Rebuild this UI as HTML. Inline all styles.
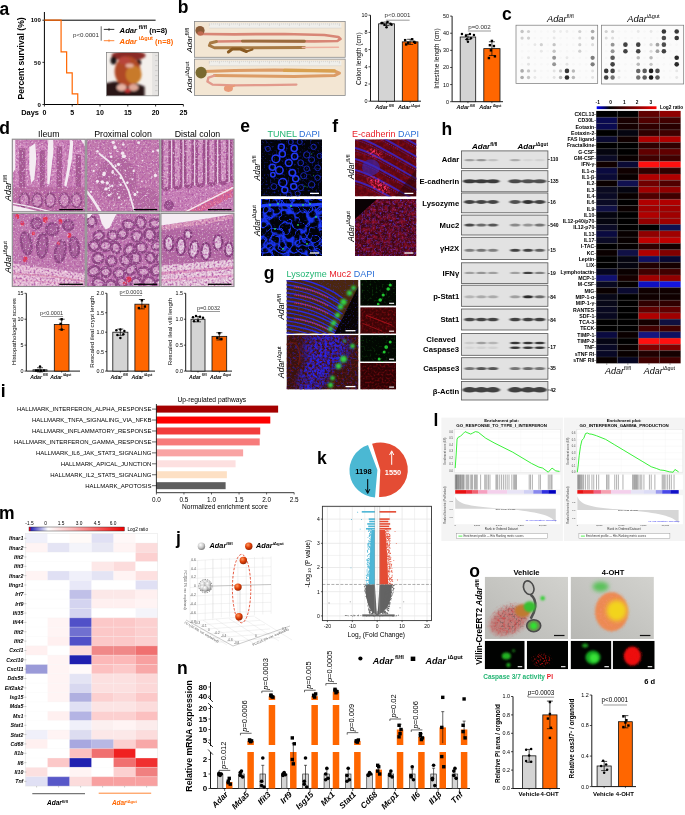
<!DOCTYPE html>
<html><head><meta charset="utf-8"><style>
html,body{margin:0;padding:0;background:#fff;width:685px;height:815px;overflow:hidden}
svg{display:block;will-change:transform}
text{font-family:"Liberation Sans",sans-serif}
</style></head><body>
<svg width="685" height="815" viewBox="0 0 685 815">
<defs><filter id="isoft" x="-50%" y="-50%" width="200%" height="200%"><feGaussianBlur stdDeviation="0.9"/></filter>
<clipPath id="c1"><rect x="106.6" y="52.6" width="52" height="43.2"/></clipPath>
<clipPath id="c2"><rect x="194.4" y="21.5" width="150.8" height="35.8"/></clipPath>
<clipPath id="c3"><rect x="194.4" y="59.1" width="150.8" height="36.3"/></clipPath>
<filter id="blur04" x="-20%" y="-20%" width="140%" height="140%"><feGaussianBlur stdDeviation="0.45"/></filter>
<filter id="blur08" x="-20%" y="-20%" width="140%" height="140%"><feGaussianBlur stdDeviation="0.8"/></filter>
<linearGradient id="gc" x1="0" x2="1" y1="0" y2="0"><stop offset="0" stop-color="#0000ff"/><stop offset="0.22" stop-color="#000000"/><stop offset="0.85" stop-color="#c00000"/><stop offset="1" stop-color="#ff0000"/></linearGradient>
<filter id="nuc" x="0" y="0" width="100%" height="100%"><feTurbulence type="fractalNoise" baseFrequency="0.5" numOctaves="2" seed="4"/><feColorMatrix type="matrix" values="0 0 0 0 0.44  0 0 0 0 0.1  0 0 0 0 0.38  2.8 0 0 0 -1.2"/></filter>
<filter id="nuc2" x="0" y="0" width="100%" height="100%"><feTurbulence type="fractalNoise" baseFrequency="0.9" numOctaves="2" seed="9"/><feColorMatrix type="matrix" values="0 0 0 0 0.3  0 0 0 0 0.08  0 0 0 0 0.32  3.2 0 0 0 -1.45"/></filter>
<filter id="wsp" x="0" y="0" width="100%" height="100%"><feTurbulence type="fractalNoise" baseFrequency="0.55" numOctaves="2" seed="11"/><feColorMatrix type="matrix" values="0 0 0 0 1  0 0 0 0 0.92  0 0 0 0 1  0 2.0 0 0 -1.1"/></filter>
<clipPath id="c4"><rect x="12.3" y="139.2" width="73" height="72.6"/></clipPath>
<clipPath id="c5"><rect x="86.7" y="139.2" width="73" height="72.6"/></clipPath>
<clipPath id="c6"><rect x="160.9" y="139.2" width="73.1" height="72.6"/></clipPath>
<clipPath id="c7"><rect x="12.3" y="213.4" width="73" height="73.1"/></clipPath>
<clipPath id="c8"><rect x="86.7" y="213.4" width="73" height="73.1"/></clipPath>
<clipPath id="c9"><rect x="160.9" y="213.4" width="73.1" height="73.1"/></clipPath>
<clipPath id="c10"><rect x="261" y="139.3" width="61" height="57.1"/></clipPath>
<filter id="nz1" x="0" y="0" width="100%" height="100%" color-interpolation-filters="sRGB"><feTurbulence type="fractalNoise" baseFrequency="0.5" numOctaves="2" seed="3"/><feColorMatrix type="matrix" values="0 0 0 0 0.1  0 0 0 0 0.15  0 0 0 0 0.85  1.8 0 0 0 -0.95"/></filter>
<clipPath id="c11"><rect x="261" y="198.9" width="61" height="57.1"/></clipPath>
<filter id="mesh" x="0" y="0" width="100%" height="100%" color-interpolation-filters="sRGB"><feTurbulence type="fractalNoise" baseFrequency="0.075" numOctaves="2" seed="21"/><feColorMatrix type="matrix" values="0 0 0 0 0.1  0 0 0 0 0.22  0 0 0 0 1  1 0 0 0 0"/><feComponentTransfer><feFuncA type="table" tableValues="0 0 0 0 0 0 0 0 0 0 0 0 0 0 0 0 0 0 0.15 0.6 1 0.6 0.15 0 0 0 0 0 0 0 0 0 0 0 0 0 0 0 0 0 0"/></feComponentTransfer></filter>
<filter id="mesh2" x="0" y="0" width="100%" height="100%" color-interpolation-filters="sRGB"><feTurbulence type="fractalNoise" baseFrequency="0.1" numOctaves="2" seed="37"/><feColorMatrix type="matrix" values="0 0 0 0 0.1  0 0 0 0 0.2  0 0 0 0 0.95  1 0 0 0 0"/><feComponentTransfer><feFuncA type="table" tableValues="0 0 0 0 0 0 0 0 0 0 0 0 0 0 0 0 0 0 0 0.4 1 0.4 0 0 0 0 0 0 0 0 0 0 0 0 0 0 0 0 0 0 0"/></feComponentTransfer></filter>
<filter id="nz2" x="0" y="0" width="100%" height="100%" color-interpolation-filters="sRGB"><feTurbulence type="fractalNoise" baseFrequency="0.5" numOctaves="2" seed="8"/><feColorMatrix type="matrix" values="0 0 0 0 0.12  0 0 0 0 0.22  0 0 0 0 1  1.8 0 0 0 -1.05"/></filter>
<clipPath id="c12"><rect x="355" y="139.3" width="61.4" height="57.1"/></clipPath>
<filter id="nz3" x="0" y="0" width="100%" height="100%" color-interpolation-filters="sRGB"><feTurbulence type="fractalNoise" baseFrequency="0.3" numOctaves="2" seed="5"/><feColorMatrix type="matrix" values="0 0 0 0 0.62  0 0 0 0 0.05  0 0 0 0 0.1  1.5 0 0 0 -0.6"/></filter>
<radialGradient id="rgfade"><stop offset="0" stop-color="#fff"/><stop offset="0.55" stop-color="#fff"/><stop offset="1" stop-color="#fff" stop-opacity="0"/></radialGradient>
<mask id="mk1" maskUnits="userSpaceOnUse" x="0" y="0" width="685" height="815"><ellipse cx="379" cy="185.3" rx="16" ry="7" fill="url(#rgfade)" transform="rotate(35 379 185.3)"/></mask>
<filter id="nz4" x="0" y="0" width="100%" height="100%" color-interpolation-filters="sRGB"><feTurbulence type="fractalNoise" baseFrequency="0.45" numOctaves="2" seed="12"/><feColorMatrix type="matrix" values="0 0 0 0 1  0 0 0 0 0.2  0 0 0 0 0.4  3.2 0 0 0 -1.3"/></filter>
<mask id="mk2" maskUnits="userSpaceOnUse" x="0" y="0" width="685" height="815"><ellipse cx="375" cy="153.3" rx="10" ry="5" fill="url(#rgfade)" transform="rotate(20 375 153.3)"/></mask>
<filter id="nz5" x="0" y="0" width="100%" height="100%" color-interpolation-filters="sRGB"><feTurbulence type="fractalNoise" baseFrequency="0.45" numOctaves="2" seed="13"/><feColorMatrix type="matrix" values="0 0 0 0 1  0 0 0 0 0.2  0 0 0 0 0.4  3.2 0 0 0 -1.3"/></filter>
<clipPath id="c13"><rect x="355" y="198.9" width="61.4" height="57.1"/></clipPath>
<filter id="nz6" x="0" y="0" width="100%" height="100%" color-interpolation-filters="sRGB"><feTurbulence type="fractalNoise" baseFrequency="0.55" numOctaves="2" seed="14"/><feColorMatrix type="matrix" values="0 0 0 0 0.36  0 0 0 0 0.2  0 0 0 0 0.85  2.3 0 0 0 -1.05"/></filter>
<filter id="nz7" x="0" y="0" width="100%" height="100%" color-interpolation-filters="sRGB"><feTurbulence type="fractalNoise" baseFrequency="0.25" numOctaves="2" seed="15"/><feColorMatrix type="matrix" values="0 0 0 0 0.7  0 0 0 0 0.08  0 0 0 0 0.18  1.4 0 0 0 -0.5"/></filter>
<clipPath id="c14"><rect x="286.5" y="280" width="72" height="53.7"/></clipPath>
<filter id="nz8" x="0" y="0" width="100%" height="100%" color-interpolation-filters="sRGB"><feTurbulence type="fractalNoise" baseFrequency="0.6" numOctaves="2" seed="31"/><feColorMatrix type="matrix" values="0 0 0 0 0.2  0 0 0 0 0.2  0 0 0 0 0.95  1.6 0 0 0 -0.9"/></filter>
<clipPath id="c15"><rect x="286.5" y="335.1" width="72" height="54.5"/></clipPath>
<radialGradient id="g2m"><stop offset="0" stop-color="#fff"/><stop offset="0.6" stop-color="#fff" stop-opacity="0.8"/><stop offset="1" stop-color="#fff" stop-opacity="0"/></radialGradient>
<mask id="g2mask"><ellipse cx="326.5" cy="349.1" rx="30" ry="26" fill="url(#g2m)"/><ellipse cx="314.5" cy="375.1" rx="18" ry="30" fill="url(#g2m)" transform="rotate(30 314.5 375.1)"/></mask>
<filter id="nz9" x="0" y="0" width="100%" height="100%" color-interpolation-filters="sRGB"><feTurbulence type="fractalNoise" baseFrequency="0.4" numOctaves="2" seed="33"/><feColorMatrix type="matrix" values="0 0 0 0 0.16  0 0 0 0 0.14  0 0 0 0 0.95  3.4 0 0 0 -1.1"/></filter>
<filter id="nz10" x="0" y="0" width="100%" height="100%" color-interpolation-filters="sRGB"><feTurbulence type="fractalNoise" baseFrequency="0.4" numOctaves="2" seed="35"/><feColorMatrix type="matrix" values="0 0 0 0 0.16  0 0 0 0 0.14  0 0 0 0 0.9  2 0 0 0 -1.05"/></filter>
<filter id="nz11" x="0" y="0" width="100%" height="100%" color-interpolation-filters="sRGB"><feTurbulence type="fractalNoise" baseFrequency="0.5" numOctaves="2" seed="34"/><feColorMatrix type="matrix" values="0 0 0 0 0.55  0 0 0 0 0.08  0 0 0 0 0.1  2 0 0 0 -1"/></filter>
<clipPath id="c16"><rect x="360.2" y="280" width="35.9" height="25.8"/></clipPath>
<filter id="nz12" x="0" y="0" width="100%" height="100%" color-interpolation-filters="sRGB"><feTurbulence type="fractalNoise" baseFrequency="0.5" numOctaves="2" seed="41"/><feColorMatrix type="matrix" values="0 0 0 0 0.1  0 0 0 0 0.5  0 0 0 0 0.1  1.5 0 0 0 -0.85"/></filter>
<clipPath id="c17"><rect x="360.2" y="307.2" width="35.9" height="26.5"/></clipPath>
<filter id="nz13" x="0" y="0" width="100%" height="100%" color-interpolation-filters="sRGB"><feTurbulence type="fractalNoise" baseFrequency="0.5" numOctaves="2" seed="51"/><feColorMatrix type="matrix" values="0 0 0 0 0.6  0 0 0 0 0.05  0 0 0 0 0.08  1.8 0 0 0 -0.8"/></filter>
<clipPath id="c18"><rect x="360.2" y="335.1" width="35.9" height="26.6"/></clipPath>
<filter id="nz14" x="0" y="0" width="100%" height="100%" color-interpolation-filters="sRGB"><feTurbulence type="fractalNoise" baseFrequency="0.5" numOctaves="2" seed="42"/><feColorMatrix type="matrix" values="0 0 0 0 0.1  0 0 0 0 0.5  0 0 0 0 0.1  1.5 0 0 0 -0.85"/></filter>
<clipPath id="c19"><rect x="360.2" y="363" width="35.9" height="26.6"/></clipPath>
<filter id="nz15" x="0" y="0" width="100%" height="100%" color-interpolation-filters="sRGB"><feTurbulence type="fractalNoise" baseFrequency="0.5" numOctaves="2" seed="52"/><feColorMatrix type="matrix" values="0 0 0 0 0.6  0 0 0 0 0.05  0 0 0 0 0.08  1.8 0 0 0 -0.8"/></filter>
<filter id="bandblur" x="-30%" y="-80%" width="160%" height="260%"><feGaussianBlur stdDeviation="0.9 0.6"/></filter>
<linearGradient id="gm" x1="0" x2="1" y1="0" y2="0"><stop offset="0" stop-color="#1010b0"/><stop offset="0.2" stop-color="#ffffff"/><stop offset="0.45" stop-color="#fbbaba"/><stop offset="1" stop-color="#f00000"/></linearGradient>
<radialGradient id="sph_g" cx="0.38" cy="0.32" r="0.75"><stop offset="0" stop-color="#ffffff"/><stop offset="0.55" stop-color="#c8c8c8"/><stop offset="1" stop-color="#6e6e6e"/></radialGradient>
<radialGradient id="sph_o" cx="0.38" cy="0.32" r="0.75"><stop offset="0" stop-color="#ff9a60"/><stop offset="0.5" stop-color="#e04008"/><stop offset="1" stop-color="#8a2000"/></radialGradient>
<linearGradient id="obg" x1="0" y1="1" x2="1" y2="0"><stop offset="0" stop-color="#b8b8b4"/><stop offset="1" stop-color="#d2d2ce"/></linearGradient>
<filter id="soft1" x="-50%" y="-50%" width="200%" height="200%"><feGaussianBlur stdDeviation="1.2"/></filter>
<filter id="soft2" x="-50%" y="-50%" width="200%" height="200%"><feGaussianBlur stdDeviation="2.2"/></filter>
<clipPath id="c20"><rect x="484.7" y="576.7" width="83.3" height="62.3"/></clipPath>
<mask id="mk3" maskUnits="userSpaceOnUse" x="0" y="0" width="685" height="815"><ellipse cx="508.7" cy="619.7" rx="24" ry="18" fill="url(#rgfade)" transform="rotate(-25 508.7 619.7)"/></mask>
<filter id="nz16" x="0" y="0" width="100%" height="100%" color-interpolation-filters="sRGB"><feTurbulence type="fractalNoise" baseFrequency="0.35" numOctaves="2" seed="62"/><feColorMatrix type="matrix" values="0 0 0 0 0.8  0 0 0 0 0.25  0 0 0 0 0.25  2 0 0 0 -0.9"/></filter>
<mask id="mk4" maskUnits="userSpaceOnUse" x="0" y="0" width="685" height="815"><ellipse cx="510.7" cy="618.7" rx="20" ry="16" fill="url(#rgfade)" transform="rotate(-25 510.7 618.7)"/></mask>
<filter id="nz17" x="0" y="0" width="100%" height="100%" color-interpolation-filters="sRGB"><feTurbulence type="fractalNoise" baseFrequency="0.5" numOctaves="2" seed="65"/><feColorMatrix type="matrix" values="0 0 0 0 0.3  0 0 0 0 0.3  0 0 0 0 0.3  1.8 0 0 0 -0.9"/></filter>
<clipPath id="c21"><rect x="570.6" y="576.7" width="83.3" height="62.3"/></clipPath>
<mask id="mk5" maskUnits="userSpaceOnUse" x="0" y="0" width="685" height="815"><ellipse cx="611.6" cy="611.7" rx="20" ry="23" fill="url(#rgfade)" transform="rotate(0 611.6 611.7)"/></mask>
<filter id="nz18" x="0" y="0" width="100%" height="100%" color-interpolation-filters="sRGB"><feTurbulence type="fractalNoise" baseFrequency="0.45" numOctaves="2" seed="63"/><feColorMatrix type="matrix" values="0 0 0 0 0.95  0 0 0 0 0.55  0 0 0 0 0.4  2 0 0 0 -0.9"/></filter>
<clipPath id="c22"><rect x="484.7" y="640.8" width="40" height="28.4"/></clipPath>
<clipPath id="c23"><rect x="526.8" y="640.8" width="41.2" height="28.4"/></clipPath>
<mask id="mk6" maskUnits="userSpaceOnUse" x="0" y="0" width="685" height="815"><ellipse cx="541.7" cy="660" rx="12" ry="8" fill="url(#rgfade)" transform="rotate(0 541.7 660)"/></mask>
<filter id="nz19" x="0" y="0" width="100%" height="100%" color-interpolation-filters="sRGB"><feTurbulence type="fractalNoise" baseFrequency="0.55" numOctaves="2" seed="72"/><feColorMatrix type="matrix" values="0 0 0 0 0.85  0 0 0 0 0.06  0 0 0 0 0.06  2.6 0 0 0 -1.2"/></filter>
<clipPath id="c24"><rect x="570.6" y="640.8" width="40.8" height="28.4"/></clipPath>
<clipPath id="c25"><rect x="612.7" y="640.8" width="42" height="28.4"/></clipPath>
<mask id="mk7" maskUnits="userSpaceOnUse" x="0" y="0" width="685" height="815"><ellipse cx="632.4" cy="656.1" rx="12" ry="12" fill="url(#rgfade)" transform="rotate(0 632.4 656.1)"/></mask>
<filter id="nz20" x="0" y="0" width="100%" height="100%" color-interpolation-filters="sRGB"><feTurbulence type="fractalNoise" baseFrequency="0.5" numOctaves="2" seed="74"/><feColorMatrix type="matrix" values="0 0 0 0 0.9  0 0 0 0 0.05  0 0 0 0 0.05  2 0 0 0 -1"/></filter></defs>
<text x="-0.6" y="14.5" font-size="17.5" font-weight="bold">a</text>
<line x1="44.4" y1="12" x2="44.4" y2="104.5" stroke="#000" stroke-width="1"/>
<line x1="44.4" y1="104.5" x2="183.4" y2="104.5" stroke="#000" stroke-width="1"/>
<line x1="42.4" y1="104.5" x2="44.4" y2="104.5" stroke="#000" stroke-width="0.8"/>
<text x="40.9" y="106.7" font-size="6.1" font-weight="bold" text-anchor="end">0</text>
<line x1="42.4" y1="62.35" x2="44.4" y2="62.35" stroke="#000" stroke-width="0.8"/>
<text x="40.9" y="64.55" font-size="6.1" font-weight="bold" text-anchor="end">50</text>
<line x1="42.4" y1="20.2" x2="44.4" y2="20.2" stroke="#000" stroke-width="0.8"/>
<text x="40.9" y="22.4" font-size="6.1" font-weight="bold" text-anchor="end">100</text>
<line x1="44.4" y1="104.5" x2="44.4" y2="106.5" stroke="#000" stroke-width="0.8"/>
<text x="44.4" y="115.3" font-size="7" font-weight="bold" text-anchor="middle">0</text>
<line x1="72.2" y1="104.5" x2="72.2" y2="106.5" stroke="#000" stroke-width="0.8"/>
<text x="72.2" y="115.3" font-size="7" font-weight="bold" text-anchor="middle">5</text>
<line x1="100" y1="104.5" x2="100" y2="106.5" stroke="#000" stroke-width="0.8"/>
<text x="100" y="115.3" font-size="7" font-weight="bold" text-anchor="middle">10</text>
<line x1="127.8" y1="104.5" x2="127.8" y2="106.5" stroke="#000" stroke-width="0.8"/>
<text x="127.8" y="115.3" font-size="7" font-weight="bold" text-anchor="middle">15</text>
<line x1="155.6" y1="104.5" x2="155.6" y2="106.5" stroke="#000" stroke-width="0.8"/>
<text x="155.6" y="115.3" font-size="7" font-weight="bold" text-anchor="middle">20</text>
<line x1="183.4" y1="104.5" x2="183.4" y2="106.5" stroke="#000" stroke-width="0.8"/>
<text x="183.4" y="115.3" font-size="7" font-weight="bold" text-anchor="middle">25</text>
<text x="21.2" y="115.3" font-size="7.4" font-weight="bold">Days</text>
<text x="24.2" y="58.4" font-size="8.6" font-weight="bold" text-anchor="middle" transform="rotate(-90 24.2 58.4)">Percent survival (%)</text>
<line x1="44.4" y1="20.2" x2="155.6" y2="20.2" stroke="#000" stroke-width="1"/>
<path d="M44.4 20.2 L61.08 20.2 L61.08 51.81 L66.64 51.81 L66.64 72.89 L72.2 72.89 L72.2 93.96 L77.76 93.96 L77.76 104.5" fill="none" stroke="#ff6600" stroke-width="1.2"/>
<text x="73" y="37.1" font-size="6.2" fill="#333">p&lt;0.0001</text>
<line x1="101.2" y1="26.3" x2="101.2" y2="40.7" stroke="#000" stroke-width="0.6"/>
<line x1="103.8" y1="29.4" x2="114.3" y2="29.4" stroke="#000" stroke-width="0.8"/>
<line x1="109" y1="28" x2="109" y2="31" stroke="#000" stroke-width="0.6"/>
<line x1="103.8" y1="40.7" x2="114.3" y2="40.7" stroke="#ff6600" stroke-width="0.8"/>
<line x1="109" y1="39.3" x2="109" y2="42.1" stroke="#ff6600" stroke-width="0.6"/>
<text x="119.6" y="32.6" font-size="7.7" font-weight="bold" fill="#000"><tspan font-style="italic">Adar</tspan><tspan font-size="5.62" dy="-3.85"> fl/fl</tspan><tspan font-size="7.5" dy="3.85"> (n=8)</tspan></text>
<text x="119.6" y="43.6" font-size="7.7" font-weight="bold" fill="#ff6600"><tspan font-style="italic">Adar</tspan><tspan font-size="5.62" dy="-3.85"> iΔgut</tspan><tspan font-size="7.5" dy="3.85"> (n=8)</tspan></text>
<g clip-path="url(#c1)">
<rect x="106.6" y="52.6" width="52" height="43.2" fill="#f4f0ec"/>
<rect x="152.1" y="52.6" width="6.5" height="43.2" fill="#e6e4e2"/>
<line x1="155.1" y1="55.6" x2="157.6" y2="55.6" stroke="#aaa" stroke-width="0.4"/>
<line x1="155.1" y1="60.6" x2="157.6" y2="60.6" stroke="#aaa" stroke-width="0.4"/>
<line x1="155.1" y1="65.6" x2="157.6" y2="65.6" stroke="#aaa" stroke-width="0.4"/>
<line x1="155.1" y1="70.6" x2="157.6" y2="70.6" stroke="#aaa" stroke-width="0.4"/>
<line x1="155.1" y1="75.6" x2="157.6" y2="75.6" stroke="#aaa" stroke-width="0.4"/>
<line x1="155.1" y1="80.6" x2="157.6" y2="80.6" stroke="#aaa" stroke-width="0.4"/>
<line x1="155.1" y1="85.6" x2="157.6" y2="85.6" stroke="#aaa" stroke-width="0.4"/>
<line x1="155.1" y1="90.6" x2="157.6" y2="90.6" stroke="#aaa" stroke-width="0.4"/>
<line x1="155.1" y1="95.6" x2="157.6" y2="95.6" stroke="#aaa" stroke-width="0.4"/>
<g filter="url(#isoft)">
<path d="M104.6 83.6 L114.6 81.6 L136.6 83.6 L144.6 86.6 L144.6 97.8 L104.6 97.8 Z" fill="#2a1418" stroke="none" stroke-width="1"/>
<ellipse cx="128.6" cy="55.6" rx="17" ry="5" fill="#8a2c26"/>
<ellipse cx="113.6" cy="60.6" rx="3" ry="4" fill="#1a1212"/>
<ellipse cx="138.6" cy="62.6" rx="2.5" ry="3" fill="#1a1212"/>
<ellipse cx="127.6" cy="71.6" rx="13" ry="15" fill="#b04a28"/>
<ellipse cx="133.6" cy="74.6" rx="8" ry="9" fill="#c87a2a"/>
<ellipse cx="124.6" cy="60.6" rx="6" ry="4" fill="#b8443a"/>
<ellipse cx="129.6" cy="65.6" rx="4" ry="2" fill="#e8b0a0"/>
<ellipse cx="121.6" cy="87.6" rx="5" ry="3.5" fill="#e8b4a4"/>
<ellipse cx="133.6" cy="87.6" rx="5" ry="3.5" fill="#e0a898"/>
<ellipse cx="127.6" cy="90.6" rx="3" ry="2" fill="#c83030"/>
</g>
</g>
<rect x="106.6" y="52.6" width="52" height="43.2" fill="none" stroke="#777" stroke-width="0.7"/>
<text x="177.8" y="13" font-size="17.5" font-weight="bold">b</text>
<g clip-path="url(#c2)">
<rect x="194.4" y="21.5" width="150.8" height="35.8" fill="#f3e6d3"/>
<rect x="209.4" y="23.1" width="132" height="5" fill="#f0efeb"/>
<line x1="209.4" y1="28.1" x2="341.4" y2="28.1" stroke="#bbb" stroke-width="0.3"/>
<line x1="209.4" y1="23.3" x2="209.4" y2="25.9" stroke="#8a8a8a" stroke-width="0.25"/>
<line x1="211.4" y1="23.3" x2="211.4" y2="24.5" stroke="#8a8a8a" stroke-width="0.25"/>
<line x1="213.4" y1="23.3" x2="213.4" y2="24.5" stroke="#8a8a8a" stroke-width="0.25"/>
<line x1="215.4" y1="23.3" x2="215.4" y2="24.5" stroke="#8a8a8a" stroke-width="0.25"/>
<line x1="217.4" y1="23.3" x2="217.4" y2="24.5" stroke="#8a8a8a" stroke-width="0.25"/>
<line x1="219.4" y1="23.3" x2="219.4" y2="25.9" stroke="#8a8a8a" stroke-width="0.25"/>
<line x1="221.4" y1="23.3" x2="221.4" y2="24.5" stroke="#8a8a8a" stroke-width="0.25"/>
<line x1="223.4" y1="23.3" x2="223.4" y2="24.5" stroke="#8a8a8a" stroke-width="0.25"/>
<line x1="225.4" y1="23.3" x2="225.4" y2="24.5" stroke="#8a8a8a" stroke-width="0.25"/>
<line x1="227.4" y1="23.3" x2="227.4" y2="24.5" stroke="#8a8a8a" stroke-width="0.25"/>
<line x1="229.4" y1="23.3" x2="229.4" y2="25.9" stroke="#8a8a8a" stroke-width="0.25"/>
<line x1="231.4" y1="23.3" x2="231.4" y2="24.5" stroke="#8a8a8a" stroke-width="0.25"/>
<line x1="233.4" y1="23.3" x2="233.4" y2="24.5" stroke="#8a8a8a" stroke-width="0.25"/>
<line x1="235.4" y1="23.3" x2="235.4" y2="24.5" stroke="#8a8a8a" stroke-width="0.25"/>
<line x1="237.4" y1="23.3" x2="237.4" y2="24.5" stroke="#8a8a8a" stroke-width="0.25"/>
<line x1="239.4" y1="23.3" x2="239.4" y2="25.9" stroke="#8a8a8a" stroke-width="0.25"/>
<line x1="241.4" y1="23.3" x2="241.4" y2="24.5" stroke="#8a8a8a" stroke-width="0.25"/>
<line x1="243.4" y1="23.3" x2="243.4" y2="24.5" stroke="#8a8a8a" stroke-width="0.25"/>
<line x1="245.4" y1="23.3" x2="245.4" y2="24.5" stroke="#8a8a8a" stroke-width="0.25"/>
<line x1="247.4" y1="23.3" x2="247.4" y2="24.5" stroke="#8a8a8a" stroke-width="0.25"/>
<line x1="249.4" y1="23.3" x2="249.4" y2="25.9" stroke="#8a8a8a" stroke-width="0.25"/>
<line x1="251.4" y1="23.3" x2="251.4" y2="24.5" stroke="#8a8a8a" stroke-width="0.25"/>
<line x1="253.4" y1="23.3" x2="253.4" y2="24.5" stroke="#8a8a8a" stroke-width="0.25"/>
<line x1="255.4" y1="23.3" x2="255.4" y2="24.5" stroke="#8a8a8a" stroke-width="0.25"/>
<line x1="257.4" y1="23.3" x2="257.4" y2="24.5" stroke="#8a8a8a" stroke-width="0.25"/>
<line x1="259.4" y1="23.3" x2="259.4" y2="25.9" stroke="#8a8a8a" stroke-width="0.25"/>
<line x1="261.4" y1="23.3" x2="261.4" y2="24.5" stroke="#8a8a8a" stroke-width="0.25"/>
<line x1="263.4" y1="23.3" x2="263.4" y2="24.5" stroke="#8a8a8a" stroke-width="0.25"/>
<line x1="265.4" y1="23.3" x2="265.4" y2="24.5" stroke="#8a8a8a" stroke-width="0.25"/>
<line x1="267.4" y1="23.3" x2="267.4" y2="24.5" stroke="#8a8a8a" stroke-width="0.25"/>
<line x1="269.4" y1="23.3" x2="269.4" y2="25.9" stroke="#8a8a8a" stroke-width="0.25"/>
<line x1="271.4" y1="23.3" x2="271.4" y2="24.5" stroke="#8a8a8a" stroke-width="0.25"/>
<line x1="273.4" y1="23.3" x2="273.4" y2="24.5" stroke="#8a8a8a" stroke-width="0.25"/>
<line x1="275.4" y1="23.3" x2="275.4" y2="24.5" stroke="#8a8a8a" stroke-width="0.25"/>
<line x1="277.4" y1="23.3" x2="277.4" y2="24.5" stroke="#8a8a8a" stroke-width="0.25"/>
<line x1="279.4" y1="23.3" x2="279.4" y2="25.9" stroke="#8a8a8a" stroke-width="0.25"/>
<line x1="281.4" y1="23.3" x2="281.4" y2="24.5" stroke="#8a8a8a" stroke-width="0.25"/>
<line x1="283.4" y1="23.3" x2="283.4" y2="24.5" stroke="#8a8a8a" stroke-width="0.25"/>
<line x1="285.4" y1="23.3" x2="285.4" y2="24.5" stroke="#8a8a8a" stroke-width="0.25"/>
<line x1="287.4" y1="23.3" x2="287.4" y2="24.5" stroke="#8a8a8a" stroke-width="0.25"/>
<line x1="289.4" y1="23.3" x2="289.4" y2="25.9" stroke="#8a8a8a" stroke-width="0.25"/>
<line x1="291.4" y1="23.3" x2="291.4" y2="24.5" stroke="#8a8a8a" stroke-width="0.25"/>
<line x1="293.4" y1="23.3" x2="293.4" y2="24.5" stroke="#8a8a8a" stroke-width="0.25"/>
<line x1="295.4" y1="23.3" x2="295.4" y2="24.5" stroke="#8a8a8a" stroke-width="0.25"/>
<line x1="297.4" y1="23.3" x2="297.4" y2="24.5" stroke="#8a8a8a" stroke-width="0.25"/>
<line x1="299.4" y1="23.3" x2="299.4" y2="25.9" stroke="#8a8a8a" stroke-width="0.25"/>
<line x1="301.4" y1="23.3" x2="301.4" y2="24.5" stroke="#8a8a8a" stroke-width="0.25"/>
<line x1="303.4" y1="23.3" x2="303.4" y2="24.5" stroke="#8a8a8a" stroke-width="0.25"/>
<line x1="305.4" y1="23.3" x2="305.4" y2="24.5" stroke="#8a8a8a" stroke-width="0.25"/>
<line x1="307.4" y1="23.3" x2="307.4" y2="24.5" stroke="#8a8a8a" stroke-width="0.25"/>
<line x1="309.4" y1="23.3" x2="309.4" y2="25.9" stroke="#8a8a8a" stroke-width="0.25"/>
<line x1="311.4" y1="23.3" x2="311.4" y2="24.5" stroke="#8a8a8a" stroke-width="0.25"/>
<line x1="313.4" y1="23.3" x2="313.4" y2="24.5" stroke="#8a8a8a" stroke-width="0.25"/>
<line x1="315.4" y1="23.3" x2="315.4" y2="24.5" stroke="#8a8a8a" stroke-width="0.25"/>
<line x1="317.4" y1="23.3" x2="317.4" y2="24.5" stroke="#8a8a8a" stroke-width="0.25"/>
<line x1="319.4" y1="23.3" x2="319.4" y2="25.9" stroke="#8a8a8a" stroke-width="0.25"/>
<line x1="321.4" y1="23.3" x2="321.4" y2="24.5" stroke="#8a8a8a" stroke-width="0.25"/>
<line x1="323.4" y1="23.3" x2="323.4" y2="24.5" stroke="#8a8a8a" stroke-width="0.25"/>
<line x1="325.4" y1="23.3" x2="325.4" y2="24.5" stroke="#8a8a8a" stroke-width="0.25"/>
<line x1="327.4" y1="23.3" x2="327.4" y2="24.5" stroke="#8a8a8a" stroke-width="0.25"/>
<line x1="329.4" y1="23.3" x2="329.4" y2="25.9" stroke="#8a8a8a" stroke-width="0.25"/>
<line x1="331.4" y1="23.3" x2="331.4" y2="24.5" stroke="#8a8a8a" stroke-width="0.25"/>
<line x1="333.4" y1="23.3" x2="333.4" y2="24.5" stroke="#8a8a8a" stroke-width="0.25"/>
<line x1="335.4" y1="23.3" x2="335.4" y2="24.5" stroke="#8a8a8a" stroke-width="0.25"/>
<line x1="337.4" y1="23.3" x2="337.4" y2="24.5" stroke="#8a8a8a" stroke-width="0.25"/>
<line x1="339.4" y1="23.3" x2="339.4" y2="25.9" stroke="#8a8a8a" stroke-width="0.25"/>
<path d="M202.4 34 L234.4 34.3 L284.4 34 L324.4 35 L338.4 37 L340.4 39 L337.4 41 L314.4 41.3 L254.4 41 L216.4 41.5" fill="none" stroke="#d88676" stroke-width="2.7" stroke-linejoin="round" stroke-linecap="round"/>
<path d="M242.4 41.1 L304.4 41.3" fill="none" stroke="#9a6a3c" stroke-width="2.9" stroke-linejoin="round" stroke-linecap="round"/>
<path d="M216.4 41.5 L210.4 43 L209.4 45.5 L214.4 47.8 L254.4 47.7 L304.4 47.5" fill="none" stroke="#a87a44" stroke-width="2.9" stroke-linejoin="round" stroke-linecap="round"/>
<path d="M302.4 47.5 L338.4 47.3" fill="none" stroke="#eeb0a0" stroke-width="1.6" stroke-linejoin="round" stroke-linecap="round"/>
<path d="M228.4 52 L232.4 49 L240.4 49 L246.4 51.5" fill="none" stroke="#8a5a22" stroke-width="3" stroke-linejoin="round" stroke-linecap="round"/>
<path d="M246.4 51.5 L252.4 49.5" fill="none" stroke="#8a5a22" stroke-width="2.2" stroke-linejoin="round" stroke-linecap="round"/>
<ellipse cx="200" cy="30.5" rx="4.6" ry="4.6" fill="#8a5a36"/>
<ellipse cx="200.4" cy="33.5" rx="3" ry="2.2" fill="#c06a50"/>
</g>
<rect x="194.4" y="21.5" width="150.8" height="35.8" fill="none" stroke="#888" stroke-width="0.8"/>
<g clip-path="url(#c3)">
<rect x="194.4" y="59.1" width="150.8" height="36.3" fill="#f3e6d3"/>
<rect x="209.4" y="60.7" width="132" height="5" fill="#f0efeb"/>
<line x1="209.4" y1="65.7" x2="341.4" y2="65.7" stroke="#bbb" stroke-width="0.3"/>
<line x1="209.4" y1="60.9" x2="209.4" y2="63.5" stroke="#8a8a8a" stroke-width="0.25"/>
<line x1="211.4" y1="60.9" x2="211.4" y2="62.1" stroke="#8a8a8a" stroke-width="0.25"/>
<line x1="213.4" y1="60.9" x2="213.4" y2="62.1" stroke="#8a8a8a" stroke-width="0.25"/>
<line x1="215.4" y1="60.9" x2="215.4" y2="62.1" stroke="#8a8a8a" stroke-width="0.25"/>
<line x1="217.4" y1="60.9" x2="217.4" y2="62.1" stroke="#8a8a8a" stroke-width="0.25"/>
<line x1="219.4" y1="60.9" x2="219.4" y2="63.5" stroke="#8a8a8a" stroke-width="0.25"/>
<line x1="221.4" y1="60.9" x2="221.4" y2="62.1" stroke="#8a8a8a" stroke-width="0.25"/>
<line x1="223.4" y1="60.9" x2="223.4" y2="62.1" stroke="#8a8a8a" stroke-width="0.25"/>
<line x1="225.4" y1="60.9" x2="225.4" y2="62.1" stroke="#8a8a8a" stroke-width="0.25"/>
<line x1="227.4" y1="60.9" x2="227.4" y2="62.1" stroke="#8a8a8a" stroke-width="0.25"/>
<line x1="229.4" y1="60.9" x2="229.4" y2="63.5" stroke="#8a8a8a" stroke-width="0.25"/>
<line x1="231.4" y1="60.9" x2="231.4" y2="62.1" stroke="#8a8a8a" stroke-width="0.25"/>
<line x1="233.4" y1="60.9" x2="233.4" y2="62.1" stroke="#8a8a8a" stroke-width="0.25"/>
<line x1="235.4" y1="60.9" x2="235.4" y2="62.1" stroke="#8a8a8a" stroke-width="0.25"/>
<line x1="237.4" y1="60.9" x2="237.4" y2="62.1" stroke="#8a8a8a" stroke-width="0.25"/>
<line x1="239.4" y1="60.9" x2="239.4" y2="63.5" stroke="#8a8a8a" stroke-width="0.25"/>
<line x1="241.4" y1="60.9" x2="241.4" y2="62.1" stroke="#8a8a8a" stroke-width="0.25"/>
<line x1="243.4" y1="60.9" x2="243.4" y2="62.1" stroke="#8a8a8a" stroke-width="0.25"/>
<line x1="245.4" y1="60.9" x2="245.4" y2="62.1" stroke="#8a8a8a" stroke-width="0.25"/>
<line x1="247.4" y1="60.9" x2="247.4" y2="62.1" stroke="#8a8a8a" stroke-width="0.25"/>
<line x1="249.4" y1="60.9" x2="249.4" y2="63.5" stroke="#8a8a8a" stroke-width="0.25"/>
<line x1="251.4" y1="60.9" x2="251.4" y2="62.1" stroke="#8a8a8a" stroke-width="0.25"/>
<line x1="253.4" y1="60.9" x2="253.4" y2="62.1" stroke="#8a8a8a" stroke-width="0.25"/>
<line x1="255.4" y1="60.9" x2="255.4" y2="62.1" stroke="#8a8a8a" stroke-width="0.25"/>
<line x1="257.4" y1="60.9" x2="257.4" y2="62.1" stroke="#8a8a8a" stroke-width="0.25"/>
<line x1="259.4" y1="60.9" x2="259.4" y2="63.5" stroke="#8a8a8a" stroke-width="0.25"/>
<line x1="261.4" y1="60.9" x2="261.4" y2="62.1" stroke="#8a8a8a" stroke-width="0.25"/>
<line x1="263.4" y1="60.9" x2="263.4" y2="62.1" stroke="#8a8a8a" stroke-width="0.25"/>
<line x1="265.4" y1="60.9" x2="265.4" y2="62.1" stroke="#8a8a8a" stroke-width="0.25"/>
<line x1="267.4" y1="60.9" x2="267.4" y2="62.1" stroke="#8a8a8a" stroke-width="0.25"/>
<line x1="269.4" y1="60.9" x2="269.4" y2="63.5" stroke="#8a8a8a" stroke-width="0.25"/>
<line x1="271.4" y1="60.9" x2="271.4" y2="62.1" stroke="#8a8a8a" stroke-width="0.25"/>
<line x1="273.4" y1="60.9" x2="273.4" y2="62.1" stroke="#8a8a8a" stroke-width="0.25"/>
<line x1="275.4" y1="60.9" x2="275.4" y2="62.1" stroke="#8a8a8a" stroke-width="0.25"/>
<line x1="277.4" y1="60.9" x2="277.4" y2="62.1" stroke="#8a8a8a" stroke-width="0.25"/>
<line x1="279.4" y1="60.9" x2="279.4" y2="63.5" stroke="#8a8a8a" stroke-width="0.25"/>
<line x1="281.4" y1="60.9" x2="281.4" y2="62.1" stroke="#8a8a8a" stroke-width="0.25"/>
<line x1="283.4" y1="60.9" x2="283.4" y2="62.1" stroke="#8a8a8a" stroke-width="0.25"/>
<line x1="285.4" y1="60.9" x2="285.4" y2="62.1" stroke="#8a8a8a" stroke-width="0.25"/>
<line x1="287.4" y1="60.9" x2="287.4" y2="62.1" stroke="#8a8a8a" stroke-width="0.25"/>
<line x1="289.4" y1="60.9" x2="289.4" y2="63.5" stroke="#8a8a8a" stroke-width="0.25"/>
<line x1="291.4" y1="60.9" x2="291.4" y2="62.1" stroke="#8a8a8a" stroke-width="0.25"/>
<line x1="293.4" y1="60.9" x2="293.4" y2="62.1" stroke="#8a8a8a" stroke-width="0.25"/>
<line x1="295.4" y1="60.9" x2="295.4" y2="62.1" stroke="#8a8a8a" stroke-width="0.25"/>
<line x1="297.4" y1="60.9" x2="297.4" y2="62.1" stroke="#8a8a8a" stroke-width="0.25"/>
<line x1="299.4" y1="60.9" x2="299.4" y2="63.5" stroke="#8a8a8a" stroke-width="0.25"/>
<line x1="301.4" y1="60.9" x2="301.4" y2="62.1" stroke="#8a8a8a" stroke-width="0.25"/>
<line x1="303.4" y1="60.9" x2="303.4" y2="62.1" stroke="#8a8a8a" stroke-width="0.25"/>
<line x1="305.4" y1="60.9" x2="305.4" y2="62.1" stroke="#8a8a8a" stroke-width="0.25"/>
<line x1="307.4" y1="60.9" x2="307.4" y2="62.1" stroke="#8a8a8a" stroke-width="0.25"/>
<line x1="309.4" y1="60.9" x2="309.4" y2="63.5" stroke="#8a8a8a" stroke-width="0.25"/>
<line x1="311.4" y1="60.9" x2="311.4" y2="62.1" stroke="#8a8a8a" stroke-width="0.25"/>
<line x1="313.4" y1="60.9" x2="313.4" y2="62.1" stroke="#8a8a8a" stroke-width="0.25"/>
<line x1="315.4" y1="60.9" x2="315.4" y2="62.1" stroke="#8a8a8a" stroke-width="0.25"/>
<line x1="317.4" y1="60.9" x2="317.4" y2="62.1" stroke="#8a8a8a" stroke-width="0.25"/>
<line x1="319.4" y1="60.9" x2="319.4" y2="63.5" stroke="#8a8a8a" stroke-width="0.25"/>
<line x1="321.4" y1="60.9" x2="321.4" y2="62.1" stroke="#8a8a8a" stroke-width="0.25"/>
<line x1="323.4" y1="60.9" x2="323.4" y2="62.1" stroke="#8a8a8a" stroke-width="0.25"/>
<line x1="325.4" y1="60.9" x2="325.4" y2="62.1" stroke="#8a8a8a" stroke-width="0.25"/>
<line x1="327.4" y1="60.9" x2="327.4" y2="62.1" stroke="#8a8a8a" stroke-width="0.25"/>
<line x1="329.4" y1="60.9" x2="329.4" y2="63.5" stroke="#8a8a8a" stroke-width="0.25"/>
<line x1="331.4" y1="60.9" x2="331.4" y2="62.1" stroke="#8a8a8a" stroke-width="0.25"/>
<line x1="333.4" y1="60.9" x2="333.4" y2="62.1" stroke="#8a8a8a" stroke-width="0.25"/>
<line x1="335.4" y1="60.9" x2="335.4" y2="62.1" stroke="#8a8a8a" stroke-width="0.25"/>
<line x1="337.4" y1="60.9" x2="337.4" y2="62.1" stroke="#8a8a8a" stroke-width="0.25"/>
<line x1="339.4" y1="60.9" x2="339.4" y2="63.5" stroke="#8a8a8a" stroke-width="0.25"/>
<path d="M203.4 71.6 L234.4 70.6 L274.4 70.1 L314.4 70.6 L334.4 70.9 L339.4 73.1 L334.4 75.6 L294.4 76.4 L254.4 76.1 L214.4 75.6" fill="none" stroke="#dc9c66" stroke-width="3" stroke-linejoin="round" stroke-linecap="round"/>
<path d="M284.4 70.4 L334.4 70.9" fill="none" stroke="#d8a050" stroke-width="3.2" stroke-linejoin="round" stroke-linecap="round"/>
<path d="M214.4 75.6 L208.4 77.6 L207.4 81.6 L212.4 84.6 L234.4 85.3 L264.4 85.1 L296.4 84.6" fill="none" stroke="#e29a8c" stroke-width="2.3" stroke-linejoin="round" stroke-linecap="round"/>
<ellipse cx="201.1" cy="72.6" rx="5.6" ry="5.8" fill="#7a6a30"/>
<ellipse cx="228.4" cy="88.6" rx="4.5" ry="3.3" fill="#e89a78"/>
<path d="M228.4 88.1 L234.4 85.6" fill="none" stroke="#e89a78" stroke-width="2" stroke-linejoin="round" stroke-linecap="round"/>
</g>
<rect x="194.4" y="59.1" width="150.8" height="36.3" fill="none" stroke="#888" stroke-width="0.8"/>
<text x="0" y="0" transform="translate(192.2 52.5) rotate(-90)" font-size="8" fill="#000"><tspan font-style="italic">Adar</tspan><tspan font-size="6.24" dy="-3.6">fl/fl</tspan></text>
<text x="0" y="0" transform="translate(192.2 92.6) rotate(-90)" font-size="8" fill="#000"><tspan font-style="italic">Adar</tspan><tspan font-size="6.24" dy="-3.6">iΔgut</tspan></text>
<line x1="370.5" y1="15.2" x2="370.5" y2="101.2" stroke="#000" stroke-width="0.9"/>
<line x1="370.5" y1="101.2" x2="421" y2="101.2" stroke="#000" stroke-width="0.9"/>
<line x1="368.5" y1="101.2" x2="370.5" y2="101.2" stroke="#000" stroke-width="0.7"/>
<text x="367.5" y="103.14" font-size="5.4" text-anchor="end">0</text>
<line x1="368.5" y1="84" x2="370.5" y2="84" stroke="#000" stroke-width="0.7"/>
<text x="367.5" y="85.94" font-size="5.4" text-anchor="end">2</text>
<line x1="368.5" y1="66.8" x2="370.5" y2="66.8" stroke="#000" stroke-width="0.7"/>
<text x="367.5" y="68.74" font-size="5.4" text-anchor="end">4</text>
<line x1="368.5" y1="49.6" x2="370.5" y2="49.6" stroke="#000" stroke-width="0.7"/>
<text x="367.5" y="51.54" font-size="5.4" text-anchor="end">6</text>
<line x1="368.5" y1="32.4" x2="370.5" y2="32.4" stroke="#000" stroke-width="0.7"/>
<text x="367.5" y="34.34" font-size="5.4" text-anchor="end">8</text>
<line x1="368.5" y1="15.2" x2="370.5" y2="15.2" stroke="#000" stroke-width="0.7"/>
<text x="367.5" y="17.14" font-size="5.4" text-anchor="end">10</text>
<rect x="378.6" y="23.8" width="15.8" height="77.4" fill="#d4d4d4" stroke="#111" stroke-width="0.8"/>
<line x1="386.5" y1="22.08" x2="386.5" y2="25.52" stroke="#000" stroke-width="0.7"/>
<line x1="383.5" y1="22.08" x2="389.5" y2="22.08" stroke="#000" stroke-width="0.7"/>
<line x1="383.5" y1="25.52" x2="389.5" y2="25.52" stroke="#000" stroke-width="0.7"/>
<circle cx="381.5" cy="22.94" r="1.25" fill="#000"/>
<circle cx="384.5" cy="24.66" r="1.25" fill="#000"/>
<circle cx="387.5" cy="22.08" r="1.25" fill="#000"/>
<circle cx="390.5" cy="23.8" r="1.25" fill="#000"/>
<circle cx="386.5" cy="27.24" r="1.25" fill="#000"/>
<circle cx="391.5" cy="24.66" r="1.25" fill="#000"/>
<circle cx="382.5" cy="22.94" r="1.25" fill="#000"/>
<line x1="386.5" y1="101.2" x2="386.5" y2="102.7" stroke="#000" stroke-width="0.6"/>
<rect x="402.3" y="41.86" width="15.7" height="59.34" fill="#ff6600" stroke="#111" stroke-width="0.8"/>
<line x1="410.15" y1="39.28" x2="410.15" y2="44.44" stroke="#000" stroke-width="0.7"/>
<line x1="407.15" y1="39.28" x2="413.15" y2="39.28" stroke="#000" stroke-width="0.7"/>
<line x1="407.15" y1="44.44" x2="413.15" y2="44.44" stroke="#000" stroke-width="0.7"/>
<rect x="403.95" y="38.94" width="2.4" height="2.4" fill="#000"/>
<rect x="406.95" y="41.52" width="2.4" height="2.4" fill="#000"/>
<rect x="410.95" y="38.08" width="2.4" height="2.4" fill="#000"/>
<rect x="413.95" y="41.52" width="2.4" height="2.4" fill="#000"/>
<rect x="404.95" y="43.24" width="2.4" height="2.4" fill="#000"/>
<rect x="412.95" y="40.66" width="2.4" height="2.4" fill="#000"/>
<line x1="410.15" y1="101.2" x2="410.15" y2="102.7" stroke="#000" stroke-width="0.6"/>
<line x1="385.9" y1="20.2" x2="409.6" y2="20.2" stroke="#555" stroke-width="0.6"/>
<text x="397.5" y="16.9" font-size="6.2" text-anchor="middle" fill="#333">p&lt;0.0001</text>
<text x="360.7" y="58.7" font-size="6.7" text-anchor="middle" transform="rotate(-90 360.7 58.7)">Colon length (cm)</text>
<text x="375.3" y="109.3" font-size="5.5" font-weight="bold" fill="#000"><tspan font-style="italic">Adar</tspan><tspan font-size="3.41" dy="-2.31"> fl/fl</tspan></text>
<text x="397.9" y="109.3" font-size="5.5" font-weight="bold" fill="#000"><tspan font-style="italic">Adar</tspan><tspan font-size="3.41" dy="-2.31"> iΔgut</tspan></text>
<line x1="452.1" y1="16.1" x2="452.1" y2="101.7" stroke="#000" stroke-width="0.9"/>
<line x1="452.1" y1="101.7" x2="503" y2="101.7" stroke="#000" stroke-width="0.9"/>
<line x1="450.1" y1="101.7" x2="452.1" y2="101.7" stroke="#000" stroke-width="0.7"/>
<text x="449.1" y="103.64" font-size="5.4" text-anchor="end">0</text>
<line x1="450.1" y1="84.58" x2="452.1" y2="84.58" stroke="#000" stroke-width="0.7"/>
<text x="449.1" y="86.52" font-size="5.4" text-anchor="end">10</text>
<line x1="450.1" y1="67.46" x2="452.1" y2="67.46" stroke="#000" stroke-width="0.7"/>
<text x="449.1" y="69.4" font-size="5.4" text-anchor="end">20</text>
<line x1="450.1" y1="50.34" x2="452.1" y2="50.34" stroke="#000" stroke-width="0.7"/>
<text x="449.1" y="52.28" font-size="5.4" text-anchor="end">30</text>
<line x1="450.1" y1="33.22" x2="452.1" y2="33.22" stroke="#000" stroke-width="0.7"/>
<text x="449.1" y="35.16" font-size="5.4" text-anchor="end">40</text>
<line x1="450.1" y1="16.1" x2="452.1" y2="16.1" stroke="#000" stroke-width="0.7"/>
<text x="449.1" y="18.04" font-size="5.4" text-anchor="end">50</text>
<rect x="460.2" y="36.99" width="15.5" height="64.71" fill="#d4d4d4" stroke="#111" stroke-width="0.8"/>
<line x1="467.95" y1="34.42" x2="467.95" y2="39.55" stroke="#000" stroke-width="0.7"/>
<line x1="464.95" y1="34.42" x2="470.95" y2="34.42" stroke="#000" stroke-width="0.7"/>
<line x1="464.95" y1="39.55" x2="470.95" y2="39.55" stroke="#000" stroke-width="0.7"/>
<circle cx="461.95" cy="34.08" r="1.25" fill="#000"/>
<circle cx="465.95" cy="35.79" r="1.25" fill="#000"/>
<circle cx="469.95" cy="34.08" r="1.25" fill="#000"/>
<circle cx="473.95" cy="34.93" r="1.25" fill="#000"/>
<circle cx="466.95" cy="39.21" r="1.25" fill="#000"/>
<circle cx="467.95" cy="41.78" r="1.25" fill="#000"/>
<circle cx="470.95" cy="38.36" r="1.25" fill="#000"/>
<line x1="467.95" y1="101.7" x2="467.95" y2="103.2" stroke="#000" stroke-width="0.6"/>
<rect x="483.8" y="48.63" width="16.2" height="53.07" fill="#ff6600" stroke="#111" stroke-width="0.8"/>
<line x1="491.9" y1="41.78" x2="491.9" y2="55.48" stroke="#000" stroke-width="0.7"/>
<line x1="488.9" y1="41.78" x2="494.9" y2="41.78" stroke="#000" stroke-width="0.7"/>
<line x1="488.9" y1="55.48" x2="494.9" y2="55.48" stroke="#000" stroke-width="0.7"/>
<rect x="490.7" y="39.72" width="2.4" height="2.4" fill="#000"/>
<rect x="488.7" y="44" width="2.4" height="2.4" fill="#000"/>
<rect x="492.7" y="44.86" width="2.4" height="2.4" fill="#000"/>
<rect x="489.7" y="49.14" width="2.4" height="2.4" fill="#000"/>
<rect x="487.7" y="56.84" width="2.4" height="2.4" fill="#000"/>
<rect x="493.7" y="55.13" width="2.4" height="2.4" fill="#000"/>
<line x1="491.9" y1="101.7" x2="491.9" y2="103.2" stroke="#000" stroke-width="0.6"/>
<line x1="467.8" y1="31" x2="491" y2="31" stroke="#555" stroke-width="0.6"/>
<text x="479.5" y="28.8" font-size="6.2" text-anchor="middle" fill="#333">p=0.002</text>
<text x="438.6" y="58.5" font-size="6.7" text-anchor="middle" transform="rotate(-90 438.6 58.5)">Intestine length (cm)</text>
<text x="456.6" y="109.4" font-size="5.5" font-weight="bold" fill="#000"><tspan font-style="italic">Adar</tspan><tspan font-size="3.41" dy="-2.31"> fl/fl</tspan></text>
<text x="479.2" y="109.4" font-size="5.5" font-weight="bold" fill="#000"><tspan font-style="italic">Adar</tspan><tspan font-size="3.41" dy="-2.31"> iΔgut</tspan></text>
<text x="502" y="19.7" font-size="17.5" font-weight="bold">c</text>
<rect x="516" y="25.2" width="81.7" height="58.4" fill="#fbfbfb" stroke="#777" stroke-width="0.7"/>
<g filter="url(#blur04)">
<circle cx="522.1" cy="31.5" r="1.68" fill="rgb(196,196,196)"/>
<circle cx="528.51" cy="31.5" r="1.6" fill="rgb(208,208,208)"/>
<circle cx="534.92" cy="31.5" r="1.34" fill="rgb(247,247,247)"/>
<circle cx="541.33" cy="31.5" r="1.34" fill="rgb(247,247,247)"/>
<circle cx="547.74" cy="31.5" r="1.34" fill="rgb(247,247,247)"/>
<circle cx="554.15" cy="31.5" r="1.45" fill="rgb(231,231,231)"/>
<circle cx="560.56" cy="31.5" r="1.42" fill="rgb(236,236,236)"/>
<circle cx="566.97" cy="31.5" r="1.42" fill="rgb(236,236,236)"/>
<circle cx="573.38" cy="31.5" r="1.34" fill="rgb(247,247,247)"/>
<circle cx="579.79" cy="31.5" r="1.6" fill="rgb(208,208,208)"/>
<circle cx="586.2" cy="31.5" r="1.34" fill="rgb(247,247,247)"/>
<circle cx="592.61" cy="31.5" r="1.82" fill="rgb(172,172,172)"/>
<circle cx="522.1" cy="38.07" r="1.6" fill="rgb(208,208,208)"/>
<circle cx="528.51" cy="38.07" r="1.6" fill="rgb(208,208,208)"/>
<circle cx="534.92" cy="38.07" r="1.34" fill="rgb(247,247,247)"/>
<circle cx="541.33" cy="38.07" r="1.34" fill="rgb(247,247,247)"/>
<circle cx="547.74" cy="38.07" r="1.34" fill="rgb(247,247,247)"/>
<circle cx="554.15" cy="38.07" r="1.45" fill="rgb(231,231,231)"/>
<circle cx="560.56" cy="38.07" r="1.34" fill="rgb(247,247,247)"/>
<circle cx="566.97" cy="38.07" r="1.34" fill="rgb(247,247,247)"/>
<circle cx="573.38" cy="38.07" r="1.34" fill="rgb(247,247,247)"/>
<circle cx="579.79" cy="38.07" r="1.52" fill="rgb(219,219,219)"/>
<circle cx="586.2" cy="38.07" r="1.34" fill="rgb(247,247,247)"/>
<circle cx="592.61" cy="38.07" r="1.82" fill="rgb(172,172,172)"/>
<circle cx="522.1" cy="44.64" r="1.34" fill="rgb(247,247,247)"/>
<circle cx="528.51" cy="44.64" r="1.34" fill="rgb(247,247,247)"/>
<circle cx="534.92" cy="44.64" r="1.45" fill="rgb(231,231,231)"/>
<circle cx="541.33" cy="44.64" r="1.6" fill="rgb(208,208,208)"/>
<circle cx="547.74" cy="44.64" r="1.34" fill="rgb(247,247,247)"/>
<circle cx="554.15" cy="44.64" r="1.68" fill="rgb(196,196,196)"/>
<circle cx="560.56" cy="44.64" r="1.34" fill="rgb(247,247,247)"/>
<circle cx="566.97" cy="44.64" r="1.34" fill="rgb(247,247,247)"/>
<circle cx="573.38" cy="44.64" r="1.34" fill="rgb(247,247,247)"/>
<circle cx="579.79" cy="44.64" r="1.6" fill="rgb(208,208,208)"/>
<circle cx="586.2" cy="44.64" r="1.34" fill="rgb(247,247,247)"/>
<circle cx="592.61" cy="44.64" r="1.52" fill="rgb(219,219,219)"/>
<circle cx="522.1" cy="51.21" r="1.34" fill="rgb(247,247,247)"/>
<circle cx="528.51" cy="51.21" r="1.34" fill="rgb(247,247,247)"/>
<circle cx="534.92" cy="51.21" r="1.34" fill="rgb(247,247,247)"/>
<circle cx="541.33" cy="51.21" r="1.45" fill="rgb(231,231,231)"/>
<circle cx="547.74" cy="51.21" r="1.34" fill="rgb(247,247,247)"/>
<circle cx="554.15" cy="51.21" r="1.68" fill="rgb(196,196,196)"/>
<circle cx="560.56" cy="51.21" r="1.34" fill="rgb(247,247,247)"/>
<circle cx="566.97" cy="51.21" r="1.34" fill="rgb(247,247,247)"/>
<circle cx="573.38" cy="51.21" r="1.34" fill="rgb(247,247,247)"/>
<circle cx="579.79" cy="51.21" r="1.6" fill="rgb(208,208,208)"/>
<circle cx="586.2" cy="51.21" r="1.34" fill="rgb(247,247,247)"/>
<circle cx="592.61" cy="51.21" r="1.34" fill="rgb(247,247,247)"/>
<circle cx="522.1" cy="57.78" r="1.34" fill="rgb(247,247,247)"/>
<circle cx="528.51" cy="57.78" r="1.48" fill="rgb(226,226,226)"/>
<circle cx="534.92" cy="57.78" r="1.34" fill="rgb(247,247,247)"/>
<circle cx="541.33" cy="57.78" r="1.34" fill="rgb(247,247,247)"/>
<circle cx="547.74" cy="57.78" r="1.34" fill="rgb(247,247,247)"/>
<circle cx="554.15" cy="57.78" r="1.98" fill="rgb(149,149,149)"/>
<circle cx="560.56" cy="57.78" r="1.34" fill="rgb(247,247,247)"/>
<circle cx="566.97" cy="57.78" r="1.45" fill="rgb(231,231,231)"/>
<circle cx="573.38" cy="57.78" r="1.34" fill="rgb(247,247,247)"/>
<circle cx="579.79" cy="57.78" r="1.34" fill="rgb(247,247,247)"/>
<circle cx="586.2" cy="57.78" r="1.34" fill="rgb(247,247,247)"/>
<circle cx="592.61" cy="57.78" r="2.12" fill="rgb(125,125,125)"/>
<circle cx="522.1" cy="64.35" r="1.34" fill="rgb(247,247,247)"/>
<circle cx="528.51" cy="64.35" r="1.48" fill="rgb(226,226,226)"/>
<circle cx="534.92" cy="64.35" r="1.34" fill="rgb(247,247,247)"/>
<circle cx="541.33" cy="64.35" r="1.34" fill="rgb(247,247,247)"/>
<circle cx="547.74" cy="64.35" r="1.34" fill="rgb(247,247,247)"/>
<circle cx="554.15" cy="64.35" r="1.98" fill="rgb(149,149,149)"/>
<circle cx="560.56" cy="64.35" r="1.34" fill="rgb(247,247,247)"/>
<circle cx="566.97" cy="64.35" r="1.48" fill="rgb(226,226,226)"/>
<circle cx="573.38" cy="64.35" r="1.34" fill="rgb(247,247,247)"/>
<circle cx="579.79" cy="64.35" r="1.34" fill="rgb(247,247,247)"/>
<circle cx="586.2" cy="64.35" r="1.34" fill="rgb(247,247,247)"/>
<circle cx="592.61" cy="64.35" r="2.12" fill="rgb(125,125,125)"/>
<circle cx="522.1" cy="70.92" r="1.82" fill="rgb(172,172,172)"/>
<circle cx="528.51" cy="70.92" r="1.68" fill="rgb(196,196,196)"/>
<circle cx="534.92" cy="70.92" r="1.45" fill="rgb(231,231,231)"/>
<circle cx="541.33" cy="70.92" r="1.34" fill="rgb(247,247,247)"/>
<circle cx="547.74" cy="70.92" r="1.34" fill="rgb(247,247,247)"/>
<circle cx="554.15" cy="70.92" r="1.48" fill="rgb(226,226,226)"/>
<circle cx="560.56" cy="70.92" r="1.68" fill="rgb(196,196,196)"/>
<circle cx="566.97" cy="70.92" r="2.3" fill="rgb(55,55,55)"/>
<circle cx="573.38" cy="70.92" r="1.75" fill="rgb(184,184,184)"/>
<circle cx="579.79" cy="70.92" r="1.34" fill="rgb(247,247,247)"/>
<circle cx="586.2" cy="70.92" r="1.34" fill="rgb(247,247,247)"/>
<circle cx="592.61" cy="70.92" r="1.48" fill="rgb(226,226,226)"/>
<circle cx="522.1" cy="77.49" r="1.82" fill="rgb(172,172,172)"/>
<circle cx="528.51" cy="77.49" r="1.68" fill="rgb(196,196,196)"/>
<circle cx="534.92" cy="77.49" r="1.45" fill="rgb(231,231,231)"/>
<circle cx="541.33" cy="77.49" r="1.34" fill="rgb(247,247,247)"/>
<circle cx="547.74" cy="77.49" r="1.34" fill="rgb(247,247,247)"/>
<circle cx="554.15" cy="77.49" r="1.48" fill="rgb(226,226,226)"/>
<circle cx="560.56" cy="77.49" r="1.75" fill="rgb(184,184,184)"/>
<circle cx="566.97" cy="77.49" r="2.3" fill="rgb(43,43,43)"/>
<circle cx="573.38" cy="77.49" r="1.75" fill="rgb(184,184,184)"/>
<circle cx="579.79" cy="77.49" r="1.34" fill="rgb(247,247,247)"/>
<circle cx="586.2" cy="77.49" r="1.34" fill="rgb(247,247,247)"/>
<circle cx="592.61" cy="77.49" r="1.48" fill="rgb(226,226,226)"/>
</g>
<rect x="601.4" y="25.2" width="82.3" height="58.8" fill="#fbfbfb" stroke="#777" stroke-width="0.7"/>
<g filter="url(#blur04)">
<circle cx="606.2" cy="31.5" r="1.6" fill="rgb(208,208,208)"/>
<circle cx="612.61" cy="31.5" r="1.6" fill="rgb(208,208,208)"/>
<circle cx="619.02" cy="31.5" r="1.34" fill="rgb(247,247,247)"/>
<circle cx="625.43" cy="31.5" r="1.34" fill="rgb(247,247,247)"/>
<circle cx="631.84" cy="31.5" r="1.34" fill="rgb(247,247,247)"/>
<circle cx="638.25" cy="31.5" r="1.45" fill="rgb(231,231,231)"/>
<circle cx="644.66" cy="31.5" r="1.34" fill="rgb(247,247,247)"/>
<circle cx="651.07" cy="31.5" r="1.45" fill="rgb(231,231,231)"/>
<circle cx="657.48" cy="31.5" r="1.34" fill="rgb(247,247,247)"/>
<circle cx="663.89" cy="31.5" r="2.3" fill="rgb(55,55,55)"/>
<circle cx="670.3" cy="31.5" r="1.34" fill="rgb(247,247,247)"/>
<circle cx="676.71" cy="31.5" r="2.3" fill="rgb(55,55,55)"/>
<circle cx="606.2" cy="38.07" r="1.52" fill="rgb(219,219,219)"/>
<circle cx="612.61" cy="38.07" r="1.52" fill="rgb(219,219,219)"/>
<circle cx="619.02" cy="38.07" r="1.34" fill="rgb(247,247,247)"/>
<circle cx="625.43" cy="38.07" r="1.34" fill="rgb(247,247,247)"/>
<circle cx="631.84" cy="38.07" r="1.34" fill="rgb(247,247,247)"/>
<circle cx="638.25" cy="38.07" r="1.34" fill="rgb(247,247,247)"/>
<circle cx="644.66" cy="38.07" r="1.34" fill="rgb(247,247,247)"/>
<circle cx="651.07" cy="38.07" r="1.34" fill="rgb(247,247,247)"/>
<circle cx="657.48" cy="38.07" r="1.34" fill="rgb(247,247,247)"/>
<circle cx="663.89" cy="38.07" r="2.3" fill="rgb(78,78,78)"/>
<circle cx="670.3" cy="38.07" r="1.34" fill="rgb(247,247,247)"/>
<circle cx="676.71" cy="38.07" r="2.3" fill="rgb(55,55,55)"/>
<circle cx="606.2" cy="44.64" r="1.34" fill="rgb(247,247,247)"/>
<circle cx="612.61" cy="44.64" r="1.98" fill="rgb(149,149,149)"/>
<circle cx="619.02" cy="44.64" r="1.34" fill="rgb(247,247,247)"/>
<circle cx="625.43" cy="44.64" r="2.3" fill="rgb(67,67,67)"/>
<circle cx="631.84" cy="44.64" r="1.34" fill="rgb(247,247,247)"/>
<circle cx="638.25" cy="44.64" r="2.3" fill="rgb(67,67,67)"/>
<circle cx="644.66" cy="44.64" r="1.34" fill="rgb(247,247,247)"/>
<circle cx="651.07" cy="44.64" r="1.6" fill="rgb(208,208,208)"/>
<circle cx="657.48" cy="44.64" r="1.9" fill="rgb(161,161,161)"/>
<circle cx="663.89" cy="44.64" r="2.3" fill="rgb(78,78,78)"/>
<circle cx="670.3" cy="44.64" r="1.34" fill="rgb(247,247,247)"/>
<circle cx="676.71" cy="44.64" r="1.34" fill="rgb(247,247,247)"/>
<circle cx="606.2" cy="51.21" r="1.34" fill="rgb(247,247,247)"/>
<circle cx="612.61" cy="51.21" r="1.98" fill="rgb(149,149,149)"/>
<circle cx="619.02" cy="51.21" r="1.34" fill="rgb(247,247,247)"/>
<circle cx="625.43" cy="51.21" r="2.3" fill="rgb(67,67,67)"/>
<circle cx="631.84" cy="51.21" r="1.34" fill="rgb(247,247,247)"/>
<circle cx="638.25" cy="51.21" r="2.3" fill="rgb(67,67,67)"/>
<circle cx="644.66" cy="51.21" r="1.34" fill="rgb(247,247,247)"/>
<circle cx="651.07" cy="51.21" r="1.52" fill="rgb(219,219,219)"/>
<circle cx="657.48" cy="51.21" r="1.9" fill="rgb(161,161,161)"/>
<circle cx="663.89" cy="51.21" r="2.3" fill="rgb(67,67,67)"/>
<circle cx="670.3" cy="51.21" r="1.34" fill="rgb(247,247,247)"/>
<circle cx="676.71" cy="51.21" r="1.34" fill="rgb(247,247,247)"/>
<circle cx="606.2" cy="57.78" r="1.34" fill="rgb(247,247,247)"/>
<circle cx="612.61" cy="57.78" r="2.3" fill="rgb(90,90,90)"/>
<circle cx="619.02" cy="57.78" r="1.34" fill="rgb(247,247,247)"/>
<circle cx="625.43" cy="57.78" r="1.34" fill="rgb(247,247,247)"/>
<circle cx="631.84" cy="57.78" r="1.34" fill="rgb(247,247,247)"/>
<circle cx="638.25" cy="57.78" r="1.75" fill="rgb(184,184,184)"/>
<circle cx="644.66" cy="57.78" r="1.34" fill="rgb(247,247,247)"/>
<circle cx="651.07" cy="57.78" r="1.75" fill="rgb(184,184,184)"/>
<circle cx="657.48" cy="57.78" r="1.34" fill="rgb(247,247,247)"/>
<circle cx="663.89" cy="57.78" r="1.34" fill="rgb(247,247,247)"/>
<circle cx="670.3" cy="57.78" r="1.34" fill="rgb(247,247,247)"/>
<circle cx="676.71" cy="57.78" r="2.3" fill="rgb(43,43,43)"/>
<circle cx="606.2" cy="64.35" r="1.34" fill="rgb(247,247,247)"/>
<circle cx="612.61" cy="64.35" r="2.3" fill="rgb(67,67,67)"/>
<circle cx="619.02" cy="64.35" r="1.34" fill="rgb(247,247,247)"/>
<circle cx="625.43" cy="64.35" r="1.34" fill="rgb(247,247,247)"/>
<circle cx="631.84" cy="64.35" r="1.34" fill="rgb(247,247,247)"/>
<circle cx="638.25" cy="64.35" r="1.75" fill="rgb(184,184,184)"/>
<circle cx="644.66" cy="64.35" r="1.34" fill="rgb(247,247,247)"/>
<circle cx="651.07" cy="64.35" r="1.68" fill="rgb(196,196,196)"/>
<circle cx="657.48" cy="64.35" r="1.34" fill="rgb(247,247,247)"/>
<circle cx="663.89" cy="64.35" r="1.34" fill="rgb(247,247,247)"/>
<circle cx="670.3" cy="64.35" r="1.34" fill="rgb(247,247,247)"/>
<circle cx="676.71" cy="64.35" r="2.3" fill="rgb(43,43,43)"/>
<circle cx="606.2" cy="70.92" r="2.3" fill="rgb(55,55,55)"/>
<circle cx="612.61" cy="70.92" r="2.3" fill="rgb(67,67,67)"/>
<circle cx="619.02" cy="70.92" r="1.45" fill="rgb(231,231,231)"/>
<circle cx="625.43" cy="70.92" r="1.34" fill="rgb(247,247,247)"/>
<circle cx="631.84" cy="70.92" r="1.34" fill="rgb(247,247,247)"/>
<circle cx="638.25" cy="70.92" r="2.28" fill="rgb(102,102,102)"/>
<circle cx="644.66" cy="70.92" r="2.3" fill="rgb(90,90,90)"/>
<circle cx="651.07" cy="70.92" r="2.3" fill="rgb(31,31,31)"/>
<circle cx="657.48" cy="70.92" r="2.3" fill="rgb(78,78,78)"/>
<circle cx="663.89" cy="70.92" r="1.34" fill="rgb(247,247,247)"/>
<circle cx="670.3" cy="70.92" r="1.34" fill="rgb(247,247,247)"/>
<circle cx="676.71" cy="70.92" r="1.45" fill="rgb(231,231,231)"/>
<circle cx="606.2" cy="77.49" r="2.3" fill="rgb(67,67,67)"/>
<circle cx="612.61" cy="77.49" r="2.2" fill="rgb(114,114,114)"/>
<circle cx="619.02" cy="77.49" r="1.45" fill="rgb(231,231,231)"/>
<circle cx="625.43" cy="77.49" r="1.34" fill="rgb(247,247,247)"/>
<circle cx="631.84" cy="77.49" r="1.34" fill="rgb(247,247,247)"/>
<circle cx="638.25" cy="77.49" r="2.2" fill="rgb(114,114,114)"/>
<circle cx="644.66" cy="77.49" r="2.3" fill="rgb(90,90,90)"/>
<circle cx="651.07" cy="77.49" r="2.3" fill="rgb(20,20,20)"/>
<circle cx="657.48" cy="77.49" r="2.3" fill="rgb(90,90,90)"/>
<circle cx="663.89" cy="77.49" r="1.34" fill="rgb(247,247,247)"/>
<circle cx="670.3" cy="77.49" r="1.34" fill="rgb(247,247,247)"/>
<circle cx="676.71" cy="77.49" r="1.45" fill="rgb(231,231,231)"/>
</g>
<text x="547" y="22.3" font-size="9.3" fill="#000"><tspan font-style="italic">Adar</tspan><tspan font-size="5.58" dy="-3.91">fl/fl</tspan></text>
<text x="627.2" y="22.3" font-size="9.3" fill="#000"><tspan font-style="italic">Adar</tspan><tspan font-size="5.58" dy="-3.91">iΔgut</tspan></text>
<rect x="596.2" y="110.9" width="21.15" height="6.36" fill="#000000"/>
<rect x="617.3" y="110.9" width="21.15" height="6.36" fill="#000000"/>
<rect x="638.4" y="110.9" width="21.15" height="6.36" fill="#600000"/>
<rect x="659.5" y="110.9" width="21.15" height="6.36" fill="#900000"/>
<text x="596" y="115.91" font-size="5.2" font-weight="bold" text-anchor="end">CXCL13-</text>
<rect x="596.2" y="117.21" width="21.15" height="6.36" fill="#0a0a50"/>
<rect x="617.3" y="117.21" width="21.15" height="6.36" fill="#180000"/>
<rect x="638.4" y="117.21" width="21.15" height="6.36" fill="#500000"/>
<rect x="659.5" y="117.21" width="21.15" height="6.36" fill="#400000"/>
<text x="596" y="122.22" font-size="5.2" font-weight="bold" text-anchor="end">CD30L-</text>
<rect x="596.2" y="123.52" width="21.15" height="6.36" fill="#0a0a50"/>
<rect x="617.3" y="123.52" width="21.15" height="6.36" fill="#150000"/>
<rect x="638.4" y="123.52" width="21.15" height="6.36" fill="#300000"/>
<rect x="659.5" y="123.52" width="21.15" height="6.36" fill="#280000"/>
<text x="596" y="128.53" font-size="5.2" font-weight="bold" text-anchor="end">Eotaxin-</text>
<rect x="596.2" y="129.83" width="21.15" height="6.36" fill="#000000"/>
<rect x="617.3" y="129.83" width="21.15" height="6.36" fill="#050510"/>
<rect x="638.4" y="129.83" width="21.15" height="6.36" fill="#300000"/>
<rect x="659.5" y="129.83" width="21.15" height="6.36" fill="#400000"/>
<text x="596" y="134.84" font-size="5.2" font-weight="bold" text-anchor="end">Eotaxin-2-</text>
<rect x="596.2" y="136.14" width="21.15" height="6.36" fill="#0a0a30"/>
<rect x="617.3" y="136.14" width="21.15" height="6.36" fill="#100000"/>
<rect x="638.4" y="136.14" width="21.15" height="6.36" fill="#b00000"/>
<rect x="659.5" y="136.14" width="21.15" height="6.36" fill="#b00000"/>
<text x="596" y="141.15" font-size="5.2" font-weight="bold" text-anchor="end">FAS ligand-</text>
<rect x="596.2" y="142.45" width="21.15" height="6.36" fill="#000000"/>
<rect x="617.3" y="142.45" width="21.15" height="6.36" fill="#000000"/>
<rect x="638.4" y="142.45" width="21.15" height="6.36" fill="#300000"/>
<rect x="659.5" y="142.45" width="21.15" height="6.36" fill="#300000"/>
<text x="596" y="147.45" font-size="5.2" font-weight="bold" text-anchor="end">Fractalkine-</text>
<rect x="596.2" y="148.76" width="21.15" height="6.36" fill="#050510"/>
<rect x="617.3" y="148.76" width="21.15" height="6.36" fill="#000000"/>
<rect x="638.4" y="148.76" width="21.15" height="6.36" fill="#600000"/>
<rect x="659.5" y="148.76" width="21.15" height="6.36" fill="#600000"/>
<text x="596" y="153.76" font-size="5.2" font-weight="bold" text-anchor="end">G-CSF-</text>
<rect x="596.2" y="155.07" width="21.15" height="6.36" fill="#0a0a25"/>
<rect x="617.3" y="155.07" width="21.15" height="6.36" fill="#080000"/>
<rect x="638.4" y="155.07" width="21.15" height="6.36" fill="#400000"/>
<rect x="659.5" y="155.07" width="21.15" height="6.36" fill="#400000"/>
<text x="596" y="160.07" font-size="5.2" font-weight="bold" text-anchor="end">GM-CSF-</text>
<rect x="596.2" y="161.38" width="21.15" height="6.36" fill="#100000"/>
<rect x="617.3" y="161.38" width="21.15" height="6.36" fill="#0a0a35"/>
<rect x="638.4" y="161.38" width="21.15" height="6.36" fill="#ff1010"/>
<rect x="659.5" y="161.38" width="21.15" height="6.36" fill="#ff1010"/>
<text x="596" y="166.38" font-size="5.2" font-weight="bold" text-anchor="end">IFN-γ-</text>
<rect x="596.2" y="167.69" width="21.15" height="6.36" fill="#0a0a40"/>
<rect x="617.3" y="167.69" width="21.15" height="6.36" fill="#100000"/>
<rect x="638.4" y="167.69" width="21.15" height="6.36" fill="#300000"/>
<rect x="659.5" y="167.69" width="21.15" height="6.36" fill="#300000"/>
<text x="596" y="172.69" font-size="5.2" font-weight="bold" text-anchor="end">IL1-α-</text>
<rect x="596.2" y="174" width="21.15" height="6.36" fill="#0a0a35"/>
<rect x="617.3" y="174" width="21.15" height="6.36" fill="#080000"/>
<rect x="638.4" y="174" width="21.15" height="6.36" fill="#b00000"/>
<rect x="659.5" y="174" width="21.15" height="6.36" fill="#b00000"/>
<text x="596" y="179" font-size="5.2" font-weight="bold" text-anchor="end">IL1-β-</text>
<rect x="596.2" y="180.31" width="21.15" height="6.36" fill="#0a0000"/>
<rect x="617.3" y="180.31" width="21.15" height="6.36" fill="#101050"/>
<rect x="638.4" y="180.31" width="21.15" height="6.36" fill="#700000"/>
<rect x="659.5" y="180.31" width="21.15" height="6.36" fill="#500000"/>
<text x="596" y="185.31" font-size="5.2" font-weight="bold" text-anchor="end">IL2-</text>
<rect x="596.2" y="186.62" width="21.15" height="6.36" fill="#0a0a20"/>
<rect x="617.3" y="186.62" width="21.15" height="6.36" fill="#050510"/>
<rect x="638.4" y="186.62" width="21.15" height="6.36" fill="#a00000"/>
<rect x="659.5" y="186.62" width="21.15" height="6.36" fill="#900000"/>
<text x="596" y="191.62" font-size="5.2" font-weight="bold" text-anchor="end">IL3-</text>
<rect x="596.2" y="192.93" width="21.15" height="6.36" fill="#0a0a25"/>
<rect x="617.3" y="192.93" width="21.15" height="6.36" fill="#080000"/>
<rect x="638.4" y="192.93" width="21.15" height="6.36" fill="#500000"/>
<rect x="659.5" y="192.93" width="21.15" height="6.36" fill="#400000"/>
<text x="596" y="197.94" font-size="5.2" font-weight="bold" text-anchor="end">IL4-</text>
<rect x="596.2" y="199.24" width="21.15" height="6.36" fill="#0a0a25"/>
<rect x="617.3" y="199.24" width="21.15" height="6.36" fill="#000000"/>
<rect x="638.4" y="199.24" width="21.15" height="6.36" fill="#b00000"/>
<rect x="659.5" y="199.24" width="21.15" height="6.36" fill="#b00000"/>
<text x="596" y="204.25" font-size="5.2" font-weight="bold" text-anchor="end">IL6-</text>
<rect x="596.2" y="205.55" width="21.15" height="6.36" fill="#101045"/>
<rect x="617.3" y="205.55" width="21.15" height="6.36" fill="#0a0000"/>
<rect x="638.4" y="205.55" width="21.15" height="6.36" fill="#a00000"/>
<rect x="659.5" y="205.55" width="21.15" height="6.36" fill="#a00000"/>
<text x="596" y="210.56" font-size="5.2" font-weight="bold" text-anchor="end">IL9-</text>
<rect x="596.2" y="211.86" width="21.15" height="6.36" fill="#050510"/>
<rect x="617.3" y="211.86" width="21.15" height="6.36" fill="#000000"/>
<rect x="638.4" y="211.86" width="21.15" height="6.36" fill="#b00000"/>
<rect x="659.5" y="211.86" width="21.15" height="6.36" fill="#a00000"/>
<text x="596" y="216.87" font-size="5.2" font-weight="bold" text-anchor="end">IL10-</text>
<rect x="596.2" y="218.17" width="21.15" height="6.36" fill="#050510"/>
<rect x="617.3" y="218.17" width="21.15" height="6.36" fill="#000000"/>
<rect x="638.4" y="218.17" width="21.15" height="6.36" fill="#900000"/>
<rect x="659.5" y="218.17" width="21.15" height="6.36" fill="#a00000"/>
<text x="596" y="223.18" font-size="5.2" font-weight="bold" text-anchor="end">IL12-p40/p70-</text>
<rect x="596.2" y="224.48" width="21.15" height="6.36" fill="#0a0a25"/>
<rect x="617.3" y="224.48" width="21.15" height="6.36" fill="#000000"/>
<rect x="638.4" y="224.48" width="21.15" height="6.36" fill="#000000"/>
<rect x="659.5" y="224.48" width="21.15" height="6.36" fill="#101050"/>
<text x="596" y="229.49" font-size="5.2" font-weight="bold" text-anchor="end">IL12-p70-</text>
<rect x="596.2" y="230.79" width="21.15" height="6.36" fill="#0a0a40"/>
<rect x="617.3" y="230.79" width="21.15" height="6.36" fill="#080000"/>
<rect x="638.4" y="230.79" width="21.15" height="6.36" fill="#900000"/>
<rect x="659.5" y="230.79" width="21.15" height="6.36" fill="#a00000"/>
<text x="596" y="235.79" font-size="5.2" font-weight="bold" text-anchor="end">IL13-</text>
<rect x="596.2" y="237.1" width="21.15" height="6.36" fill="#0a0a25"/>
<rect x="617.3" y="237.1" width="21.15" height="6.36" fill="#080000"/>
<rect x="638.4" y="237.1" width="21.15" height="6.36" fill="#c00000"/>
<rect x="659.5" y="237.1" width="21.15" height="6.36" fill="#c00000"/>
<text x="596" y="242.1" font-size="5.2" font-weight="bold" text-anchor="end">IL17-</text>
<rect x="596.2" y="243.41" width="21.15" height="6.36" fill="#000000"/>
<rect x="617.3" y="243.41" width="21.15" height="6.36" fill="#050000"/>
<rect x="638.4" y="243.41" width="21.15" height="6.36" fill="#300000"/>
<rect x="659.5" y="243.41" width="21.15" height="6.36" fill="#150000"/>
<text x="596" y="248.41" font-size="5.2" font-weight="bold" text-anchor="end">I-TAC-</text>
<rect x="596.2" y="249.72" width="21.15" height="6.36" fill="#0a0000"/>
<rect x="617.3" y="249.72" width="21.15" height="6.36" fill="#101045"/>
<rect x="638.4" y="249.72" width="21.15" height="6.36" fill="#b00000"/>
<rect x="659.5" y="249.72" width="21.15" height="6.36" fill="#800000"/>
<text x="596" y="254.72" font-size="5.2" font-weight="bold" text-anchor="end">KC-</text>
<rect x="596.2" y="256.03" width="21.15" height="6.36" fill="#000000"/>
<rect x="617.3" y="256.03" width="21.15" height="6.36" fill="#050510"/>
<rect x="638.4" y="256.03" width="21.15" height="6.36" fill="#101060"/>
<rect x="659.5" y="256.03" width="21.15" height="6.36" fill="#080830"/>
<text x="596" y="261.03" font-size="5.2" font-weight="bold" text-anchor="end">Leptin-</text>
<rect x="596.2" y="262.34" width="21.15" height="6.36" fill="#000000"/>
<rect x="617.3" y="262.34" width="21.15" height="6.36" fill="#050510"/>
<rect x="638.4" y="262.34" width="21.15" height="6.36" fill="#200000"/>
<rect x="659.5" y="262.34" width="21.15" height="6.36" fill="#150000"/>
<text x="596" y="267.35" font-size="5.2" font-weight="bold" text-anchor="end">LIX-</text>
<rect x="596.2" y="268.65" width="21.15" height="6.36" fill="#050520"/>
<rect x="617.3" y="268.65" width="21.15" height="6.36" fill="#0a0000"/>
<rect x="638.4" y="268.65" width="21.15" height="6.36" fill="#400000"/>
<rect x="659.5" y="268.65" width="21.15" height="6.36" fill="#400000"/>
<text x="596" y="273.65" font-size="5.2" font-weight="bold" text-anchor="end">Lymphotactin-</text>
<rect x="596.2" y="274.96" width="21.15" height="6.36" fill="#101070"/>
<rect x="617.3" y="274.96" width="21.15" height="6.36" fill="#150000"/>
<rect x="638.4" y="274.96" width="21.15" height="6.36" fill="#a00000"/>
<rect x="659.5" y="274.96" width="21.15" height="6.36" fill="#900000"/>
<text x="596" y="279.97" font-size="5.2" font-weight="bold" text-anchor="end">MCP-1-</text>
<rect x="596.2" y="281.27" width="21.15" height="6.36" fill="#080820"/>
<rect x="617.3" y="281.27" width="21.15" height="6.36" fill="#050000"/>
<rect x="638.4" y="281.27" width="21.15" height="6.36" fill="#1010c0"/>
<rect x="659.5" y="281.27" width="21.15" height="6.36" fill="#1515e0"/>
<text x="596" y="286.27" font-size="5.2" font-weight="bold" text-anchor="end">M-CSF-</text>
<rect x="596.2" y="287.58" width="21.15" height="6.36" fill="#0a0000"/>
<rect x="617.3" y="287.58" width="21.15" height="6.36" fill="#0a0a30"/>
<rect x="638.4" y="287.58" width="21.15" height="6.36" fill="#100000"/>
<rect x="659.5" y="287.58" width="21.15" height="6.36" fill="#100000"/>
<text x="596" y="292.58" font-size="5.2" font-weight="bold" text-anchor="end">MIG-</text>
<rect x="596.2" y="293.89" width="21.15" height="6.36" fill="#080818"/>
<rect x="617.3" y="293.89" width="21.15" height="6.36" fill="#000000"/>
<rect x="638.4" y="293.89" width="21.15" height="6.36" fill="#100000"/>
<rect x="659.5" y="293.89" width="21.15" height="6.36" fill="#100000"/>
<text x="596" y="298.89" font-size="5.2" font-weight="bold" text-anchor="end">MIP-1-α-</text>
<rect x="596.2" y="300.2" width="21.15" height="6.36" fill="#080818"/>
<rect x="617.3" y="300.2" width="21.15" height="6.36" fill="#000000"/>
<rect x="638.4" y="300.2" width="21.15" height="6.36" fill="#300000"/>
<rect x="659.5" y="300.2" width="21.15" height="6.36" fill="#300000"/>
<text x="596" y="305.2" font-size="5.2" font-weight="bold" text-anchor="end">MIP-1-γ-</text>
<rect x="596.2" y="306.51" width="21.15" height="6.36" fill="#080820"/>
<rect x="617.3" y="306.51" width="21.15" height="6.36" fill="#000000"/>
<rect x="638.4" y="306.51" width="21.15" height="6.36" fill="#600000"/>
<rect x="659.5" y="306.51" width="21.15" height="6.36" fill="#600000"/>
<text x="596" y="311.51" font-size="5.2" font-weight="bold" text-anchor="end">RANTES-</text>
<rect x="596.2" y="312.82" width="21.15" height="6.36" fill="#080820"/>
<rect x="617.3" y="312.82" width="21.15" height="6.36" fill="#000000"/>
<rect x="638.4" y="312.82" width="21.15" height="6.36" fill="#b00000"/>
<rect x="659.5" y="312.82" width="21.15" height="6.36" fill="#a00000"/>
<text x="596" y="317.82" font-size="5.2" font-weight="bold" text-anchor="end">SDF-1-</text>
<rect x="596.2" y="319.13" width="21.15" height="6.36" fill="#000000"/>
<rect x="617.3" y="319.13" width="21.15" height="6.36" fill="#000000"/>
<rect x="638.4" y="319.13" width="21.15" height="6.36" fill="#150000"/>
<rect x="659.5" y="319.13" width="21.15" height="6.36" fill="#101040"/>
<text x="596" y="324.13" font-size="5.2" font-weight="bold" text-anchor="end">TCA-3-</text>
<rect x="596.2" y="325.44" width="21.15" height="6.36" fill="#000000"/>
<rect x="617.3" y="325.44" width="21.15" height="6.36" fill="#000000"/>
<rect x="638.4" y="325.44" width="21.15" height="6.36" fill="#400000"/>
<rect x="659.5" y="325.44" width="21.15" height="6.36" fill="#400000"/>
<text x="596" y="330.44" font-size="5.2" font-weight="bold" text-anchor="end">TECK-</text>
<rect x="596.2" y="331.75" width="21.15" height="6.36" fill="#0a0a40"/>
<rect x="617.3" y="331.75" width="21.15" height="6.36" fill="#0a0000"/>
<rect x="638.4" y="331.75" width="21.15" height="6.36" fill="#151580"/>
<rect x="659.5" y="331.75" width="21.15" height="6.36" fill="#101060"/>
<text x="596" y="336.75" font-size="5.2" font-weight="bold" text-anchor="end">TIMP-1-</text>
<rect x="596.2" y="338.06" width="21.15" height="6.36" fill="#050515"/>
<rect x="617.3" y="338.06" width="21.15" height="6.36" fill="#000000"/>
<rect x="638.4" y="338.06" width="21.15" height="6.36" fill="#ff1010"/>
<rect x="659.5" y="338.06" width="21.15" height="6.36" fill="#ff1010"/>
<text x="596" y="343.06" font-size="5.2" font-weight="bold" text-anchor="end">TIMP-2-</text>
<rect x="596.2" y="344.37" width="21.15" height="6.36" fill="#080825"/>
<rect x="617.3" y="344.37" width="21.15" height="6.36" fill="#080000"/>
<rect x="638.4" y="344.37" width="21.15" height="6.36" fill="#800000"/>
<rect x="659.5" y="344.37" width="21.15" height="6.36" fill="#800000"/>
<text x="596" y="349.38" font-size="5.2" font-weight="bold" text-anchor="end">TNF-</text>
<rect x="596.2" y="350.68" width="21.15" height="6.36" fill="#080825"/>
<rect x="617.3" y="350.68" width="21.15" height="6.36" fill="#080000"/>
<rect x="638.4" y="350.68" width="21.15" height="6.36" fill="#200000"/>
<rect x="659.5" y="350.68" width="21.15" height="6.36" fill="#150000"/>
<text x="596" y="355.68" font-size="5.2" font-weight="bold" text-anchor="end">sTNF RI-</text>
<rect x="596.2" y="356.99" width="21.15" height="6.36" fill="#080000"/>
<rect x="617.3" y="356.99" width="21.15" height="6.36" fill="#050520"/>
<rect x="638.4" y="356.99" width="21.15" height="6.36" fill="#400000"/>
<rect x="659.5" y="356.99" width="21.15" height="6.36" fill="#400000"/>
<text x="596" y="362" font-size="5.2" font-weight="bold" text-anchor="end">sTNF RII-</text>
<line x1="596.2" y1="117.21" x2="680.6" y2="117.21" stroke="#5a5a5a" stroke-width="0.35"/>
<line x1="596.2" y1="123.52" x2="680.6" y2="123.52" stroke="#5a5a5a" stroke-width="0.35"/>
<line x1="596.2" y1="129.83" x2="680.6" y2="129.83" stroke="#5a5a5a" stroke-width="0.35"/>
<line x1="596.2" y1="136.14" x2="680.6" y2="136.14" stroke="#5a5a5a" stroke-width="0.35"/>
<line x1="596.2" y1="142.45" x2="680.6" y2="142.45" stroke="#5a5a5a" stroke-width="0.35"/>
<line x1="596.2" y1="148.76" x2="680.6" y2="148.76" stroke="#5a5a5a" stroke-width="0.35"/>
<line x1="596.2" y1="155.07" x2="680.6" y2="155.07" stroke="#5a5a5a" stroke-width="0.35"/>
<line x1="596.2" y1="161.38" x2="680.6" y2="161.38" stroke="#5a5a5a" stroke-width="0.35"/>
<line x1="596.2" y1="167.69" x2="680.6" y2="167.69" stroke="#5a5a5a" stroke-width="0.35"/>
<line x1="596.2" y1="174" x2="680.6" y2="174" stroke="#5a5a5a" stroke-width="0.35"/>
<line x1="596.2" y1="180.31" x2="680.6" y2="180.31" stroke="#5a5a5a" stroke-width="0.35"/>
<line x1="596.2" y1="186.62" x2="680.6" y2="186.62" stroke="#5a5a5a" stroke-width="0.35"/>
<line x1="596.2" y1="192.93" x2="680.6" y2="192.93" stroke="#5a5a5a" stroke-width="0.35"/>
<line x1="596.2" y1="199.24" x2="680.6" y2="199.24" stroke="#5a5a5a" stroke-width="0.35"/>
<line x1="596.2" y1="205.55" x2="680.6" y2="205.55" stroke="#5a5a5a" stroke-width="0.35"/>
<line x1="596.2" y1="211.86" x2="680.6" y2="211.86" stroke="#5a5a5a" stroke-width="0.35"/>
<line x1="596.2" y1="218.17" x2="680.6" y2="218.17" stroke="#5a5a5a" stroke-width="0.35"/>
<line x1="596.2" y1="224.48" x2="680.6" y2="224.48" stroke="#5a5a5a" stroke-width="0.35"/>
<line x1="596.2" y1="230.79" x2="680.6" y2="230.79" stroke="#5a5a5a" stroke-width="0.35"/>
<line x1="596.2" y1="237.1" x2="680.6" y2="237.1" stroke="#5a5a5a" stroke-width="0.35"/>
<line x1="596.2" y1="243.41" x2="680.6" y2="243.41" stroke="#5a5a5a" stroke-width="0.35"/>
<line x1="596.2" y1="249.72" x2="680.6" y2="249.72" stroke="#5a5a5a" stroke-width="0.35"/>
<line x1="596.2" y1="256.03" x2="680.6" y2="256.03" stroke="#5a5a5a" stroke-width="0.35"/>
<line x1="596.2" y1="262.34" x2="680.6" y2="262.34" stroke="#5a5a5a" stroke-width="0.35"/>
<line x1="596.2" y1="268.65" x2="680.6" y2="268.65" stroke="#5a5a5a" stroke-width="0.35"/>
<line x1="596.2" y1="274.96" x2="680.6" y2="274.96" stroke="#5a5a5a" stroke-width="0.35"/>
<line x1="596.2" y1="281.27" x2="680.6" y2="281.27" stroke="#5a5a5a" stroke-width="0.35"/>
<line x1="596.2" y1="287.58" x2="680.6" y2="287.58" stroke="#5a5a5a" stroke-width="0.35"/>
<line x1="596.2" y1="293.89" x2="680.6" y2="293.89" stroke="#5a5a5a" stroke-width="0.35"/>
<line x1="596.2" y1="300.2" x2="680.6" y2="300.2" stroke="#5a5a5a" stroke-width="0.35"/>
<line x1="596.2" y1="306.51" x2="680.6" y2="306.51" stroke="#5a5a5a" stroke-width="0.35"/>
<line x1="596.2" y1="312.82" x2="680.6" y2="312.82" stroke="#5a5a5a" stroke-width="0.35"/>
<line x1="596.2" y1="319.13" x2="680.6" y2="319.13" stroke="#5a5a5a" stroke-width="0.35"/>
<line x1="596.2" y1="325.44" x2="680.6" y2="325.44" stroke="#5a5a5a" stroke-width="0.35"/>
<line x1="596.2" y1="331.75" x2="680.6" y2="331.75" stroke="#5a5a5a" stroke-width="0.35"/>
<line x1="596.2" y1="338.06" x2="680.6" y2="338.06" stroke="#5a5a5a" stroke-width="0.35"/>
<line x1="596.2" y1="344.37" x2="680.6" y2="344.37" stroke="#5a5a5a" stroke-width="0.35"/>
<line x1="596.2" y1="350.68" x2="680.6" y2="350.68" stroke="#5a5a5a" stroke-width="0.35"/>
<line x1="596.2" y1="356.99" x2="680.6" y2="356.99" stroke="#5a5a5a" stroke-width="0.35"/>
<line x1="617.3" y1="110.9" x2="617.3" y2="363.3" stroke="#5a5a5a" stroke-width="0.35"/>
<line x1="638.4" y1="110.9" x2="638.4" y2="363.3" stroke="#5a5a5a" stroke-width="0.35"/>
<line x1="659.5" y1="110.9" x2="659.5" y2="363.3" stroke="#5a5a5a" stroke-width="0.35"/>
<line x1="606.75" y1="363.3" x2="606.75" y2="364.8" stroke="#000" stroke-width="0.4"/>
<line x1="627.85" y1="363.3" x2="627.85" y2="364.8" stroke="#000" stroke-width="0.4"/>
<line x1="648.95" y1="363.3" x2="648.95" y2="364.8" stroke="#000" stroke-width="0.4"/>
<line x1="670.05" y1="363.3" x2="670.05" y2="364.8" stroke="#000" stroke-width="0.4"/>
<rect x="596.7" y="106.3" width="59.8" height="2.8" fill="url(#gc)"/>
<text x="597.7" y="104" font-size="4.8" font-weight="bold" text-anchor="middle">-1</text>
<text x="610.6" y="104" font-size="4.8" font-weight="bold" text-anchor="middle">0</text>
<text x="624.3" y="104" font-size="4.8" font-weight="bold" text-anchor="middle">1</text>
<text x="637.2" y="104" font-size="4.8" font-weight="bold" text-anchor="middle">2</text>
<text x="650.8" y="104" font-size="4.8" font-weight="bold" text-anchor="middle">3</text>
<text x="660" y="108.8" font-size="4.8" font-weight="bold">Log2 ratio</text>
<text x="605.1" y="373.8" font-size="9" fill="#000"><tspan font-style="italic">Adar</tspan><tspan font-size="5.4" dy="-3.78">fl/fl</tspan></text>
<text x="643.8" y="373.8" font-size="9" fill="#000"><tspan font-style="italic">Adar</tspan><tspan font-size="5.4" dy="-3.78">iΔgut</tspan></text>
<text x="-0.7" y="134.2" font-size="17.5" font-weight="bold">d</text>
<text x="48.8" y="136.5" font-size="8.8" text-anchor="middle">Ileum</text>
<text x="123" y="136.5" font-size="8.8" text-anchor="middle">Proximal colon</text>
<text x="197.5" y="136.5" font-size="8.8" text-anchor="middle">Distal colon</text>
<text x="0" y="0" transform="translate(10.8 201) rotate(-90)" font-size="9" fill="#000"><tspan font-style="italic">Adar</tspan><tspan font-size="5.58" dy="-4.05">fl/fl</tspan></text>
<text x="0" y="0" transform="translate(10.8 273) rotate(-90)" font-size="9" fill="#000"><tspan font-style="italic">Adar</tspan><tspan font-size="5.58" dy="-4.05">iΔgut</tspan></text>
<g clip-path="url(#c4)">
<rect x="12.3" y="139.2" width="73" height="72.6" fill="#c880b4"/>
<rect x="15.3" y="143.2" width="14" height="48" rx="7" fill="#d390c0"/>
<path d="M22.3 148.2 L22.3 191.2" fill="none" stroke="#a2598e" stroke-width="6.3"/>
<rect x="36.8" y="145.2" width="11" height="44" rx="5.5" fill="#d390c0"/>
<path d="M42.3 150.2 L42.3 189.2" fill="none" stroke="#a2598e" stroke-width="4.95"/>
<rect x="53.3" y="141.2" width="12" height="50" rx="6" fill="#d390c0"/>
<path d="M59.3 146.2 L59.3 191.2" fill="none" stroke="#a2598e" stroke-width="5.4"/>
<rect x="72.3" y="149.2" width="12" height="45" rx="6" fill="#d390c0"/>
<path d="M78.3 154.2 L78.3 194.2" fill="none" stroke="#a2598e" stroke-width="5.4"/>
<rect x="12.3" y="187.2" width="73" height="24.6" fill="#b76c9f" opacity="0.85"/>
<ellipse cx="24.3" cy="200.2" rx="5" ry="7" fill="#ce92bb" stroke="#8d497f" stroke-width="2" transform="rotate(0 24.3 200.2)"/>
<ellipse cx="37.3" cy="200.2" rx="5" ry="7" fill="#ce92bb" stroke="#8d497f" stroke-width="2" transform="rotate(0 37.3 200.2)"/>
<ellipse cx="50.3" cy="200.2" rx="5" ry="7" fill="#ce92bb" stroke="#8d497f" stroke-width="2" transform="rotate(0 50.3 200.2)"/>
<ellipse cx="64.3" cy="200.2" rx="5" ry="7" fill="#ce92bb" stroke="#8d497f" stroke-width="2" transform="rotate(0 64.3 200.2)"/>
<ellipse cx="76.3" cy="200.2" rx="5" ry="7" fill="#ce92bb" stroke="#8d497f" stroke-width="2" transform="rotate(0 76.3 200.2)"/>
<rect x="12.3" y="139.2" width="73" height="72.6" filter="url(#nuc)"/>
<rect x="12.3" y="139.2" width="73" height="72.6" filter="url(#wsp)"/>
<path d="M12.3 139.2 L15.3 139.2 L15.3 169.2 L12.3 173.2 Z" fill="#f5ecf3" stroke="none" stroke-width="1"/>
<path d="M29.3 147.2 L35.3 143.2 L36.3 159.2 L34.3 179.2 L31.3 183.2 L29.3 169.2 Z" fill="#f5ecf3" stroke="none" stroke-width="1"/>
<path d="M48.3 139.2 L53.3 139.2 L53.3 153.2 L51.3 169.2 L49.3 185.2 L47.3 183.2 L47.3 159.2 Z" fill="#f5ecf3" stroke="none" stroke-width="1"/>
<path d="M70.3 139.2 L73.3 141.2 L72.3 157.2 L69.3 173.2 L66.3 187.2 L64.3 185.2 L67.3 167.2 L69.3 149.2 Z" fill="#f5ecf3" stroke="none" stroke-width="1"/>
<path d="M80.3 139.2 L85.3 139.2 L85.3 147.2 L83.3 143.2 Z" fill="#f5ecf3" stroke="none" stroke-width="1"/>
<path d="M12.3 205.2 L26.3 208.2 L42.3 212.2 L12.3 212.2 Z" fill="#f5ecf3" stroke="none" stroke-width="1"/>
<path d="M12.3 203.2 L32.3 207.2 L52.3 212.2" fill="none" stroke="#f3e8f1" stroke-width="1.2"/>
</g>
<rect x="12.3" y="139.2" width="73" height="72.6" fill="none" stroke="#8c8c8c" stroke-width="1.1"/>
<line x1="59.3" y1="209.6" x2="82.8" y2="209.6" stroke="#000" stroke-width="1.3"/>
<g clip-path="url(#c5)">
<rect x="86.7" y="139.2" width="73" height="72.6" fill="#c37dae"/>
<ellipse cx="116.7" cy="179.2" rx="20" ry="22" fill="#aa6296" transform="rotate(0 116.7 179.2)" opacity="0.7"/>
<ellipse cx="144.7" cy="199.2" rx="14" ry="12" fill="#aa6296" transform="rotate(0 144.7 199.2)" opacity="0.6"/>
<rect x="86.7" y="139.2" width="73" height="72.6" filter="url(#nuc)"/>
<rect x="86.7" y="139.2" width="73" height="72.6" filter="url(#wsp)"/>
<circle cx="93.66" cy="171.02" r="1.16" fill="#f3e8f1"/>
<circle cx="113.33" cy="142.39" r="1.59" fill="#f3e8f1"/>
<circle cx="109.37" cy="190.29" r="0.73" fill="#f3e8f1"/>
<circle cx="141.91" cy="181.27" r="0.86" fill="#f3e8f1"/>
<circle cx="123.46" cy="156.14" r="1.64" fill="#f3e8f1"/>
<circle cx="155.43" cy="175.5" r="1.66" fill="#f3e8f1"/>
<circle cx="142.46" cy="160.56" r="0.86" fill="#f3e8f1"/>
<circle cx="108.87" cy="195.2" r="1.21" fill="#f3e8f1"/>
<circle cx="110.13" cy="153.42" r="0.76" fill="#f3e8f1"/>
<circle cx="108.8" cy="187.92" r="1.01" fill="#f3e8f1"/>
<circle cx="137.37" cy="192.14" r="1.06" fill="#f3e8f1"/>
<circle cx="117.81" cy="151.43" r="0.78" fill="#f3e8f1"/>
<circle cx="96.4" cy="164.92" r="0.85" fill="#f3e8f1"/>
<circle cx="110.12" cy="186.5" r="0.85" fill="#f3e8f1"/>
<circle cx="103.9" cy="174.58" r="1.73" fill="#f3e8f1"/>
<circle cx="115.65" cy="166.08" r="1.1" fill="#f3e8f1"/>
<circle cx="117.49" cy="193.86" r="0.87" fill="#f3e8f1"/>
<circle cx="158.27" cy="150.57" r="1.35" fill="#f3e8f1"/>
<circle cx="138.59" cy="142.65" r="1.47" fill="#f3e8f1"/>
<circle cx="104.56" cy="173.45" r="0.72" fill="#f3e8f1"/>
<circle cx="104.3" cy="173.07" r="1.61" fill="#f3e8f1"/>
<circle cx="97.4" cy="181.32" r="1.56" fill="#f3e8f1"/>
<circle cx="121.23" cy="204.27" r="0.79" fill="#f3e8f1"/>
<circle cx="110.74" cy="194.39" r="0.92" fill="#f3e8f1"/>
<circle cx="114.4" cy="174.1" r="0.67" fill="#f3e8f1"/>
<circle cx="112.66" cy="172.6" r="1.32" fill="#f3e8f1"/>
<circle cx="111.57" cy="163.42" r="0.82" fill="#f3e8f1"/>
<circle cx="123.34" cy="144.55" r="1.32" fill="#f3e8f1"/>
<circle cx="111.16" cy="156.76" r="1.3" fill="#f3e8f1"/>
<circle cx="102.31" cy="181.93" r="1.72" fill="#f3e8f1"/>
<circle cx="112.69" cy="170.94" r="1.06" fill="#f3e8f1"/>
<circle cx="127.29" cy="182.86" r="1.26" fill="#f3e8f1"/>
<circle cx="145.83" cy="195.46" r="0.73" fill="#f3e8f1"/>
<circle cx="115.02" cy="147.57" r="1.74" fill="#f3e8f1"/>
<circle cx="119.04" cy="197.47" r="1.19" fill="#f3e8f1"/>
<circle cx="153.09" cy="151.38" r="1.14" fill="#f3e8f1"/>
<circle cx="107.29" cy="183.04" r="1.68" fill="#f3e8f1"/>
<circle cx="125.37" cy="170.77" r="0.75" fill="#f3e8f1"/>
<circle cx="112.87" cy="166.46" r="1.16" fill="#f3e8f1"/>
<circle cx="132.48" cy="179.46" r="0.87" fill="#f3e8f1"/>
<circle cx="113.71" cy="205.53" r="0.61" fill="#f3e8f1"/>
<circle cx="123.41" cy="156.51" r="1.36" fill="#f3e8f1"/>
<circle cx="106.07" cy="188.9" r="1.72" fill="#f3e8f1"/>
<circle cx="112.27" cy="185.71" r="1.18" fill="#f3e8f1"/>
<circle cx="90.92" cy="191.76" r="1.08" fill="#f3e8f1"/>
<circle cx="151.91" cy="176.95" r="0.76" fill="#f3e8f1"/>
<circle cx="97.44" cy="151.32" r="1.29" fill="#f3e8f1"/>
<circle cx="109.8" cy="184.85" r="0.68" fill="#f3e8f1"/>
<circle cx="134.98" cy="194.4" r="1.56" fill="#f3e8f1"/>
<circle cx="133.71" cy="171.03" r="1.19" fill="#f3e8f1"/>
<circle cx="120.8" cy="177.8" r="1.46" fill="#f3e8f1"/>
<circle cx="124.32" cy="156.22" r="1.74" fill="#f3e8f1"/>
<circle cx="122.59" cy="153.24" r="1.73" fill="#f3e8f1"/>
<circle cx="118.48" cy="164.34" r="1.55" fill="#f3e8f1"/>
<circle cx="120.63" cy="184.75" r="1.26" fill="#f3e8f1"/>
<path d="M98.7 153.2 L108.7 161.2 L120.7 175.2 L128.7 191.2 L134.7 212.2" fill="none" stroke="#f3e8f1" stroke-width="1.8"/>
<path d="M86.7 191.2 L92.7 199.2 L100.7 212.2" fill="none" stroke="#f3e8f1" stroke-width="2.6"/>
</g>
<rect x="86.7" y="139.2" width="73" height="72.6" fill="none" stroke="#8c8c8c" stroke-width="1.1"/>
<line x1="133.7" y1="209.6" x2="157.2" y2="209.6" stroke="#000" stroke-width="1.3"/>
<g clip-path="url(#c6)">
<rect x="160.9" y="139.2" width="73.1" height="72.6" fill="#c882b6"/>
<rect x="160.9" y="133.2" width="10" height="58" rx="5" fill="#984d86"/>
<rect x="163.4" y="133.2" width="5" height="54" rx="2.5" fill="#d49cc4"/>
<rect x="172.4" y="133.2" width="10" height="56.8" rx="5" fill="#984d86"/>
<rect x="174.9" y="133.2" width="5" height="52.8" rx="2.5" fill="#d49cc4"/>
<rect x="183.9" y="133.2" width="10" height="55.6" rx="5" fill="#984d86"/>
<rect x="186.4" y="133.2" width="5" height="51.6" rx="2.5" fill="#d49cc4"/>
<rect x="195.4" y="133.2" width="10" height="54.4" rx="5" fill="#984d86"/>
<rect x="197.9" y="133.2" width="5" height="50.4" rx="2.5" fill="#d49cc4"/>
<rect x="206.9" y="133.2" width="10" height="53.2" rx="5" fill="#984d86"/>
<rect x="209.4" y="133.2" width="5" height="49.2" rx="2.5" fill="#d49cc4"/>
<rect x="218.4" y="133.2" width="10" height="52" rx="5" fill="#984d86"/>
<rect x="220.9" y="133.2" width="5" height="48" rx="2.5" fill="#d49cc4"/>
<rect x="229.9" y="133.2" width="10" height="50.8" rx="5" fill="#984d86"/>
<rect x="232.4" y="133.2" width="5" height="46.8" rx="2.5" fill="#d49cc4"/>
<path d="M182.9 212.2 L233.9 185.2 L233.9 196.2 L200.9 212.2 Z" fill="#da6690" stroke="none" stroke-width="1"/>
<ellipse cx="168.9" cy="205.2" rx="5" ry="5" fill="#904985" transform="rotate(0 168.9 205.2)"/>
<rect x="160.9" y="139.2" width="73.1" height="72.6" filter="url(#nuc)"/>
<rect x="160.9" y="139.2" width="73.1" height="72.6" filter="url(#wsp)"/>
<path d="M184.9 212.2 L233.9 187.2" fill="none" stroke="#f3e8f1" stroke-width="1.4"/>
<path d="M171.65 137.2 L171.65 188.08" fill="none" stroke="#f3e8f1" stroke-width="0.9"/>
<path d="M183.15 137.2 L183.15 186.88" fill="none" stroke="#f3e8f1" stroke-width="0.9"/>
<path d="M194.65 137.2 L194.65 185.68" fill="none" stroke="#f3e8f1" stroke-width="0.9"/>
<path d="M206.15 137.2 L206.15 184.48" fill="none" stroke="#f3e8f1" stroke-width="0.9"/>
<path d="M217.65 137.2 L217.65 183.28" fill="none" stroke="#f3e8f1" stroke-width="0.9"/>
<path d="M229.15 137.2 L229.15 182.08" fill="none" stroke="#f3e8f1" stroke-width="0.9"/>
</g>
<rect x="160.9" y="139.2" width="73.1" height="72.6" fill="none" stroke="#8c8c8c" stroke-width="1.1"/>
<line x1="208" y1="209.6" x2="231.5" y2="209.6" stroke="#000" stroke-width="1.3"/>
<g clip-path="url(#c7)">
<rect x="12.3" y="213.4" width="73" height="73.1" fill="#c17daf"/>
<ellipse cx="26.3" cy="243.4" rx="5" ry="11" fill="#a56297" stroke="#88457e" stroke-width="2.6" transform="rotate(-10 26.3 243.4)"/>
<ellipse cx="42.3" cy="245.4" rx="5" ry="12" fill="#a56297" stroke="#88457e" stroke-width="2.6" transform="rotate(5 42.3 245.4)"/>
<ellipse cx="60.3" cy="251.4" rx="5" ry="11" fill="#a56297" stroke="#88457e" stroke-width="2.6" transform="rotate(10 60.3 251.4)"/>
<ellipse cx="74.3" cy="247.4" rx="4.5" ry="10" fill="#a56297" stroke="#88457e" stroke-width="2.6" transform="rotate(-5 74.3 247.4)"/>
<ellipse cx="52.3" cy="229.4" rx="6" ry="6" fill="#a56297" stroke="#88457e" stroke-width="2.6" transform="rotate(0 52.3 229.4)"/>
<ellipse cx="36.3" cy="223.4" rx="5" ry="5" fill="#a56297" stroke="#88457e" stroke-width="2.6" transform="rotate(0 36.3 223.4)"/>
<ellipse cx="68.3" cy="225.4" rx="5" ry="5" fill="#a56297" stroke="#88457e" stroke-width="2.6" transform="rotate(0 68.3 225.4)"/>
<ellipse cx="45.3" cy="219.4" rx="2.5" ry="3.25" fill="#e8324f" transform="rotate(0 45.3 219.4)"/>
<ellipse cx="60.3" cy="221.4" rx="2" ry="2.6" fill="#e8324f" transform="rotate(0 60.3 221.4)"/>
<ellipse cx="22.3" cy="223.4" rx="2" ry="2.6" fill="#e8324f" transform="rotate(0 22.3 223.4)"/>
<ellipse cx="33.3" cy="233.4" rx="1.5" ry="1.95" fill="#e8324f" transform="rotate(0 33.3 233.4)"/>
<ellipse cx="69.3" cy="235.4" rx="2" ry="2.6" fill="#e8324f" transform="rotate(0 69.3 235.4)"/>
<ellipse cx="25.3" cy="259.4" rx="2.2" ry="2.86" fill="#e8324f" transform="rotate(0 25.3 259.4)"/>
<ellipse cx="58.3" cy="243.4" rx="1.5" ry="1.95" fill="#e8324f" transform="rotate(0 58.3 243.4)"/>
<ellipse cx="17.3" cy="216.4" rx="2" ry="2.6" fill="#e8324f" transform="rotate(0 17.3 216.4)"/>
<path d="M12.3 263.4 L42.3 267.4 L85.3 273.4 L85.3 286.4 L12.3 286.4 Z" fill="#eac5da" stroke="none" stroke-width="1"/>
<path d="M12.3 273.4 L52.3 276.4 L85.3 281.4" fill="none" stroke="#dc95b5" stroke-width="1.8"/>
<path d="M12.3 279.4 L52.3 282.4 L85.3 286.4" fill="none" stroke="#e7a8c7" stroke-width="1.4"/>
<rect x="12.3" y="213.4" width="73" height="73.1" filter="url(#nuc)"/>
<rect x="12.3" y="213.4" width="73" height="73.1" filter="url(#wsp)"/>
</g>
<rect x="12.3" y="213.4" width="73" height="73.1" fill="none" stroke="#8c8c8c" stroke-width="1.1"/>
<line x1="59.3" y1="284.3" x2="82.8" y2="284.3" stroke="#000" stroke-width="1.3"/>
<g clip-path="url(#c8)">
<rect x="86.7" y="213.4" width="73" height="73.1" fill="#c17fb1"/>
<ellipse cx="91.6" cy="221.44" rx="4.58" ry="5.07" fill="#d4a7c8" stroke="#86437d" stroke-width="2.8" transform="rotate(174.01 91.6 221.44)"/>
<ellipse cx="128.49" cy="224.93" rx="4.54" ry="5.68" fill="#d4a7c8" stroke="#86437d" stroke-width="2.8" transform="rotate(102.47 128.49 224.93)"/>
<ellipse cx="140.7" cy="222.59" rx="5.59" ry="4.78" fill="#d4a7c8" stroke="#86437d" stroke-width="2.8" transform="rotate(76.26 140.7 222.59)"/>
<ellipse cx="155.23" cy="223.67" rx="4.45" ry="5.43" fill="#d4a7c8" stroke="#86437d" stroke-width="2.8" transform="rotate(107.19 155.23 223.67)"/>
<ellipse cx="98.84" cy="235.61" rx="4.3" ry="5.14" fill="#d4a7c8" stroke="#86437d" stroke-width="2.8" transform="rotate(63.48 98.84 235.61)"/>
<ellipse cx="112.82" cy="235.98" rx="4.89" ry="4.9" fill="#d4a7c8" stroke="#86437d" stroke-width="2.8" transform="rotate(23.77 112.82 235.98)"/>
<ellipse cx="122.49" cy="233.63" rx="4.66" ry="4.84" fill="#d4a7c8" stroke="#86437d" stroke-width="2.8" transform="rotate(58.92 122.49 233.63)"/>
<ellipse cx="136.7" cy="236.03" rx="5.22" ry="4.95" fill="#d4a7c8" stroke="#86437d" stroke-width="2.8" transform="rotate(118.03 136.7 236.03)"/>
<ellipse cx="149.71" cy="234.55" rx="5.27" ry="5.96" fill="#d4a7c8" stroke="#86437d" stroke-width="2.8" transform="rotate(166.76 149.71 234.55)"/>
<ellipse cx="162.13" cy="235.64" rx="4.31" ry="4.8" fill="#d4a7c8" stroke="#86437d" stroke-width="2.8" transform="rotate(135.8 162.13 235.64)"/>
<ellipse cx="94.14" cy="245.76" rx="5.02" ry="5.07" fill="#d4a7c8" stroke="#86437d" stroke-width="2.8" transform="rotate(55.34 94.14 245.76)"/>
<ellipse cx="105.58" cy="245.8" rx="4.98" ry="5.89" fill="#d4a7c8" stroke="#86437d" stroke-width="2.8" transform="rotate(80.56 105.58 245.8)"/>
<ellipse cx="115.84" cy="247.66" rx="4.4" ry="5.43" fill="#d4a7c8" stroke="#86437d" stroke-width="2.8" transform="rotate(158.66 115.84 247.66)"/>
<ellipse cx="129.18" cy="249.36" rx="4.25" ry="5.49" fill="#d4a7c8" stroke="#86437d" stroke-width="2.8" transform="rotate(36.04 129.18 249.36)"/>
<ellipse cx="141.29" cy="247.59" rx="5.05" ry="5.4" fill="#d4a7c8" stroke="#86437d" stroke-width="2.8" transform="rotate(87.37 141.29 247.59)"/>
<ellipse cx="156.84" cy="245.49" rx="4.29" ry="4.81" fill="#d4a7c8" stroke="#86437d" stroke-width="2.8" transform="rotate(55.34 156.84 245.49)"/>
<ellipse cx="98.02" cy="258.24" rx="5.17" ry="5.19" fill="#d4a7c8" stroke="#86437d" stroke-width="2.8" transform="rotate(137.2 98.02 258.24)"/>
<ellipse cx="111.35" cy="261.06" rx="5" ry="4.68" fill="#d4a7c8" stroke="#86437d" stroke-width="2.8" transform="rotate(142.98 111.35 261.06)"/>
<ellipse cx="125.53" cy="260.61" rx="4.2" ry="5.72" fill="#d4a7c8" stroke="#86437d" stroke-width="2.8" transform="rotate(137.64 125.53 260.61)"/>
<ellipse cx="136.07" cy="258.16" rx="4.44" ry="5.44" fill="#d4a7c8" stroke="#86437d" stroke-width="2.8" transform="rotate(173.99 136.07 258.16)"/>
<ellipse cx="150.43" cy="257.6" rx="4.39" ry="5.17" fill="#d4a7c8" stroke="#86437d" stroke-width="2.8" transform="rotate(161.9 150.43 257.6)"/>
<ellipse cx="161.73" cy="258.76" rx="4.53" ry="5.65" fill="#d4a7c8" stroke="#86437d" stroke-width="2.8" transform="rotate(97.25 161.73 258.76)"/>
<ellipse cx="94.01" cy="271.06" rx="4.66" ry="5.76" fill="#d4a7c8" stroke="#86437d" stroke-width="2.8" transform="rotate(68.02 94.01 271.06)"/>
<ellipse cx="105.65" cy="272.03" rx="4.47" ry="5.03" fill="#d4a7c8" stroke="#86437d" stroke-width="2.8" transform="rotate(68.37 105.65 272.03)"/>
<ellipse cx="119.29" cy="273.19" rx="5.34" ry="5.02" fill="#d4a7c8" stroke="#86437d" stroke-width="2.8" transform="rotate(0.94 119.29 273.19)"/>
<ellipse cx="130.61" cy="269.82" rx="4.44" ry="5.72" fill="#d4a7c8" stroke="#86437d" stroke-width="2.8" transform="rotate(55.16 130.61 269.82)"/>
<ellipse cx="143.84" cy="271.72" rx="4.36" ry="5.66" fill="#d4a7c8" stroke="#86437d" stroke-width="2.8" transform="rotate(79.69 143.84 271.72)"/>
<ellipse cx="156.73" cy="270.36" rx="5.25" ry="5.45" fill="#d4a7c8" stroke="#86437d" stroke-width="2.8" transform="rotate(74.53 156.73 270.36)"/>
<ellipse cx="98.46" cy="283.12" rx="5.23" ry="5.84" fill="#d4a7c8" stroke="#86437d" stroke-width="2.8" transform="rotate(116.46 98.46 283.12)"/>
<ellipse cx="111.17" cy="285.25" rx="4.75" ry="5.06" fill="#d4a7c8" stroke="#86437d" stroke-width="2.8" transform="rotate(123.57 111.17 285.25)"/>
<ellipse cx="121.77" cy="282.3" rx="4.44" ry="4.98" fill="#d4a7c8" stroke="#86437d" stroke-width="2.8" transform="rotate(135.75 121.77 282.3)"/>
<ellipse cx="135.82" cy="282.99" rx="4.87" ry="5.55" fill="#d4a7c8" stroke="#86437d" stroke-width="2.8" transform="rotate(23.13 135.82 282.99)"/>
<ellipse cx="148.72" cy="282.3" rx="5.51" ry="5.42" fill="#d4a7c8" stroke="#86437d" stroke-width="2.8" transform="rotate(85.03 148.72 282.3)"/>
<ellipse cx="160.95" cy="283.85" rx="4.2" ry="5.88" fill="#d4a7c8" stroke="#86437d" stroke-width="2.8" transform="rotate(90.1 160.95 283.85)"/>
<ellipse cx="128.7" cy="279.4" rx="3" ry="3" fill="#dd2d4d" transform="rotate(0 128.7 279.4)"/>
<ellipse cx="124.7" cy="283.4" rx="2" ry="2" fill="#dc3d58" transform="rotate(0 124.7 283.4)"/>
<rect x="86.7" y="213.4" width="73" height="73.1" filter="url(#nuc)"/>
<rect x="86.7" y="213.4" width="73" height="73.1" filter="url(#wsp)"/>
<path d="M98.7 213.4 L116.7 213.4 L113.7 219.4 L109.7 227.4 L105.7 229.4 L101.7 223.4 Z" fill="#f5ecf3" stroke="none" stroke-width="1"/>
<path d="M86.7 213.4 L92.7 213.4 L89.7 217.4 L86.7 218.4 Z" fill="#f5ecf3" stroke="none" stroke-width="1"/>
</g>
<rect x="86.7" y="213.4" width="73" height="73.1" fill="none" stroke="#8c8c8c" stroke-width="1.1"/>
<line x1="133.7" y1="284.3" x2="157.2" y2="284.3" stroke="#000" stroke-width="1.3"/>
<g clip-path="url(#c9)">
<rect x="160.9" y="213.4" width="73.1" height="73.1" fill="#bf7bac"/>
<path d="M160.9 225.4 L180.9 222.4 L200.9 219.4 L233.9 213.4 L233.9 218.4 L200.9 224.4 L160.9 230.4 Z" fill="#db9bbb" stroke="none" stroke-width="1"/>
<rect x="160.9" y="229.4" width="73.1" height="34" fill="#a86297" opacity="0.6"/>
<ellipse cx="168.9" cy="243.4" rx="4.5" ry="7.5" fill="#e0c7db" stroke="#7f3a76" stroke-width="2.2" transform="rotate(0 168.9 243.4)"/>
<ellipse cx="180.9" cy="246.4" rx="4.5" ry="8.5" fill="#e0c7db" stroke="#7f3a76" stroke-width="2.2" transform="rotate(0 180.9 246.4)"/>
<ellipse cx="193.9" cy="249.4" rx="4.5" ry="8.5" fill="#e0c7db" stroke="#7f3a76" stroke-width="2.2" transform="rotate(10 193.9 249.4)"/>
<ellipse cx="205.9" cy="251.4" rx="4.5" ry="8.5" fill="#e0c7db" stroke="#7f3a76" stroke-width="2.2" transform="rotate(0 205.9 251.4)"/>
<ellipse cx="217.9" cy="242.4" rx="4.5" ry="7.5" fill="#e0c7db" stroke="#7f3a76" stroke-width="2.2" transform="rotate(0 217.9 242.4)"/>
<ellipse cx="228.9" cy="249.4" rx="4" ry="7" fill="#e0c7db" stroke="#7f3a76" stroke-width="2.2" transform="rotate(0 228.9 249.4)"/>
<ellipse cx="187.9" cy="234.4" rx="3.5" ry="4.5" fill="#e0c7db" stroke="#7f3a76" stroke-width="2.2" transform="rotate(0 187.9 234.4)"/>
<path d="M160.9 265.4 L233.9 259.4 L233.9 286.4 L160.9 286.4 Z" fill="#ead2e0" stroke="none" stroke-width="1"/>
<path d="M160.9 273.4 L233.9 267.4" fill="none" stroke="#e099be" stroke-width="3"/>
<path d="M160.9 280.4 L233.9 275.4" fill="none" stroke="#e7a8cc" stroke-width="2.5"/>
<rect x="160.9" y="213.4" width="73.1" height="73.1" filter="url(#nuc)"/>
<rect x="160.9" y="213.4" width="73.1" height="73.1" filter="url(#wsp)"/>
<path d="M160.9 213.4 L233.9 213.4 L233.9 213.9 L200.9 219.4 L180.9 222.4 L160.9 225.4 Z" fill="#f5ecf3" stroke="none" stroke-width="1"/>
</g>
<rect x="160.9" y="213.4" width="73.1" height="73.1" fill="none" stroke="#8c8c8c" stroke-width="1.1"/>
<line x1="208" y1="284.3" x2="231.5" y2="284.3" stroke="#000" stroke-width="1.3"/>
<text x="240.3" y="132.2" font-size="17.5" font-weight="bold">e</text>
<text x="267.4" y="137.3" font-size="9"><tspan fill="#22b573">TUNEL</tspan><tspan fill="#2a6fd6"> DAPI</tspan></text>
<text x="0" y="0" transform="translate(259.5 180.4) rotate(-90)" font-size="8.3" fill="#000"><tspan font-style="italic">Adar</tspan><tspan font-size="5.81" dy="-3.74">fl/fl</tspan></text>
<text x="0" y="0" transform="translate(259.5 236) rotate(-90)" font-size="8.3" fill="#000"><tspan font-style="italic">Adar</tspan><tspan font-size="5.81" dy="-3.74">iΔgut</tspan></text>
<g clip-path="url(#c10)">
<rect x="261" y="139.3" width="61" height="57.1" fill="#020308"/>
<rect x="261" y="139.3" width="61" height="57.1" filter="url(#nz1)"/>
<circle cx="281.3" cy="146.9" r="2.98" fill="none" stroke="#2238f4" stroke-width="1.5"/>
<circle cx="294.2" cy="148.4" r="3.06" fill="none" stroke="#2238f4" stroke-width="1.5"/>
<circle cx="282.3" cy="153.9" r="3.06" fill="none" stroke="#2238f4" stroke-width="1.5"/>
<circle cx="275.9" cy="158.8" r="3.91" fill="none" stroke="#2238f4" stroke-width="1.5"/>
<circle cx="294.7" cy="156.4" r="3.06" fill="none" stroke="#2238f4" stroke-width="1.5"/>
<circle cx="288.8" cy="162.8" r="3.4" fill="none" stroke="#2238f4" stroke-width="1.5"/>
<circle cx="272.4" cy="167.3" r="3.06" fill="none" stroke="#2238f4" stroke-width="1.5"/>
<circle cx="279.4" cy="170.3" r="3.74" fill="none" stroke="#2238f4" stroke-width="1.5"/>
<circle cx="292.3" cy="172.7" r="3.23" fill="none" stroke="#2238f4" stroke-width="1.5"/>
<circle cx="272.9" cy="174.7" r="2.21" fill="none" stroke="#2238f4" stroke-width="1.5"/>
<circle cx="282.8" cy="182.7" r="4.08" fill="none" stroke="#2238f4" stroke-width="1.5"/>
<circle cx="295.7" cy="178.7" r="3.06" fill="none" stroke="#2238f4" stroke-width="1.5"/>
<circle cx="284.8" cy="190.1" r="2.98" fill="none" stroke="#2238f4" stroke-width="1.5"/>
<circle cx="293.7" cy="186.6" r="2.98" fill="none" stroke="#2238f4" stroke-width="1.5"/>
<circle cx="273.9" cy="186.6" r="2.98" fill="none" stroke="#1826b4" stroke-width="1.0"/>
<circle cx="306.7" cy="154.9" r="3.23" fill="none" stroke="#1826b4" stroke-width="1.0"/>
<circle cx="311.6" cy="159.8" r="2.98" fill="none" stroke="#1826b4" stroke-width="1.0"/>
<circle cx="300.7" cy="162.8" r="2.98" fill="none" stroke="#1826b4" stroke-width="1.0"/>
<circle cx="306.7" cy="168.8" r="2.89" fill="none" stroke="#1826b4" stroke-width="1.0"/>
<circle cx="317.6" cy="167.8" r="2.89" fill="none" stroke="#1826b4" stroke-width="1.0"/>
<circle cx="303.7" cy="175.7" r="3.06" fill="none" stroke="#1826b4" stroke-width="1.0"/>
<circle cx="311.6" cy="184.7" r="3.23" fill="none" stroke="#1826b4" stroke-width="1.0"/>
<circle cx="300.7" cy="187.6" r="2.98" fill="none" stroke="#1826b4" stroke-width="1.0"/>
<circle cx="317.6" cy="177.7" r="2.72" fill="none" stroke="#1826b4" stroke-width="1.0"/>
<circle cx="290.8" cy="142" r="2.55" fill="none" stroke="#1826b4" stroke-width="1.0"/>
<circle cx="299.7" cy="142" r="2.55" fill="none" stroke="#1826b4" stroke-width="1.0"/>
<circle cx="267.9" cy="148.9" r="2.55" fill="none" stroke="#1826b4" stroke-width="1.0"/>
<circle cx="288.8" cy="194.6" r="2.55" fill="none" stroke="#1826b4" stroke-width="1.0"/>
<circle cx="297.7" cy="193.6" r="2.55" fill="none" stroke="#1826b4" stroke-width="1.0"/>
<circle cx="313.6" cy="146.9" r="2.72" fill="none" stroke="#1826b4" stroke-width="1.0"/>
<circle cx="319.6" cy="155.9" r="2.55" fill="none" stroke="#1826b4" stroke-width="1.0"/>
<circle cx="299.78" cy="178.97" r="0.6" fill="#20a040"/>
<circle cx="307.19" cy="187" r="0.6" fill="#20a040"/>
<circle cx="304.82" cy="186.19" r="0.6" fill="#20a040"/>
<circle cx="274.25" cy="167.92" r="0.6" fill="#20a040"/>
<circle cx="313.56" cy="175.26" r="0.6" fill="#20a040"/>
<circle cx="311.74" cy="153.83" r="0.6" fill="#20a040"/>
</g>
<line x1="310" y1="193.4" x2="319" y2="193.4" stroke="#fff" stroke-width="1.3"/>
<g clip-path="url(#c11)">
<rect x="261" y="198.9" width="61" height="57.1" fill="#010208"/>
<rect x="261" y="198.9" width="61" height="57.1" filter="url(#mesh)"/>
<rect x="261" y="198.9" width="61" height="57.1" filter="url(#mesh2)"/>
<rect x="261" y="198.9" width="61" height="57.1" filter="url(#nz2)"/>
<path d="M261 205.9 C 281 202.9, 301 206.9, 322 203.9" fill="none" stroke="#2040ff" stroke-width="3"/>
<circle cx="270" cy="204.9" r="0.9" fill="#30e060"/>
<circle cx="278" cy="203.9" r="0.9" fill="#30e060"/>
<circle cx="291" cy="205.9" r="0.9" fill="#30e060"/>
<circle cx="303" cy="204.9" r="0.9" fill="#30e060"/>
<circle cx="310" cy="203.9" r="0.9" fill="#30e060"/>
<circle cx="298" cy="224.9" r="0.9" fill="#30e060"/>
<circle cx="275" cy="228.9" r="0.9" fill="#30e060"/>
<circle cx="307" cy="243.9" r="0.9" fill="#30e060"/>
<circle cx="283" cy="248.9" r="0.9" fill="#30e060"/>
<circle cx="316" cy="216.9" r="0.9" fill="#30e060"/>
</g>
<line x1="310" y1="253" x2="319" y2="253" stroke="#fff" stroke-width="1.3"/>
<text x="332.3" y="132" font-size="17.5" font-weight="bold">f</text>
<text x="352" y="137.3" font-size="9"><tspan fill="#e8202a">E-cadherin</tspan><tspan fill="#2a6fd6"> DAPI</tspan></text>
<text x="0" y="0" transform="translate(353.8 179.3) rotate(-90)" font-size="8.3" fill="#000"><tspan font-style="italic">Adar</tspan><tspan font-size="5.81" dy="-3.74">fl/fl</tspan></text>
<text x="0" y="0" transform="translate(353.8 241.8) rotate(-90)" font-size="8.3" fill="#000"><tspan font-style="italic">Adar</tspan><tspan font-size="5.81" dy="-3.74">iΔgut</tspan></text>
<g clip-path="url(#c12)">
<rect x="355" y="139.3" width="61.4" height="57.1" fill="#5a0610"/>
<rect x="355" y="139.3" width="61.4" height="57.1" filter="url(#nz3)"/>
<path d="M351 113.3 C 367 115.3, 385 127.3, 421 147.3" fill="none" stroke="#3a28d8" stroke-width="2" opacity="0.8"/>
<path d="M351 116.3 C 367 118.3, 385 130.3, 421 150.3" fill="none" stroke="#4a30e0" stroke-width="0.9" stroke-dasharray="1 1.2" opacity="0.8"/>
<path d="M351 125.3 C 367 127.3, 385 139.3, 421 159.3" fill="none" stroke="#3a28d8" stroke-width="2" opacity="0.8"/>
<path d="M351 128.3 C 367 130.3, 385 142.3, 421 162.3" fill="none" stroke="#4a30e0" stroke-width="0.9" stroke-dasharray="1 1.2" opacity="0.8"/>
<path d="M351 136.3 C 367 138.3, 385 150.3, 421 170.3" fill="none" stroke="#3a28d8" stroke-width="2" opacity="0.8"/>
<path d="M351 139.3 C 367 141.3, 385 153.3, 421 173.3" fill="none" stroke="#4a30e0" stroke-width="0.9" stroke-dasharray="1 1.2" opacity="0.8"/>
<path d="M351 147.3 C 367 149.3, 385 161.3, 421 181.3" fill="none" stroke="#3a28d8" stroke-width="2" opacity="0.8"/>
<path d="M351 150.3 C 367 152.3, 385 164.3, 421 184.3" fill="none" stroke="#4a30e0" stroke-width="0.9" stroke-dasharray="1 1.2" opacity="0.8"/>
<path d="M351 158.3 C 367 160.3, 385 172.3, 421 192.3" fill="none" stroke="#3a28d8" stroke-width="2" opacity="0.8"/>
<path d="M351 161.3 C 367 163.3, 385 175.3, 421 195.3" fill="none" stroke="#4a30e0" stroke-width="0.9" stroke-dasharray="1 1.2" opacity="0.8"/>
<path d="M351 169.3 C 367 171.3, 385 183.3, 421 203.3" fill="none" stroke="#3a28d8" stroke-width="2" opacity="0.8"/>
<path d="M351 172.3 C 367 174.3, 385 186.3, 421 206.3" fill="none" stroke="#4a30e0" stroke-width="0.9" stroke-dasharray="1 1.2" opacity="0.8"/>
<path d="M351 180.3 C 367 182.3, 385 194.3, 421 214.3" fill="none" stroke="#3a28d8" stroke-width="2" opacity="0.8"/>
<path d="M351 183.3 C 367 185.3, 385 197.3, 421 217.3" fill="none" stroke="#4a30e0" stroke-width="0.9" stroke-dasharray="1 1.2" opacity="0.8"/>
<ellipse cx="371" cy="167.3" rx="9" ry="8" fill="#3a28c0" opacity="0.6"/>
<g mask="url(#mk1)">
<rect x="361" y="176.3" width="36" height="18" filter="url(#nz4)"/>
</g>
<g mask="url(#mk2)">
<rect x="363" y="146.3" width="24" height="14" filter="url(#nz5)"/>
</g>
<path d="M395 196.4 L416.4 169.3 L416.4 196.4 Z" fill="#2a0408" stroke="none" stroke-width="1" opacity="0.55"/>
</g>
<line x1="404.4" y1="193.4" x2="413.4" y2="193.4" stroke="#fff" stroke-width="1.3"/>
<g clip-path="url(#c13)">
<rect x="355" y="198.9" width="61.4" height="57.1" fill="#40050f"/>
<rect x="355" y="198.9" width="61.4" height="57.1" filter="url(#nz6)"/>
<rect x="355" y="198.9" width="61.4" height="57.1" filter="url(#nz7)"/>
<path d="M355 198.9 L377 198.9 L355 218.9 Z" fill="#0a0204" stroke="none" stroke-width="1"/>
</g>
<line x1="404.4" y1="253" x2="413.4" y2="253" stroke="#fff" stroke-width="1.3"/>
<text x="263.7" y="279.4" font-size="17.5" font-weight="bold">g</text>
<text x="286.6" y="277" font-size="9"><tspan fill="#22b573">Lysozyme</tspan><tspan fill="#e8202a"> Muc2</tspan><tspan fill="#2a6fd6"> DAPI</tspan></text>
<text x="0" y="0" transform="translate(284.4 319.6) rotate(-90)" font-size="8.5" fill="#000"><tspan font-style="italic">Adar</tspan><tspan font-size="5.95" dy="-3.83">fl/fl</tspan></text>
<text x="0" y="0" transform="translate(284.4 377.9) rotate(-90)" font-size="8.5" fill="#000"><tspan font-style="italic">Adar</tspan><tspan font-size="5.95" dy="-3.83">iΔgut</tspan></text>
<g clip-path="url(#c14)">
<rect x="286.5" y="280" width="72" height="53.7" fill="#4a2610"/>
<path d="M280.5 276 C 300.5 278, 322.5 283, 342.5 298" fill="none" stroke="#2a2ae0" stroke-width="1.5"/>
<path d="M280.5 280 C 300.5 282, 320.5 287, 338.5 301" fill="none" stroke="#2a2ae0" stroke-width="1.1"/>
<path d="M280.5 284 C 300.5 286, 322.5 291, 342.5 306" fill="none" stroke="#2a2ae0" stroke-width="1.5"/>
<path d="M280.5 288 C 300.5 290, 320.5 295, 338.5 309" fill="none" stroke="#2a2ae0" stroke-width="1.1"/>
<path d="M294.5 287 C 305.5 288, 318.5 292, 328.5 298" fill="none" stroke="#d03a50" stroke-width="1.4" stroke-dasharray="1 0.8"/>
<path d="M280.5 292 C 300.5 294, 322.5 299, 342.5 314" fill="none" stroke="#2a2ae0" stroke-width="1.5"/>
<path d="M280.5 296 C 300.5 298, 320.5 303, 338.5 317" fill="none" stroke="#2a2ae0" stroke-width="1.1"/>
<path d="M294.5 295 C 305.5 296, 318.5 300, 328.5 306" fill="none" stroke="#d03a50" stroke-width="1.4" stroke-dasharray="1 0.8"/>
<path d="M280.5 300 C 300.5 302, 322.5 307, 342.5 322" fill="none" stroke="#2a2ae0" stroke-width="1.5"/>
<path d="M280.5 304 C 300.5 306, 320.5 311, 338.5 325" fill="none" stroke="#2a2ae0" stroke-width="1.1"/>
<path d="M294.5 303 C 305.5 304, 318.5 308, 328.5 314" fill="none" stroke="#d03a50" stroke-width="1.4" stroke-dasharray="1 0.8"/>
<path d="M280.5 308 C 300.5 310, 322.5 315, 342.5 330" fill="none" stroke="#2a2ae0" stroke-width="1.5"/>
<path d="M280.5 312 C 300.5 314, 320.5 319, 338.5 333" fill="none" stroke="#2a2ae0" stroke-width="1.1"/>
<path d="M280.5 316 C 300.5 318, 322.5 323, 342.5 338" fill="none" stroke="#2a2ae0" stroke-width="1.5"/>
<path d="M280.5 320 C 300.5 322, 320.5 327, 338.5 341" fill="none" stroke="#2a2ae0" stroke-width="1.1"/>
<path d="M294.5 319 C 305.5 320, 318.5 324, 328.5 330" fill="none" stroke="#d03a50" stroke-width="1.4" stroke-dasharray="1 0.8"/>
<path d="M280.5 324 C 300.5 326, 322.5 331, 342.5 346" fill="none" stroke="#2a2ae0" stroke-width="1.5"/>
<path d="M280.5 328 C 300.5 330, 320.5 335, 338.5 349" fill="none" stroke="#2a2ae0" stroke-width="1.1"/>
<path d="M280.5 332 C 300.5 334, 322.5 339, 342.5 354" fill="none" stroke="#2a2ae0" stroke-width="1.5"/>
<path d="M280.5 336 C 300.5 338, 320.5 343, 338.5 357" fill="none" stroke="#2a2ae0" stroke-width="1.1"/>
<path d="M334.5 333.7 L358.5 286 L358.5 333.7 L334.5 333.7 Z" fill="#080403" stroke="none" stroke-width="1"/>
<g filter="url(#soft1)"><circle cx="353.5" cy="288" r="2.4" fill="#30d040"/></g>
<g filter="url(#soft1)"><circle cx="349.5" cy="293" r="2.8" fill="#30d040"/></g>
<g filter="url(#soft1)"><circle cx="343.5" cy="302" r="3.2" fill="#30d040"/></g>
<g filter="url(#soft1)"><circle cx="340.5" cy="307" r="2.8" fill="#30d040"/></g>
<g filter="url(#soft1)"><circle cx="337.5" cy="315" r="2.6" fill="#30d040"/></g>
<g filter="url(#soft1)"><circle cx="333.5" cy="323" r="2.8" fill="#30d040"/></g>
<g filter="url(#soft1)"><circle cx="330.5" cy="329" r="2.4" fill="#30d040"/></g>
<rect x="286.5" y="280" width="72" height="53.7" filter="url(#nz8)"/>
</g>
<line x1="345.5" y1="330.7" x2="355.5" y2="330.7" stroke="#fff" stroke-width="1.3"/>
<g clip-path="url(#c15)">
<rect x="286.5" y="335.1" width="72" height="54.5" fill="#3a120c"/>
<g mask="url(#g2mask)">
<rect x="286.5" y="335.1" width="72" height="54.5" filter="url(#nz9)"/>
</g>
<rect x="286.5" y="335.1" width="72" height="54.5" filter="url(#nz10)"/>
<rect x="286.5" y="335.1" width="72" height="54.5" filter="url(#nz11)"/>
<path d="M286.5 345.1 C 294.5 339.1, 302.5 345.1, 298.5 365.1" fill="none" stroke="#6a1a10" stroke-width="1.2"/>
<g filter="url(#soft1)"><circle cx="352.5" cy="346.1" r="2.4" fill="#30d040"/></g>
<g filter="url(#soft1)"><circle cx="343.5" cy="359.1" r="3.4" fill="#30d040"/></g>
<g filter="url(#soft1)"><circle cx="338.5" cy="366.1" r="2.8" fill="#30d040"/></g>
<g filter="url(#soft1)"><circle cx="332.5" cy="378.1" r="2.4" fill="#30d040"/></g>
<g filter="url(#soft1)"><circle cx="330.5" cy="385.1" r="2.6" fill="#30d040"/></g>
<g filter="url(#soft1)"><circle cx="344.5" cy="341.1" r="1.4" fill="#30d040"/></g>
</g>
<line x1="345.5" y1="386.6" x2="355.5" y2="386.6" stroke="#fff" stroke-width="1.3"/>
<g clip-path="url(#c16)">
<rect x="360.2" y="280" width="35.9" height="25.8" fill="#020802"/>
<circle cx="390.2" cy="285" r="1.6" fill="#20c830"/>
<circle cx="388.2" cy="289" r="1.8" fill="#20c830"/>
<circle cx="383.2" cy="295" r="1.6" fill="#20c830"/>
<circle cx="380.2" cy="300" r="1.8" fill="#20c830"/>
<circle cx="378.2" cy="304" r="1.3" fill="#20c830"/>
<rect x="360.2" y="280" width="35.9" height="25.8" filter="url(#nz12)"/>
</g>
<line x1="389.1" y1="303.3" x2="394.1" y2="303.3" stroke="#fff" stroke-width="1.1"/>
<g clip-path="url(#c17)">
<rect x="360.2" y="307.2" width="35.9" height="26.5" fill="#3c0406"/>
<rect x="360.2" y="307.2" width="35.9" height="26.5" filter="url(#nz13)"/>
<path d="M366.2 315.2 L392.2 325.2" fill="none" stroke="#a01018" stroke-width="1.2"/>
<path d="M362.2 323.2 L382.2 331.2" fill="none" stroke="#901016" stroke-width="1"/>
</g>
<line x1="389.1" y1="331.2" x2="394.1" y2="331.2" stroke="#fff" stroke-width="1.1"/>
<g clip-path="url(#c18)">
<rect x="360.2" y="335.1" width="35.9" height="26.6" fill="#020802"/>
<circle cx="390.2" cy="342.1" r="1.5" fill="#20c830"/>
<circle cx="386.2" cy="347.1" r="1.9" fill="#20c830"/>
<circle cx="384.2" cy="352.1" r="1.5" fill="#20c830"/>
<circle cx="379.2" cy="359.1" r="1.5" fill="#20c830"/>
<circle cx="382.2" cy="362.1" r="1" fill="#20c830"/>
<rect x="360.2" y="335.1" width="35.9" height="26.6" filter="url(#nz14)"/>
</g>
<line x1="389.1" y1="359.2" x2="394.1" y2="359.2" stroke="#fff" stroke-width="1.1"/>
<g clip-path="url(#c19)">
<rect x="360.2" y="363" width="35.9" height="26.6" fill="#2c0204"/>
<rect x="360.2" y="363" width="35.9" height="26.6" filter="url(#nz15)"/>
</g>
<line x1="389.1" y1="387.1" x2="394.1" y2="387.1" stroke="#fff" stroke-width="1.1"/>
<text x="441.6" y="135.2" font-size="17.5" font-weight="bold">h</text>
<text x="472" y="149" font-size="8" font-weight="bold" fill="#000"><tspan font-style="italic">Adar</tspan><tspan font-size="4.8" dy="-3.36">fl/fl</tspan></text>
<text x="517.5" y="149" font-size="8" font-weight="bold" fill="#000"><tspan font-style="italic">Adar</tspan><tspan font-size="4.8" dy="-3.36">iΔgut</tspan></text>
<rect x="461.4" y="150.9" width="86.5" height="17.5" fill="#e2e2e2"/>
<g filter="url(#bandblur)">
<ellipse cx="469.6" cy="160.18" rx="5" ry="1.1" fill="rgb(159,159,159)"/>
<ellipse cx="481.3" cy="160.18" rx="5" ry="1.1" fill="rgb(149,149,149)"/>
<ellipse cx="492.9" cy="160.18" rx="5" ry="1.1" fill="rgb(192,192,192)"/>
<ellipse cx="515.1" cy="160.18" rx="5" ry="1.1" fill="rgb(170,170,170)"/>
<ellipse cx="528" cy="160.18" rx="5" ry="1.1" fill="rgb(213,213,213)"/>
<ellipse cx="539.7" cy="160.18" rx="5" ry="1.1" fill="rgb(209,209,209)"/>
</g>
<rect x="461.4" y="150.9" width="86.5" height="17.5" fill="none" stroke="#555" stroke-width="0.8"/>
<line x1="547.9" y1="159.5" x2="549.9" y2="159.5" stroke="#000" stroke-width="0.5"/>
<text x="550.3" y="161.3" font-size="5" font-weight="bold">110</text>
<text x="459.2" y="162.45" font-size="7.7" font-weight="bold" text-anchor="end">Adar</text>
<rect x="461.4" y="170.7" width="86.5" height="21.1" fill="#e2e2e2"/>
<g filter="url(#bandblur)">
<ellipse cx="469.6" cy="181.25" rx="6.75" ry="2.1" fill="rgb(58,58,58)"/>
<ellipse cx="481.3" cy="181.25" rx="6.75" ry="2.1" fill="rgb(58,58,58)"/>
<ellipse cx="492.9" cy="181.25" rx="6.75" ry="2.1" fill="rgb(58,58,58)"/>
<ellipse cx="515.1" cy="181.25" rx="6.75" ry="2.1" fill="rgb(73,73,73)"/>
<ellipse cx="528" cy="181.25" rx="6.75" ry="2.1" fill="rgb(80,80,80)"/>
<ellipse cx="539.7" cy="181.25" rx="6.75" ry="2.1" fill="rgb(80,80,80)"/>
</g>
<rect x="461.4" y="170.7" width="86.5" height="21.1" fill="none" stroke="#555" stroke-width="0.8"/>
<line x1="547.9" y1="181.5" x2="549.9" y2="181.5" stroke="#000" stroke-width="0.5"/>
<text x="550.3" y="183.3" font-size="5" font-weight="bold">135</text>
<text x="459.2" y="184.05" font-size="7.7" font-weight="bold" text-anchor="end">E-cadherin</text>
<rect x="461.4" y="193" width="86.5" height="19.8" fill="#e2e2e2"/>
<g filter="url(#bandblur)">
<ellipse cx="469.6" cy="201.91" rx="5.75" ry="2" fill="rgb(67,67,67)"/>
<ellipse cx="481.3" cy="201.91" rx="5.75" ry="2" fill="rgb(67,67,67)"/>
<ellipse cx="492.9" cy="201.91" rx="5.75" ry="2" fill="rgb(67,67,67)"/>
<ellipse cx="515.1" cy="201.91" rx="5.75" ry="2" fill="rgb(80,80,80)"/>
<ellipse cx="528" cy="201.91" rx="5.75" ry="2" fill="rgb(50,50,50)"/>
<ellipse cx="539.7" cy="201.91" rx="5.75" ry="2" fill="rgb(67,67,67)"/>
</g>
<rect x="461.4" y="193" width="86.5" height="19.8" fill="none" stroke="#555" stroke-width="0.8"/>
<line x1="547.9" y1="202.5" x2="549.9" y2="202.5" stroke="#000" stroke-width="0.5"/>
<text x="550.3" y="204.3" font-size="5" font-weight="bold">16</text>
<text x="459.2" y="205.7" font-size="7.7" font-weight="bold" text-anchor="end">Lysozyme</text>
<rect x="461.4" y="215.1" width="86.5" height="19.9" fill="#e2e2e2"/>
<g filter="url(#bandblur)">
<ellipse cx="469.6" cy="225.05" rx="5" ry="1.5" fill="rgb(73,73,73)"/>
<ellipse cx="481.3" cy="225.05" rx="5" ry="1.5" fill="rgb(106,106,106)"/>
<ellipse cx="492.9" cy="225.05" rx="5" ry="1.5" fill="rgb(84,84,84)"/>
<ellipse cx="515.1" cy="225.05" rx="5" ry="1.5" fill="rgb(138,138,138)"/>
<ellipse cx="528" cy="225.05" rx="5" ry="1.5" fill="rgb(149,149,149)"/>
<ellipse cx="539.7" cy="225.05" rx="5" ry="1.5" fill="rgb(116,116,116)"/>
</g>
<rect x="461.4" y="215.1" width="86.5" height="19.9" fill="none" stroke="#555" stroke-width="0.8"/>
<line x1="547.9" y1="225.5" x2="549.9" y2="225.5" stroke="#000" stroke-width="0.5"/>
<text x="550.3" y="227.3" font-size="5" font-weight="bold">540</text>
<text x="459.2" y="227.85" font-size="7.7" font-weight="bold" text-anchor="end">Muc2</text>
<rect x="461.4" y="237.3" width="86.5" height="22.2" fill="#e2e2e2"/>
<g filter="url(#bandblur)">
<ellipse cx="469.6" cy="250.18" rx="5" ry="1.5" fill="rgb(127,127,127)"/>
<ellipse cx="481.3" cy="250.18" rx="5" ry="1.5" fill="rgb(116,116,116)"/>
<ellipse cx="492.9" cy="250.18" rx="5" ry="1.5" fill="rgb(127,127,127)"/>
<ellipse cx="515.1" cy="250.18" rx="5" ry="1.5" fill="rgb(63,63,63)"/>
<ellipse cx="528" cy="250.18" rx="5" ry="1.5" fill="rgb(63,63,63)"/>
<ellipse cx="539.7" cy="250.18" rx="5" ry="1.5" fill="rgb(95,95,95)"/>
</g>
<rect x="461.4" y="237.3" width="86.5" height="22.2" fill="none" stroke="#555" stroke-width="0.8"/>
<line x1="547.9" y1="250" x2="549.9" y2="250" stroke="#000" stroke-width="0.5"/>
<text x="550.3" y="251.8" font-size="5" font-weight="bold">15</text>
<text x="459.2" y="251.2" font-size="7.7" font-weight="bold" text-anchor="end">γH2X</text>
<rect x="461.4" y="262.8" width="86.5" height="20.6" fill="#e2e2e2"/>
<g filter="url(#bandblur)">
<ellipse cx="469.6" cy="272.89" rx="5" ry="1.2" fill="rgb(159,159,159)"/>
<ellipse cx="481.3" cy="272.89" rx="5" ry="1.2" fill="rgb(149,149,149)"/>
<ellipse cx="492.9" cy="272.89" rx="5" ry="1.2" fill="rgb(159,159,159)"/>
<ellipse cx="515.1" cy="272.89" rx="5" ry="1.2" fill="rgb(159,159,159)"/>
<ellipse cx="528" cy="272.89" rx="5" ry="1.2" fill="rgb(63,63,63)"/>
<ellipse cx="539.7" cy="272.89" rx="5" ry="1.2" fill="rgb(127,127,127)"/>
</g>
<rect x="461.4" y="262.8" width="86.5" height="20.6" fill="none" stroke="#555" stroke-width="0.8"/>
<line x1="547.9" y1="273.5" x2="549.9" y2="273.5" stroke="#000" stroke-width="0.5"/>
<text x="550.3" y="275.3" font-size="5" font-weight="bold">19</text>
<text x="459.2" y="275.9" font-size="7.7" font-weight="bold" text-anchor="end">IFNγ</text>
<rect x="461.4" y="285.2" width="86.5" height="21.1" fill="#e2e2e2"/>
<g filter="url(#bandblur)">
<ellipse cx="469.6" cy="296.81" rx="5" ry="1.5" fill="rgb(181,181,181)"/>
<ellipse cx="481.3" cy="296.81" rx="5" ry="1.5" fill="rgb(170,170,170)"/>
<ellipse cx="492.9" cy="296.81" rx="5" ry="1.5" fill="rgb(170,170,170)"/>
<ellipse cx="515.1" cy="296.81" rx="5" ry="1.5" fill="rgb(159,159,159)"/>
<ellipse cx="528" cy="296.81" rx="5" ry="1.5" fill="rgb(41,41,41)"/>
<ellipse cx="539.7" cy="296.81" rx="5" ry="1.5" fill="rgb(106,106,106)"/>
</g>
<rect x="461.4" y="285.2" width="86.5" height="21.1" fill="none" stroke="#555" stroke-width="0.8"/>
<line x1="547.9" y1="297" x2="549.9" y2="297" stroke="#000" stroke-width="0.5"/>
<text x="550.3" y="298.8" font-size="5" font-weight="bold">84</text>
<text x="459.2" y="298.55" font-size="7.7" font-weight="bold" text-anchor="end">p-Stat1</text>
<rect x="461.4" y="309" width="86.5" height="21" fill="#e2e2e2"/>
<g filter="url(#bandblur)">
<ellipse cx="469.6" cy="319.5" rx="5.5" ry="1.75" fill="rgb(73,73,73)"/>
<ellipse cx="481.3" cy="319.5" rx="5.5" ry="1.75" fill="rgb(67,67,67)"/>
<ellipse cx="492.9" cy="319.5" rx="5.5" ry="1.75" fill="rgb(67,67,67)"/>
<ellipse cx="515.1" cy="319.5" rx="5.5" ry="1.75" fill="rgb(63,63,63)"/>
<ellipse cx="528" cy="319.5" rx="5.5" ry="1.75" fill="rgb(63,63,63)"/>
<ellipse cx="539.7" cy="319.5" rx="5.5" ry="1.75" fill="rgb(63,63,63)"/>
</g>
<rect x="461.4" y="309" width="86.5" height="21" fill="none" stroke="#555" stroke-width="0.8"/>
<line x1="547.9" y1="320" x2="549.9" y2="320" stroke="#000" stroke-width="0.5"/>
<text x="550.3" y="321.8" font-size="5" font-weight="bold">84</text>
<text x="459.2" y="322.3" font-size="7.7" font-weight="bold" text-anchor="end">Stat1</text>
<rect x="461.4" y="333.6" width="86.5" height="21.7" fill="#e2e2e2"/>
<g filter="url(#bandblur)">
<ellipse cx="469.6" cy="342.93" rx="5" ry="1.2" fill="rgb(202,202,202)"/>
<ellipse cx="481.3" cy="342.93" rx="5" ry="1.2" fill="rgb(159,159,159)"/>
<ellipse cx="492.9" cy="342.93" rx="5" ry="1.2" fill="rgb(181,181,181)"/>
<ellipse cx="515.1" cy="342.93" rx="5" ry="1.2" fill="rgb(52,52,52)"/>
<ellipse cx="528" cy="342.93" rx="5" ry="1.2" fill="rgb(52,52,52)"/>
<ellipse cx="539.7" cy="342.93" rx="5" ry="1.2" fill="rgb(52,52,52)"/>
<ellipse cx="469.6" cy="347.71" rx="5" ry="1.2" fill="rgb(213,213,213)"/>
<ellipse cx="481.3" cy="347.71" rx="5" ry="1.2" fill="rgb(209,209,209)"/>
<ellipse cx="492.9" cy="347.71" rx="5" ry="1.2" fill="rgb(209,209,209)"/>
<ellipse cx="515.1" cy="347.71" rx="5" ry="1.2" fill="rgb(52,52,52)"/>
<ellipse cx="528" cy="347.71" rx="5" ry="1.2" fill="rgb(52,52,52)"/>
<ellipse cx="539.7" cy="347.71" rx="5" ry="1.2" fill="rgb(52,52,52)"/>
</g>
<rect x="461.4" y="333.6" width="86.5" height="21.7" fill="none" stroke="#555" stroke-width="0.8"/>
<line x1="547.9" y1="347.5" x2="549.9" y2="347.5" stroke="#000" stroke-width="0.5"/>
<text x="550.3" y="349.3" font-size="5" font-weight="bold">17</text>
<text x="441" y="341.8" font-size="7.7" font-weight="bold" text-anchor="middle">Cleaved</text>
<text x="459" y="351.6" font-size="7.7" font-weight="bold" text-anchor="end">Caspase3</text>
<rect x="461.4" y="357.7" width="86.5" height="21.5" fill="#e2e2e2"/>
<g filter="url(#bandblur)">
<ellipse cx="469.6" cy="368.45" rx="5.25" ry="1.5" fill="rgb(116,116,116)"/>
<ellipse cx="481.3" cy="368.45" rx="5.25" ry="1.5" fill="rgb(84,84,84)"/>
<ellipse cx="492.9" cy="368.45" rx="5.25" ry="1.5" fill="rgb(84,84,84)"/>
<ellipse cx="515.1" cy="368.45" rx="5.25" ry="1.5" fill="rgb(116,116,116)"/>
<ellipse cx="528" cy="368.45" rx="5.25" ry="1.5" fill="rgb(106,106,106)"/>
<ellipse cx="539.7" cy="368.45" rx="5.25" ry="1.5" fill="rgb(116,116,116)"/>
</g>
<rect x="461.4" y="357.7" width="86.5" height="21.5" fill="none" stroke="#555" stroke-width="0.8"/>
<line x1="547.9" y1="368.3" x2="549.9" y2="368.3" stroke="#000" stroke-width="0.5"/>
<text x="550.3" y="370.1" font-size="5" font-weight="bold">35</text>
<text x="459.2" y="371.25" font-size="7.7" font-weight="bold" text-anchor="end">Caspase3</text>
<rect x="461.4" y="381.5" width="86.5" height="18.5" fill="#e2e2e2"/>
<g filter="url(#bandblur)">
<ellipse cx="469.6" cy="389.82" rx="7.25" ry="2.75" fill="rgb(63,63,63)"/>
<ellipse cx="481.3" cy="389.82" rx="7.25" ry="2.75" fill="rgb(63,63,63)"/>
<ellipse cx="492.9" cy="389.82" rx="7.25" ry="2.75" fill="rgb(63,63,63)"/>
<ellipse cx="515.1" cy="389.82" rx="7.25" ry="2.75" fill="rgb(63,63,63)"/>
<ellipse cx="528" cy="389.82" rx="7.25" ry="2.75" fill="rgb(63,63,63)"/>
<ellipse cx="539.7" cy="389.82" rx="7.25" ry="2.75" fill="rgb(63,63,63)"/>
</g>
<rect x="461.4" y="381.5" width="86.5" height="18.5" fill="none" stroke="#555" stroke-width="0.8"/>
<line x1="547.9" y1="390" x2="549.9" y2="390" stroke="#000" stroke-width="0.5"/>
<text x="550.3" y="391.8" font-size="5" font-weight="bold">42</text>
<text x="459.2" y="393.55" font-size="7.7" font-weight="bold" text-anchor="end">β-Actin</text>
<text x="0.8" y="397" font-size="17.5" font-weight="bold">i</text>
<text x="211.8" y="401.5" font-size="6.7" text-anchor="middle">Up-regulated pathways</text>
<rect x="156.4" y="405.6" width="121.72" height="7" fill="#a50000"/>
<text x="151.4" y="411.2" font-size="6" text-anchor="end">HALLMARK_INTERFERON_ALPHA_RESPONSE</text>
<line x1="152" y1="409.1" x2="156.4" y2="409.1" stroke="#000" stroke-width="0.6"/>
<rect x="156.4" y="416.54" width="113.89" height="7" fill="#ff0000"/>
<text x="151.4" y="422.14" font-size="6" text-anchor="end">HALLMARK_TNFA_SIGNALING_VIA_NFKB</text>
<line x1="152" y1="420.04" x2="156.4" y2="420.04" stroke="#000" stroke-width="0.6"/>
<rect x="156.4" y="427.48" width="103.81" height="7" fill="#f23c3c"/>
<text x="151.4" y="433.08" font-size="6" text-anchor="end">HALLMARK_INFLAMMATORY_RESPONSE</text>
<line x1="152" y1="430.98" x2="156.4" y2="430.98" stroke="#000" stroke-width="0.6"/>
<rect x="156.4" y="438.42" width="103.31" height="7" fill="#f77b7b"/>
<text x="151.4" y="444.02" font-size="6" text-anchor="end">HALLMARK_INTERFERON_GAMMA_RESPONSE</text>
<line x1="152" y1="441.92" x2="156.4" y2="441.92" stroke="#000" stroke-width="0.6"/>
<rect x="156.4" y="449.36" width="86.73" height="7" fill="#f9a3a3"/>
<text x="151.4" y="454.96" font-size="6" text-anchor="end">HALLMARK_IL6_JAK_STAT3_SIGNALING</text>
<line x1="152" y1="452.86" x2="156.4" y2="452.86" stroke="#000" stroke-width="0.6"/>
<rect x="156.4" y="460.3" width="79.18" height="7" fill="#fde0e0"/>
<text x="151.4" y="465.9" font-size="6" text-anchor="end">HALLMARK_APICAL_JUNCTION</text>
<line x1="152" y1="463.8" x2="156.4" y2="463.8" stroke="#000" stroke-width="0.6"/>
<rect x="156.4" y="471.24" width="70.47" height="7" fill="#fde0c4"/>
<text x="151.4" y="476.84" font-size="6" text-anchor="end">HALLMARK_IL2_STAT5_SIGNALING</text>
<line x1="152" y1="474.74" x2="156.4" y2="474.74" stroke="#000" stroke-width="0.6"/>
<rect x="156.4" y="482.18" width="69.21" height="7" fill="#5e5e5e"/>
<text x="151.4" y="487.78" font-size="6" text-anchor="end">HALLMARK_APOTOSIS</text>
<line x1="152" y1="485.68" x2="156.4" y2="485.68" stroke="#000" stroke-width="0.6"/>
<line x1="156.4" y1="404" x2="156.4" y2="492.7" stroke="#000" stroke-width="0.8"/>
<line x1="156.4" y1="492.7" x2="294.2" y2="492.7" stroke="#000" stroke-width="0.8"/>
<line x1="156.4" y1="492.7" x2="156.4" y2="494.5" stroke="#000" stroke-width="0.6"/>
<text x="156.4" y="501.5" font-size="6.4" text-anchor="middle">0.0</text>
<line x1="183.95" y1="492.7" x2="183.95" y2="494.5" stroke="#000" stroke-width="0.6"/>
<text x="183.95" y="501.5" font-size="6.4" text-anchor="middle">0.5</text>
<line x1="211.5" y1="492.7" x2="211.5" y2="494.5" stroke="#000" stroke-width="0.6"/>
<text x="211.5" y="501.5" font-size="6.4" text-anchor="middle">1.0</text>
<line x1="239.05" y1="492.7" x2="239.05" y2="494.5" stroke="#000" stroke-width="0.6"/>
<text x="239.05" y="501.5" font-size="6.4" text-anchor="middle">1.5</text>
<line x1="266.6" y1="492.7" x2="266.6" y2="494.5" stroke="#000" stroke-width="0.6"/>
<text x="266.6" y="501.5" font-size="6.4" text-anchor="middle">2.0</text>
<line x1="294.15" y1="492.7" x2="294.15" y2="494.5" stroke="#000" stroke-width="0.6"/>
<text x="294.15" y="501.5" font-size="6.4" text-anchor="middle">2.5</text>
<text x="225" y="509" font-size="6.6" text-anchor="middle">Normalized enrichment score</text>
<text x="317" y="464.3" font-size="17.5" font-weight="bold">k</text>
<path d="M377.4 470 L368 444.9 A27 27 0 0 0 375 497.5 Z" fill="#4bb8d3" stroke="none" stroke-width="1"/>
<path d="M380.3 470 L372.1 443.8 A27.25 27.25 0 1 1 379.1 496.9 Z" fill="#e44c34" stroke="none" stroke-width="1"/>
<text x="363.5" y="474.1" font-size="7.6" font-weight="bold" text-anchor="middle">1198</text>
<text x="393" y="474.7" font-size="7.4" font-weight="bold" text-anchor="middle" fill="#fff">1550</text>
<line x1="367.7" y1="479.1" x2="367.7" y2="492" stroke="#000" stroke-width="1"/>
<path d="M365.6 489.2 L367.7 493.4 L369.8 489.2" fill="none" stroke="#000" stroke-width="1"/>
<line x1="391.7" y1="464.8" x2="391.7" y2="452" stroke="#fff" stroke-width="1"/>
<path d="M389.6 455 L391.7 450.8 L393.8 455" fill="none" stroke="#fff" stroke-width="1"/>
<rect x="322.4" y="506.3" width="109.1" height="114.3" fill="#fff"/>
<line x1="327.4" y1="506.3" x2="327.4" y2="620.6" stroke="#e6e6e6" stroke-width="0.8"/>
<line x1="339.85" y1="506.3" x2="339.85" y2="620.6" stroke="#e6e6e6" stroke-width="0.5"/>
<line x1="352.3" y1="506.3" x2="352.3" y2="620.6" stroke="#e6e6e6" stroke-width="0.8"/>
<line x1="364.75" y1="506.3" x2="364.75" y2="620.6" stroke="#e6e6e6" stroke-width="0.5"/>
<line x1="377.2" y1="506.3" x2="377.2" y2="620.6" stroke="#e6e6e6" stroke-width="0.8"/>
<line x1="389.65" y1="506.3" x2="389.65" y2="620.6" stroke="#e6e6e6" stroke-width="0.5"/>
<line x1="402.1" y1="506.3" x2="402.1" y2="620.6" stroke="#e6e6e6" stroke-width="0.8"/>
<line x1="414.55" y1="506.3" x2="414.55" y2="620.6" stroke="#e6e6e6" stroke-width="0.5"/>
<line x1="427" y1="506.3" x2="427" y2="620.6" stroke="#e6e6e6" stroke-width="0.8"/>
<line x1="322.4" y1="615.9" x2="431.5" y2="615.9" stroke="#e6e6e6" stroke-width="0.8"/>
<line x1="322.4" y1="603.8" x2="431.5" y2="603.8" stroke="#e6e6e6" stroke-width="0.5"/>
<line x1="322.4" y1="591.7" x2="431.5" y2="591.7" stroke="#e6e6e6" stroke-width="0.8"/>
<line x1="322.4" y1="579.6" x2="431.5" y2="579.6" stroke="#e6e6e6" stroke-width="0.5"/>
<line x1="322.4" y1="567.5" x2="431.5" y2="567.5" stroke="#e6e6e6" stroke-width="0.8"/>
<line x1="322.4" y1="555.4" x2="431.5" y2="555.4" stroke="#e6e6e6" stroke-width="0.5"/>
<line x1="322.4" y1="543.3" x2="431.5" y2="543.3" stroke="#e6e6e6" stroke-width="0.8"/>
<line x1="322.4" y1="531.2" x2="431.5" y2="531.2" stroke="#e6e6e6" stroke-width="0.5"/>
<line x1="322.4" y1="519.1" x2="431.5" y2="519.1" stroke="#e6e6e6" stroke-width="0.8"/>
<line x1="322.4" y1="507" x2="431.5" y2="507" stroke="#e6e6e6" stroke-width="0.5"/>
<path d="M376.9 615.17 L374.83 584.44 L365.75 584.44 L366 596.54 L368.24 605.01 L372.47 612.27 Z" fill="#636363"/>
<path d="M377.5 615.17 L379.57 584.44 L391.64 584.44 L391.39 596.54 L388.65 605.01 L382.93 612.27 Z" fill="#636363"/>
<path d="M376.58 615.9 L377.82 615.9 L377.45 611.06 L376.95 611.06 Z" fill="#636363"/>
<path d="M374.96 584.44 L368.73 584.44 L369.48 567.5 L370.48 543.3 L371.47 529.99 L374.96 529.99 Z" fill="#4db6d6"/>
<path d="M379.44 584.44 L388.16 584.44 L387.66 567.5 L386.41 543.3 L385.17 529.99 L379.44 529.99 Z" fill="#e44c34"/>
<rect x="366" y="527.98" width="8.96" height="1.6" fill="#4db6d6"/>
<rect x="368.24" y="525.56" width="6.72" height="1.6" fill="#4db6d6"/>
<rect x="367.24" y="523.14" width="7.72" height="1.6" fill="#4db6d6"/>
<rect x="369.23" y="520.72" width="5.73" height="1.6" fill="#4db6d6"/>
<rect x="368.73" y="518.3" width="6.23" height="1.6" fill="#4db6d6"/>
<rect x="361.76" y="511.04" width="13.2" height="1.6" fill="#4db6d6"/>
<rect x="379.44" y="527.98" width="11.7" height="1.6" fill="#e44c34"/>
<rect x="379.44" y="525.56" width="9.71" height="1.6" fill="#e44c34"/>
<rect x="379.44" y="523.14" width="10.71" height="1.6" fill="#e44c34"/>
<rect x="379.44" y="520.72" width="8.96" height="1.6" fill="#e44c34"/>
<rect x="379.44" y="518.3" width="10.21" height="1.6" fill="#e44c34"/>
<rect x="379.44" y="511.04" width="16.68" height="1.6" fill="#e44c34"/>
<rect x="362.26" y="614.42" width="32.37" height="2" fill="#636363"/>
<path d="M370.93 606.57h0.8v0.8h-0.8zM367.99 595.94h0.8v0.8h-0.8zM387.1 587.09h0.8v0.8h-0.8zM386.08 606.68h0.8v0.8h-0.8zM388.56 597.52h0.8v0.8h-0.8zM368.73 609.11h0.8v0.8h-0.8zM367.94 598.29h0.8v0.8h-0.8zM371.92 611.62h0.8v0.8h-0.8zM384.58 612.58h0.8v0.8h-0.8zM390.19 592.61h0.8v0.8h-0.8zM391.55 586.73h0.8v0.8h-0.8zM366.35 596.73h0.8v0.8h-0.8zM370.85 610.65h0.8v0.8h-0.8zM387.81 605.99h0.8v0.8h-0.8zM389.13 588.64h0.8v0.8h-0.8zM386.85 602.27h0.8v0.8h-0.8zM367.12 601.64h0.8v0.8h-0.8zM365.92 593.68h0.8v0.8h-0.8zM365.49 584.7h0.8v0.8h-0.8zM368.65 604h0.8v0.8h-0.8zM384.28 607.35h0.8v0.8h-0.8zM382.47 611.64h0.8v0.8h-0.8zM392.32 590.23h0.8v0.8h-0.8zM386.23 612.9h0.8v0.8h-0.8zM366.76 588.13h0.8v0.8h-0.8zM390.49 591.36h0.8v0.8h-0.8zM386.35 603.87h0.8v0.8h-0.8zM385.03 584.48h0.8v0.8h-0.8zM368.56 610.34h0.8v0.8h-0.8zM390.73 585.27h0.8v0.8h-0.8zM368.13 608.94h0.8v0.8h-0.8zM389.59 603.61h0.8v0.8h-0.8zM388.14 587.44h0.8v0.8h-0.8zM390.46 588.22h0.8v0.8h-0.8zM367.93 596.18h0.8v0.8h-0.8zM388.86 586.16h0.8v0.8h-0.8zM365.16 592.56h0.8v0.8h-0.8zM387.03 600.78h0.8v0.8h-0.8zM367.08 597.55h0.8v0.8h-0.8zM385.12 584.8h0.8v0.8h-0.8zM371.53 595.6h0.8v0.8h-0.8zM386.66 595.26h0.8v0.8h-0.8zM391.62 586.84h0.8v0.8h-0.8zM369.03 612.84h0.8v0.8h-0.8zM383.26 612.86h0.8v0.8h-0.8zM384.55 600.23h0.8v0.8h-0.8zM387.76 608.1h0.8v0.8h-0.8zM383.3 605.81h0.8v0.8h-0.8zM369.17 589.87h0.8v0.8h-0.8zM384.03 607.02h0.8v0.8h-0.8zM386.53 608.04h0.8v0.8h-0.8zM387.81 610.66h0.8v0.8h-0.8zM368.8 593.88h0.8v0.8h-0.8zM370.71 588.64h0.8v0.8h-0.8zM365.4 591.93h0.8v0.8h-0.8zM367.59 600.38h0.8v0.8h-0.8zM371.96 612.5h0.8v0.8h-0.8zM365.04 589.2h0.8v0.8h-0.8zM368.05 603.6h0.8v0.8h-0.8zM370.23 603.45h0.8v0.8h-0.8zM387.02 598.43h0.8v0.8h-0.8zM387.25 595.06h0.8v0.8h-0.8zM384.21 601.59h0.8v0.8h-0.8zM384.94 613.34h0.8v0.8h-0.8zM370.71 584.85h0.8v0.8h-0.8zM387.3 600.22h0.8v0.8h-0.8zM364.79 587.64h0.8v0.8h-0.8zM364.72 585.28h0.8v0.8h-0.8zM369.17 612.17h0.8v0.8h-0.8zM371.09 587.35h0.8v0.8h-0.8zM368.06 591.84h0.8v0.8h-0.8zM370.09 606.54h0.8v0.8h-0.8zM370.43 601.46h0.8v0.8h-0.8zM387.99 606.15h0.8v0.8h-0.8zM372.43 611.7h0.8v0.8h-0.8zM371.05 597.95h0.8v0.8h-0.8zM365.57 590.49h0.8v0.8h-0.8zM382.05 613.26h0.8v0.8h-0.8zM386.8 605.6h0.8v0.8h-0.8zM369.21 598.39h0.8v0.8h-0.8zM365.41 590.93h0.8v0.8h-0.8zM370.62 590.97h0.8v0.8h-0.8zM369.24 611.49h0.8v0.8h-0.8zM383.92 610.98h0.8v0.8h-0.8zM385.44 604.34h0.8v0.8h-0.8zM385.61 602.16h0.8v0.8h-0.8zM385.12 607.93h0.8v0.8h-0.8zM369.62 609.77h0.8v0.8h-0.8zM369.24 602.44h0.8v0.8h-0.8zM385.42 612.23h0.8v0.8h-0.8zM389.89 590.75h0.8v0.8h-0.8zM382.19 612.22h0.8v0.8h-0.8zM387.22 595.26h0.8v0.8h-0.8zM384.13 593.32h0.8v0.8h-0.8zM387.01 607.13h0.8v0.8h-0.8zM383.31 611.4h0.8v0.8h-0.8zM368.5 609.69h0.8v0.8h-0.8zM383.82 602.61h0.8v0.8h-0.8zM389.62 593.43h0.8v0.8h-0.8zM365.96 592.17h0.8v0.8h-0.8zM385.28 592.67h0.8v0.8h-0.8zM367.77 590.99h0.8v0.8h-0.8zM384.99 597.09h0.8v0.8h-0.8zM373.35 612.8h0.8v0.8h-0.8zM387.25 610.14h0.8v0.8h-0.8zM392.42 585.82h0.8v0.8h-0.8zM372.94 612.43h0.8v0.8h-0.8zM367.71 591.73h0.8v0.8h-0.8zM365.12 588.23h0.8v0.8h-0.8zM369.43 606.45h0.8v0.8h-0.8zM385.11 600.29h0.8v0.8h-0.8zM388.18 596.07h0.8v0.8h-0.8zM389.65 585.42h0.8v0.8h-0.8zM392.98 585.22h0.8v0.8h-0.8zM391.48 585.4h0.8v0.8h-0.8zM385.54 591.52h0.8v0.8h-0.8zM371.53 601.83h0.8v0.8h-0.8zM390.39 599.02h0.8v0.8h-0.8zM387.96 598.46h0.8v0.8h-0.8zM369.32 588.56h0.8v0.8h-0.8zM388.44 607.7h0.8v0.8h-0.8zM390.61 588.75h0.8v0.8h-0.8zM392.62 588.64h0.8v0.8h-0.8zM386.05 604.56h0.8v0.8h-0.8zM369.21 602.36h0.8v0.8h-0.8zM387.65 606.54h0.8v0.8h-0.8zM386.59 609.31h0.8v0.8h-0.8zM370.47 607.5h0.8v0.8h-0.8zM390.79 592.55h0.8v0.8h-0.8zM367.75 587.87h0.8v0.8h-0.8zM369.48 606.81h0.8v0.8h-0.8zM364.68 590.91h0.8v0.8h-0.8zM364.75 588.68h0.8v0.8h-0.8zM370.18 590.95h0.8v0.8h-0.8zM365.5 593.01h0.8v0.8h-0.8zM371.17 606.07h0.8v0.8h-0.8zM371.72 601.19h0.8v0.8h-0.8zM382.84 605.81h0.8v0.8h-0.8zM383.25 600.34h0.8v0.8h-0.8zM385.49 603.76h0.8v0.8h-0.8zM384.34 611.22h0.8v0.8h-0.8zM366.5 597.67h0.8v0.8h-0.8zM382.66 611.27h0.8v0.8h-0.8zM385.5 587.72h0.8v0.8h-0.8zM391.21 586.15h0.8v0.8h-0.8zM385.05 602.78h0.8v0.8h-0.8zM384.82 593.85h0.8v0.8h-0.8zM391.17 586.05h0.8v0.8h-0.8zM367.91 597.91h0.8v0.8h-0.8zM367.72 598.71h0.8v0.8h-0.8zM367.37 593.78h0.8v0.8h-0.8zM370.38 592.28h0.8v0.8h-0.8zM385.75 587.64h0.8v0.8h-0.8zM364.08 586.42h0.8v0.8h-0.8zM388.42 594.75h0.8v0.8h-0.8zM387.83 594.68h0.8v0.8h-0.8zM370.73 590.76h0.8v0.8h-0.8zM384.63 608.22h0.8v0.8h-0.8zM382.96 605.76h0.8v0.8h-0.8zM385.33 609.52h0.8v0.8h-0.8zM388.38 606.3h0.8v0.8h-0.8zM389.93 586.04h0.8v0.8h-0.8zM388.61 591.07h0.8v0.8h-0.8zM368.82 584.57h0.8v0.8h-0.8zM370.5 610.59h0.8v0.8h-0.8zM369.76 587.06h0.8v0.8h-0.8zM386.67 607.99h0.8v0.8h-0.8zM369.04 602.12h0.8v0.8h-0.8zM387.22 609.23h0.8v0.8h-0.8zM368.5 597.66h0.8v0.8h-0.8zM384.79 607.61h0.8v0.8h-0.8zM388.8 604.97h0.8v0.8h-0.8zM387.81 585.91h0.8v0.8h-0.8zM390.58 587.17h0.8v0.8h-0.8zM393.51 585.11h0.8v0.8h-0.8zM367.73 594.09h0.8v0.8h-0.8zM370.89 592.37h0.8v0.8h-0.8zM368.09 591.53h0.8v0.8h-0.8zM384.98 598.27h0.8v0.8h-0.8zM371.23 590.77h0.8v0.8h-0.8zM384.22 598.95h0.8v0.8h-0.8zM372.05 605.25h0.8v0.8h-0.8zM371.28 590.47h0.8v0.8h-0.8zM368.63 595.52h0.8v0.8h-0.8zM383.66 612.93h0.8v0.8h-0.8zM370.67 588.2h0.8v0.8h-0.8zM366.1 589.11h0.8v0.8h-0.8zM392.77 592h0.8v0.8h-0.8zM368.47 607.52h0.8v0.8h-0.8zM369.48 600.79h0.8v0.8h-0.8zM371.23 610.31h0.8v0.8h-0.8zM368.46 588.93h0.8v0.8h-0.8zM369 599.74h0.8v0.8h-0.8zM385.35 601.22h0.8v0.8h-0.8zM386.55 599.99h0.8v0.8h-0.8zM367.98 600.26h0.8v0.8h-0.8zM386.13 602.82h0.8v0.8h-0.8zM384.51 602.98h0.8v0.8h-0.8zM372.34 613.4h0.8v0.8h-0.8zM386.76 602.75h0.8v0.8h-0.8zM372.25 608.86h0.8v0.8h-0.8zM368.72 601.76h0.8v0.8h-0.8zM370.94 609.44h0.8v0.8h-0.8zM370.96 608.11h0.8v0.8h-0.8zM368.75 604.25h0.8v0.8h-0.8zM382.14 612h0.8v0.8h-0.8zM370.75 599.16h0.8v0.8h-0.8zM371.55 602.18h0.8v0.8h-0.8zM391.22 595.4h0.8v0.8h-0.8zM385.88 596.22h0.8v0.8h-0.8zM391.27 590.6h0.8v0.8h-0.8zM387.23 585.55h0.8v0.8h-0.8zM386.85 605.76h0.8v0.8h-0.8zM372.31 603.47h0.8v0.8h-0.8zM368.84 600.84h0.8v0.8h-0.8zM370.39 613.37h0.8v0.8h-0.8zM371.24 612.93h0.8v0.8h-0.8zM383.64 607.99h0.8v0.8h-0.8zM388.15 585.2h0.8v0.8h-0.8zM390.44 599.58h0.8v0.8h-0.8zM386.22 612.49h0.8v0.8h-0.8zM384.5 595.14h0.8v0.8h-0.8zM383.48 604.96h0.8v0.8h-0.8zM386.89 602.16h0.8v0.8h-0.8zM385.79 590.88h0.8v0.8h-0.8zM391.37 592h0.8v0.8h-0.8zM369.77 597.41h0.8v0.8h-0.8zM369.81 601.44h0.8v0.8h-0.8zM386.3 593.07h0.8v0.8h-0.8zM388.33 608.55h0.8v0.8h-0.8zM370.06 612.24h0.8v0.8h-0.8zM382.35 612.81h0.8v0.8h-0.8zM369.54 593.39h0.8v0.8h-0.8zM366.22 596.04h0.8v0.8h-0.8zM388.85 588.15h0.8v0.8h-0.8zM393.7 588.25h0.8v0.8h-0.8zM371.69 613.43h0.8v0.8h-0.8zM368.43 585.73h0.8v0.8h-0.8zM383.31 604.44h0.8v0.8h-0.8zM367.23 594.63h0.8v0.8h-0.8zM366.43 585.09h0.8v0.8h-0.8zM372.17 613.14h0.8v0.8h-0.8zM385.71 607.42h0.8v0.8h-0.8zM392.03 587.13h0.8v0.8h-0.8zM369.18 597.94h0.8v0.8h-0.8zM366.45 595.41h0.8v0.8h-0.8zM368.99 610.21h0.8v0.8h-0.8zM382.59 610.54h0.8v0.8h-0.8zM367.28 599.97h0.8v0.8h-0.8zM367.39 593.71h0.8v0.8h-0.8zM387.72 591.37h0.8v0.8h-0.8zM369.84 594.28h0.8v0.8h-0.8zM392.52 586.04h0.8v0.8h-0.8zM370.55 607.5h0.8v0.8h-0.8zM369.26 592.34h0.8v0.8h-0.8zM368.22 607.91h0.8v0.8h-0.8zM387.53 593.55h0.8v0.8h-0.8zM370.17 594.65h0.8v0.8h-0.8zM368.9 589.15h0.8v0.8h-0.8zM370.91 600.97h0.8v0.8h-0.8zM368.59 604.09h0.8v0.8h-0.8zM393.14 588.08h0.8v0.8h-0.8zM386.35 597.92h0.8v0.8h-0.8zM385.48 607.93h0.8v0.8h-0.8zM388.37 591.02h0.8v0.8h-0.8zM370.1 596.42h0.8v0.8h-0.8zM364.29 586.35h0.8v0.8h-0.8zM372.08 612.66h0.8v0.8h-0.8zM383.73 598.39h0.8v0.8h-0.8zM388.42 591.84h0.8v0.8h-0.8zM386.19 612.39h0.8v0.8h-0.8zM385.39 591.79h0.8v0.8h-0.8zM386.49 600.58h0.8v0.8h-0.8zM387.37 607.51h0.8v0.8h-0.8zM392.33 593.14h0.8v0.8h-0.8zM393.25 588.04h0.8v0.8h-0.8zM386.65 600.96h0.8v0.8h-0.8zM368.11 584.48h0.8v0.8h-0.8zM384.76 588.72h0.8v0.8h-0.8zM388.75 602.63h0.8v0.8h-0.8zM367.59 604.84h0.8v0.8h-0.8zM371.35 598.39h0.8v0.8h-0.8zM371.1 598.06h0.8v0.8h-0.8zM368.73 612.02h0.8v0.8h-0.8zM392.99 590.45h0.8v0.8h-0.8zM367.98 590.67h0.8v0.8h-0.8zM385.38 606.55h0.8v0.8h-0.8zM369.22 603.66h0.8v0.8h-0.8zM387.15 589.92h0.8v0.8h-0.8zM385.33 606.3h0.8v0.8h-0.8zM372.69 605.92h0.8v0.8h-0.8zM369.14 612.4h0.8v0.8h-0.8zM364.54 590h0.8v0.8h-0.8zM388.56 591.88h0.8v0.8h-0.8zM369.33 589.35h0.8v0.8h-0.8zM370.6 608.58h0.8v0.8h-0.8zM384.7 611.73h0.8v0.8h-0.8zM386.99 594.15h0.8v0.8h-0.8zM385.29 595.12h0.8v0.8h-0.8zM368.97 593.62h0.8v0.8h-0.8zM384.85 603.26h0.8v0.8h-0.8zM389 606.06h0.8v0.8h-0.8zM383.12 608.97h0.8v0.8h-0.8zM386.82 612.38h0.8v0.8h-0.8zM384.69 589.45h0.8v0.8h-0.8zM368.89 596.8h0.8v0.8h-0.8zM383.34 605.35h0.8v0.8h-0.8zM384.18 594.06h0.8v0.8h-0.8zM384.8 599.34h0.8v0.8h-0.8zM366.17 586.74h0.8v0.8h-0.8zM387.78 586.14h0.8v0.8h-0.8zM367.66 605.61h0.8v0.8h-0.8zM386.63 604.26h0.8v0.8h-0.8zM383.31 612.45h0.8v0.8h-0.8zM367.12 585.02h0.8v0.8h-0.8zM365.66 585.69h0.8v0.8h-0.8zM370.1 610.14h0.8v0.8h-0.8zM364.57 589.73h0.8v0.8h-0.8zM367.65 585.18h0.8v0.8h-0.8zM387.5 584.91h0.8v0.8h-0.8zM371 597.62h0.8v0.8h-0.8zM371.37 599.35h0.8v0.8h-0.8zM365.97 587.18h0.8v0.8h-0.8zM388.14 599.91h0.8v0.8h-0.8zM372.25 609.35h0.8v0.8h-0.8zM385.32 595.28h0.8v0.8h-0.8zM371.03 589.59h0.8v0.8h-0.8zM368.08 585.58h0.8v0.8h-0.8zM383.2 610.37h0.8v0.8h-0.8zM372.85 612.72h0.8v0.8h-0.8zM371.21 609.26h0.8v0.8h-0.8zM363.95 586.24h0.8v0.8h-0.8zM387.46 613.26h0.8v0.8h-0.8zM370.48 585.02h0.8v0.8h-0.8zM384.32 597.62h0.8v0.8h-0.8zM384.67 588.89h0.8v0.8h-0.8zM386.88 603.45h0.8v0.8h-0.8zM386.58 600h0.8v0.8h-0.8zM385.04 597.96h0.8v0.8h-0.8zM370.02 596.22h0.8v0.8h-0.8zM368.95 588.54h0.8v0.8h-0.8zM370.95 589.09h0.8v0.8h-0.8zM390.81 585.07h0.8v0.8h-0.8zM372.25 608.31h0.8v0.8h-0.8zM388.26 609.92h0.8v0.8h-0.8zM384.73 593.57h0.8v0.8h-0.8zM386.05 597.79h0.8v0.8h-0.8zM369.89 596.33h0.8v0.8h-0.8zM388.29 598.77h0.8v0.8h-0.8zM390.6 596.32h0.8v0.8h-0.8zM393.27 589.23h0.8v0.8h-0.8zM372.07 604.84h0.8v0.8h-0.8zM388.97 598.94h0.8v0.8h-0.8zM389 606.26h0.8v0.8h-0.8zM385.71 600.33h0.8v0.8h-0.8zM364.42 590.58h0.8v0.8h-0.8zM391.21 598.13h0.8v0.8h-0.8zM384.41 611.98h0.8v0.8h-0.8zM385.02 588.87h0.8v0.8h-0.8zM386.43 588.67h0.8v0.8h-0.8zM373.07 611.31h0.8v0.8h-0.8zM369.57 599.13h0.8v0.8h-0.8zM384.65 588.29h0.8v0.8h-0.8zM385.81 602.68h0.8v0.8h-0.8zM369.17 602.66h0.8v0.8h-0.8zM373.15 609.23h0.8v0.8h-0.8zM372.7 611.61h0.8v0.8h-0.8zM384.62 611.11h0.8v0.8h-0.8zM370.2 607.76h0.8v0.8h-0.8zM391.64 586.72h0.8v0.8h-0.8zM368.16 589.42h0.8v0.8h-0.8zM368.28 593.66h0.8v0.8h-0.8zM367.5 586.54h0.8v0.8h-0.8zM389.74 587.63h0.8v0.8h-0.8zM370.25 610.07h0.8v0.8h-0.8zM369.44 611.02h0.8v0.8h-0.8zM388.99 602.36h0.8v0.8h-0.8zM383.23 608.15h0.8v0.8h-0.8zM386.21 607.57h0.8v0.8h-0.8zM388.95 585.9h0.8v0.8h-0.8zM372.96 610.66h0.8v0.8h-0.8zM385.18 588.01h0.8v0.8h-0.8zM386.99 613.2h0.8v0.8h-0.8zM366.4 595.15h0.8v0.8h-0.8zM389 603.85h0.8v0.8h-0.8zM383.8 606.92h0.8v0.8h-0.8zM372.21 602.1h0.8v0.8h-0.8zM368.58 598.44h0.8v0.8h-0.8zM369.32 611h0.8v0.8h-0.8zM386.96 589.54h0.8v0.8h-0.8zM369.4 584.96h0.8v0.8h-0.8zM369.52 604.81h0.8v0.8h-0.8zM385.17 602.9h0.8v0.8h-0.8zM367.99 588.5h0.8v0.8h-0.8zM389.48 592.53h0.8v0.8h-0.8zM371.11 599.15h0.8v0.8h-0.8zM382.81 610.47h0.8v0.8h-0.8zM392.58 586.95h0.8v0.8h-0.8zM370.87 604.32h0.8v0.8h-0.8zM371.61 606.31h0.8v0.8h-0.8zM371.55 602.82h0.8v0.8h-0.8zM382.9 606.2h0.8v0.8h-0.8zM369.41 585.44h0.8v0.8h-0.8zM369.59 604.66h0.8v0.8h-0.8zM371.73 606.35h0.8v0.8h-0.8zM370.59 594h0.8v0.8h-0.8zM389.38 591.67h0.8v0.8h-0.8zM368.68 601.15h0.8v0.8h-0.8zM371.9 600.63h0.8v0.8h-0.8zM387.32 597.91h0.8v0.8h-0.8zM387.77 596.67h0.8v0.8h-0.8zM384.73 601.29h0.8v0.8h-0.8zM387.48 589.74h0.8v0.8h-0.8zM392.3 584.57h0.8v0.8h-0.8zM384.19 610.15h0.8v0.8h-0.8zM385.03 592.21h0.8v0.8h-0.8zM387.18 598.14h0.8v0.8h-0.8zM386.43 597.82h0.8v0.8h-0.8zM386.69 612.26h0.8v0.8h-0.8zM369.32 607.58h0.8v0.8h-0.8zM390.5 585.15h0.8v0.8h-0.8zM388.48 593.79h0.8v0.8h-0.8zM393.86 584.78h0.8v0.8h-0.8zM386.23 601.2h0.8v0.8h-0.8zM371.12 602.73h0.8v0.8h-0.8zM390.05 593.22h0.8v0.8h-0.8zM370.88 604.07h0.8v0.8h-0.8zM367.88 592.43h0.8v0.8h-0.8zM387.42 599.97h0.8v0.8h-0.8zM369.07 602.86h0.8v0.8h-0.8zM368.23 593.1h0.8v0.8h-0.8zM370.26 608.63h0.8v0.8h-0.8zM387.46 610.07h0.8v0.8h-0.8zM385.53 598.51h0.8v0.8h-0.8zM385.04 599.56h0.8v0.8h-0.8zM367.7 605.9h0.8v0.8h-0.8zM384.4 599.64h0.8v0.8h-0.8zM371.04 602.75h0.8v0.8h-0.8zM366.74 590.82h0.8v0.8h-0.8zM387.82 606.31h0.8v0.8h-0.8zM370.93 592.18h0.8v0.8h-0.8zM370.15 593.05h0.8v0.8h-0.8zM370.36 600.21h0.8v0.8h-0.8zM371.24 591.34h0.8v0.8h-0.8zM369.95 599.22h0.8v0.8h-0.8zM389.18 588.21h0.8v0.8h-0.8zM392.22 593.52h0.8v0.8h-0.8zM387.16 600.99h0.8v0.8h-0.8zM384.87 596.47h0.8v0.8h-0.8zM385.56 612.57h0.8v0.8h-0.8zM370.32 607.34h0.8v0.8h-0.8zM387.27 585.8h0.8v0.8h-0.8zM385.43 595.24h0.8v0.8h-0.8zM370.65 608.88h0.8v0.8h-0.8zM370.79 592.03h0.8v0.8h-0.8zM371.18 603.7h0.8v0.8h-0.8zM369 610.96h0.8v0.8h-0.8zM369.66 609.47h0.8v0.8h-0.8zM389.59 595.21h0.8v0.8h-0.8zM385.61 597.42h0.8v0.8h-0.8zM371.22 593.12h0.8v0.8h-0.8zM385.38 593.66h0.8v0.8h-0.8zM386.69 612.53h0.8v0.8h-0.8zM367.96 602.97h0.8v0.8h-0.8zM389.77 602.2h0.8v0.8h-0.8zM368.59 592.53h0.8v0.8h-0.8zM371.07 606.61h0.8v0.8h-0.8zM385.07 606.8h0.8v0.8h-0.8zM369.3 602h0.8v0.8h-0.8zM384.45 596.13h0.8v0.8h-0.8zM384.69 601.69h0.8v0.8h-0.8zM388.01 600.29h0.8v0.8h-0.8zM391.32 584.85h0.8v0.8h-0.8zM389.62 592.12h0.8v0.8h-0.8zM365.73 590.25h0.8v0.8h-0.8zM370.46 598.96h0.8v0.8h-0.8zM367.73 586.21h0.8v0.8h-0.8zM372.07 609.82h0.8v0.8h-0.8zM384.39 598.2h0.8v0.8h-0.8zM389.53 598.97h0.8v0.8h-0.8zM384.31 591.98h0.8v0.8h-0.8zM373.2 612.81h0.8v0.8h-0.8zM390.38 598.72h0.8v0.8h-0.8zM383.69 612.09h0.8v0.8h-0.8zM389.17 599.75h0.8v0.8h-0.8zM389.91 590.2h0.8v0.8h-0.8zM372.75 610.91h0.8v0.8h-0.8zM371.19 593.71h0.8v0.8h-0.8zM367.17 591.85h0.8v0.8h-0.8zM385.09 611.08h0.8v0.8h-0.8zM367.2 585.54h0.8v0.8h-0.8zM389.52 602.96h0.8v0.8h-0.8zM387.24 601.23h0.8v0.8h-0.8zM385.49 602.13h0.8v0.8h-0.8zM387.66 586.24h0.8v0.8h-0.8zM390.93 592.05h0.8v0.8h-0.8zM369.07 591.76h0.8v0.8h-0.8zM391.78 594.59h0.8v0.8h-0.8zM367.87 599.63h0.8v0.8h-0.8zM365.44 596.06h0.8v0.8h-0.8zM347.85 615.41h0.8v0.8h-0.8zM368.82 615.51h0.8v0.8h-0.8zM385.55 614.79h0.8v0.8h-0.8zM372.98 615.38h0.8v0.8h-0.8zM371.06 615.2h0.8v0.8h-0.8zM368.31 614.91h0.8v0.8h-0.8zM367.52 614.91h0.8v0.8h-0.8zM369.38 614.81h0.8v0.8h-0.8zM369.2 615.26h0.8v0.8h-0.8zM353.42 614.84h0.8v0.8h-0.8zM392.49 615.86h0.8v0.8h-0.8zM370.56 614.88h0.8v0.8h-0.8zM382.46 615.41h0.8v0.8h-0.8zM374.59 615.29h0.8v0.8h-0.8zM379.6 615.16h0.8v0.8h-0.8zM374.36 615.83h0.8v0.8h-0.8zM379.68 615.7h0.8v0.8h-0.8zM346.2 615.21h0.8v0.8h-0.8zM387.39 614.74h0.8v0.8h-0.8zM350.89 614.91h0.8v0.8h-0.8zM369.49 615.28h0.8v0.8h-0.8zM352.04 615.77h0.8v0.8h-0.8zM358.18 614.79h0.8v0.8h-0.8zM379.02 615.74h0.8v0.8h-0.8zM371.11 614.7h0.8v0.8h-0.8zM354.64 615.06h0.8v0.8h-0.8zM383.84 615.3h0.8v0.8h-0.8zM383.81 615.28h0.8v0.8h-0.8zM346.64 615.23h0.8v0.8h-0.8zM381.6 615.48h0.8v0.8h-0.8zM379.22 615.64h0.8v0.8h-0.8zM352.38 615.66h0.8v0.8h-0.8zM357.7 615.43h0.8v0.8h-0.8zM398.03 614.84h0.8v0.8h-0.8zM365.62 615.01h0.8v0.8h-0.8zM350.55 615.22h0.8v0.8h-0.8zM393 614.89h0.8v0.8h-0.8zM357.74 615.02h0.8v0.8h-0.8zM344.93 615.12h0.8v0.8h-0.8zM395.63 615.61h0.8v0.8h-0.8zM353.88 615.56h0.8v0.8h-0.8zM381.28 614.94h0.8v0.8h-0.8zM366.24 615.55h0.8v0.8h-0.8zM366.28 615.64h0.8v0.8h-0.8zM357.28 615.14h0.8v0.8h-0.8zM393.46 615.35h0.8v0.8h-0.8zM360.46 615.25h0.8v0.8h-0.8zM369.43 615.2h0.8v0.8h-0.8zM396.38 615.26h0.8v0.8h-0.8zM372.91 615.65h0.8v0.8h-0.8zM328.64 602.59h0.8v0.8h-0.8zM349.81 601.38h0.8v0.8h-0.8zM403.34 601.38h0.8v0.8h-0.8zM399.61 607.43h0.8v0.8h-0.8z" fill="#636363"/>
<path d="M370.13 564.99h0.8v0.8h-0.8zM367.33 560.96h0.8v0.8h-0.8zM367.88 544.62h0.8v0.8h-0.8zM370.21 541.1h0.8v0.8h-0.8zM368.69 542.85h0.8v0.8h-0.8zM369.4 577.64h0.8v0.8h-0.8zM367.86 566.62h0.8v0.8h-0.8zM370.12 572h0.8v0.8h-0.8zM368.76 541.07h0.8v0.8h-0.8zM366.01 580.65h0.8v0.8h-0.8zM370.73 553.49h0.8v0.8h-0.8zM367.65 559.82h0.8v0.8h-0.8zM370.84 528.88h0.8v0.8h-0.8zM366.36 584.39h0.8v0.8h-0.8zM366.86 563.88h0.8v0.8h-0.8zM366.69 568.96h0.8v0.8h-0.8zM368.23 573.43h0.8v0.8h-0.8zM367.76 558.1h0.8v0.8h-0.8zM367.37 543.71h0.8v0.8h-0.8zM368.03 566.08h0.8v0.8h-0.8zM370.74 554.64h0.8v0.8h-0.8zM368.71 580.31h0.8v0.8h-0.8zM367.99 571.43h0.8v0.8h-0.8zM370.27 547.73h0.8v0.8h-0.8zM367.27 543.42h0.8v0.8h-0.8zM368.88 566.97h0.8v0.8h-0.8zM368.98 584.19h0.8v0.8h-0.8zM370.43 565.89h0.8v0.8h-0.8zM366.88 550.44h0.8v0.8h-0.8zM367.36 575.25h0.8v0.8h-0.8zM369.28 556.5h0.8v0.8h-0.8zM370.68 557.46h0.8v0.8h-0.8zM368.84 558.83h0.8v0.8h-0.8zM367.96 548.15h0.8v0.8h-0.8zM366.69 578.37h0.8v0.8h-0.8zM370.16 547.38h0.8v0.8h-0.8zM369.78 578.63h0.8v0.8h-0.8zM367.02 565.92h0.8v0.8h-0.8zM368.05 581.69h0.8v0.8h-0.8zM366.15 577.58h0.8v0.8h-0.8zM369.76 544.17h0.8v0.8h-0.8zM366.51 559.67h0.8v0.8h-0.8zM369.04 567.53h0.8v0.8h-0.8zM368.17 531.3h0.8v0.8h-0.8zM368.45 545.36h0.8v0.8h-0.8zM366.52 583.59h0.8v0.8h-0.8zM367.66 560.23h0.8v0.8h-0.8zM368.27 565.03h0.8v0.8h-0.8zM368.59 561.61h0.8v0.8h-0.8zM367.19 549.94h0.8v0.8h-0.8zM367.7 567.58h0.8v0.8h-0.8zM366.64 580.1h0.8v0.8h-0.8zM369.42 554.12h0.8v0.8h-0.8zM370.24 539.55h0.8v0.8h-0.8zM369.29 533.93h0.8v0.8h-0.8zM368.92 568.2h0.8v0.8h-0.8zM370.42 542.64h0.8v0.8h-0.8zM369.76 563.69h0.8v0.8h-0.8zM369.27 562.92h0.8v0.8h-0.8zM366.59 559.08h0.8v0.8h-0.8zM367.32 556.04h0.8v0.8h-0.8zM368.98 533.15h0.8v0.8h-0.8zM366.6 584.02h0.8v0.8h-0.8zM370.42 559.91h0.8v0.8h-0.8zM368.79 548.78h0.8v0.8h-0.8zM370.23 538.51h0.8v0.8h-0.8zM369.26 534.94h0.8v0.8h-0.8zM368.02 543.01h0.8v0.8h-0.8zM367.74 543.13h0.8v0.8h-0.8zM371.14 528.86h0.8v0.8h-0.8zM367.76 545.98h0.8v0.8h-0.8zM369.6 540.87h0.8v0.8h-0.8zM366.4 575.29h0.8v0.8h-0.8zM367.23 544.67h0.8v0.8h-0.8zM370.33 533.95h0.8v0.8h-0.8zM367.97 529.26h0.8v0.8h-0.8zM369.95 549.65h0.8v0.8h-0.8zM370.51 546.87h0.8v0.8h-0.8zM369.71 563.97h0.8v0.8h-0.8zM370.34 555.67h0.8v0.8h-0.8zM369.17 566.34h0.8v0.8h-0.8zM367.15 551.1h0.8v0.8h-0.8zM367.76 549.01h0.8v0.8h-0.8zM368.2 574.5h0.8v0.8h-0.8zM369.55 553.01h0.8v0.8h-0.8zM369.67 529.69h0.8v0.8h-0.8zM369.46 571.05h0.8v0.8h-0.8zM365.99 582.48h0.8v0.8h-0.8zM366.34 580.31h0.8v0.8h-0.8zM368.14 574.47h0.8v0.8h-0.8zM369.74 566.26h0.8v0.8h-0.8zM366.98 564.15h0.8v0.8h-0.8zM368.56 557.92h0.8v0.8h-0.8zM370.74 554.5h0.8v0.8h-0.8zM367.99 554.09h0.8v0.8h-0.8zM367.98 566.69h0.8v0.8h-0.8zM369.38 553.29h0.8v0.8h-0.8zM369.78 540.77h0.8v0.8h-0.8zM368.6 563.48h0.8v0.8h-0.8zM369.35 547.15h0.8v0.8h-0.8zM368.98 558.64h0.8v0.8h-0.8zM367.04 583.2h0.8v0.8h-0.8zM370.82 541.4h0.8v0.8h-0.8zM369.76 533.32h0.8v0.8h-0.8zM370.5 564.12h0.8v0.8h-0.8zM368.42 530.83h0.8v0.8h-0.8zM370.41 561.77h0.8v0.8h-0.8zM369.32 546.07h0.8v0.8h-0.8zM370.03 570.53h0.8v0.8h-0.8zM366.61 560.27h0.8v0.8h-0.8zM370.69 532.02h0.8v0.8h-0.8zM370.01 533.92h0.8v0.8h-0.8zM370.52 561.44h0.8v0.8h-0.8zM367.69 571.41h0.8v0.8h-0.8zM370.55 530.52h0.8v0.8h-0.8zM369.95 531.52h0.8v0.8h-0.8zM369.87 545.81h0.8v0.8h-0.8zM368.6 575.59h0.8v0.8h-0.8zM370.11 543.45h0.8v0.8h-0.8zM369.05 575.69h0.8v0.8h-0.8zM366.25 576.79h0.8v0.8h-0.8zM368.6 529.9h0.8v0.8h-0.8zM367.36 554.99h0.8v0.8h-0.8zM366.89 559.81h0.8v0.8h-0.8zM369.5 542.63h0.8v0.8h-0.8zM368.69 570.2h0.8v0.8h-0.8zM370.46 552.55h0.8v0.8h-0.8zM370.1 563.42h0.8v0.8h-0.8zM368.74 535.87h0.8v0.8h-0.8zM367.11 564.29h0.8v0.8h-0.8zM366.67 570.01h0.8v0.8h-0.8zM368.44 545.53h0.8v0.8h-0.8zM367.82 548.52h0.8v0.8h-0.8zM368.68 575.88h0.8v0.8h-0.8zM365.59 580.24h0.8v0.8h-0.8zM367.86 566.51h0.8v0.8h-0.8zM368.33 540.04h0.8v0.8h-0.8zM367.18 573.69h0.8v0.8h-0.8zM367.08 562.27h0.8v0.8h-0.8zM370.08 548.17h0.8v0.8h-0.8zM366.48 571.45h0.8v0.8h-0.8zM369.3 569.77h0.8v0.8h-0.8zM370.87 534.23h0.8v0.8h-0.8zM369.06 542.95h0.8v0.8h-0.8zM371.33 531.18h0.8v0.8h-0.8zM369.7 535.61h0.8v0.8h-0.8zM367.56 537.23h0.8v0.8h-0.8zM369.09 538.36h0.8v0.8h-0.8zM370.2 532.22h0.8v0.8h-0.8zM367.31 564.58h0.8v0.8h-0.8zM366.06 577.09h0.8v0.8h-0.8zM365.8 574.82h0.8v0.8h-0.8zM368.48 541.63h0.8v0.8h-0.8zM369.33 569.91h0.8v0.8h-0.8zM368.63 546.8h0.8v0.8h-0.8zM369.27 540.84h0.8v0.8h-0.8zM368.7 573.65h0.8v0.8h-0.8zM368.94 529.44h0.8v0.8h-0.8zM369.14 535.95h0.8v0.8h-0.8zM370.14 560.35h0.8v0.8h-0.8zM368.81 562.65h0.8v0.8h-0.8zM367.66 567.67h0.8v0.8h-0.8zM367.35 551.84h0.8v0.8h-0.8zM369.86 558.6h0.8v0.8h-0.8zM369.24 546.5h0.8v0.8h-0.8zM370.02 543.75h0.8v0.8h-0.8zM369.03 580.64h0.8v0.8h-0.8zM369.64 554.38h0.8v0.8h-0.8zM369.93 548.86h0.8v0.8h-0.8zM367.33 546.63h0.8v0.8h-0.8zM371.08 536.31h0.8v0.8h-0.8zM367.48 580.25h0.8v0.8h-0.8zM367.4 576.23h0.8v0.8h-0.8zM370.53 548.03h0.8v0.8h-0.8zM368.22 564.69h0.8v0.8h-0.8zM368.32 579.65h0.8v0.8h-0.8zM370.64 556.43h0.8v0.8h-0.8zM368.68 578.64h0.8v0.8h-0.8zM366.69 563.18h0.8v0.8h-0.8zM370.72 541h0.8v0.8h-0.8zM369.82 579.53h0.8v0.8h-0.8zM368.38 544.29h0.8v0.8h-0.8zM370.54 537.25h0.8v0.8h-0.8zM367.18 574.2h0.8v0.8h-0.8zM367.88 580.41h0.8v0.8h-0.8zM370.39 547.74h0.8v0.8h-0.8zM368.18 571.89h0.8v0.8h-0.8zM367.72 561.93h0.8v0.8h-0.8zM370.41 535.23h0.8v0.8h-0.8zM367.5 567.71h0.8v0.8h-0.8zM368.84 535.47h0.8v0.8h-0.8zM367.44 575.56h0.8v0.8h-0.8zM367.4 559.46h0.8v0.8h-0.8zM369.87 571.28h0.8v0.8h-0.8zM369.66 574.79h0.8v0.8h-0.8zM370.21 531.23h0.8v0.8h-0.8zM366.86 572.67h0.8v0.8h-0.8zM370.26 532.3h0.8v0.8h-0.8zM368.51 560.07h0.8v0.8h-0.8zM368.55 571.28h0.8v0.8h-0.8zM351.06 519.1h0.8v0.8h-0.8zM350.56 567.5h0.8v0.8h-0.8zM359.77 528.78h0.8v0.8h-0.8zM357.28 511.84h0.8v0.8h-0.8zM361.01 519.1h0.8v0.8h-0.8z" fill="#4db6d6"/>
<path d="M387.95 536.94h0.8v0.8h-0.8zM386.18 550.74h0.8v0.8h-0.8zM389.8 547.63h0.8v0.8h-0.8zM386.01 555.08h0.8v0.8h-0.8zM390.3 558.36h0.8v0.8h-0.8zM389.59 534.74h0.8v0.8h-0.8zM388.77 582.95h0.8v0.8h-0.8zM387.6 538.12h0.8v0.8h-0.8zM385.64 536.2h0.8v0.8h-0.8zM389.17 580.18h0.8v0.8h-0.8zM385.81 539.3h0.8v0.8h-0.8zM389.29 566.43h0.8v0.8h-0.8zM386.37 533.91h0.8v0.8h-0.8zM386.97 533.53h0.8v0.8h-0.8zM391.74 580.18h0.8v0.8h-0.8zM386.76 539.88h0.8v0.8h-0.8zM385.51 552.57h0.8v0.8h-0.8zM386.01 564.47h0.8v0.8h-0.8zM386.86 574.45h0.8v0.8h-0.8zM388.23 536.47h0.8v0.8h-0.8zM387.77 549.88h0.8v0.8h-0.8zM392.11 584.06h0.8v0.8h-0.8zM390.62 560.99h0.8v0.8h-0.8zM388.46 581.65h0.8v0.8h-0.8zM386.62 537.46h0.8v0.8h-0.8zM385.6 548.28h0.8v0.8h-0.8zM386.5 540.9h0.8v0.8h-0.8zM386.99 542.86h0.8v0.8h-0.8zM386.21 562.76h0.8v0.8h-0.8zM387.96 551.89h0.8v0.8h-0.8zM386.01 556.11h0.8v0.8h-0.8zM386.32 567.39h0.8v0.8h-0.8zM388.4 535.81h0.8v0.8h-0.8zM387.13 553.99h0.8v0.8h-0.8zM387.3 570.7h0.8v0.8h-0.8zM387.12 544.18h0.8v0.8h-0.8zM387.71 531.34h0.8v0.8h-0.8zM389.88 568.27h0.8v0.8h-0.8zM385.41 531.64h0.8v0.8h-0.8zM388.6 546.33h0.8v0.8h-0.8zM386.7 553.05h0.8v0.8h-0.8zM387.97 556.27h0.8v0.8h-0.8zM387.19 543.37h0.8v0.8h-0.8zM388.66 539.53h0.8v0.8h-0.8zM387.14 555.87h0.8v0.8h-0.8zM387.82 561.88h0.8v0.8h-0.8zM385.02 531.04h0.8v0.8h-0.8zM387.99 538.62h0.8v0.8h-0.8zM386.49 566.87h0.8v0.8h-0.8zM386.6 533.43h0.8v0.8h-0.8zM389.57 560.91h0.8v0.8h-0.8zM391.58 567.91h0.8v0.8h-0.8zM388.74 559.17h0.8v0.8h-0.8zM387.87 550.47h0.8v0.8h-0.8zM387.7 536.16h0.8v0.8h-0.8zM386.2 544.61h0.8v0.8h-0.8zM385.77 560.09h0.8v0.8h-0.8zM389.65 535.65h0.8v0.8h-0.8zM386.7 546.67h0.8v0.8h-0.8zM391.45 576.8h0.8v0.8h-0.8zM385.32 544.2h0.8v0.8h-0.8zM387.85 561.55h0.8v0.8h-0.8zM389.27 539.7h0.8v0.8h-0.8zM385.75 560.48h0.8v0.8h-0.8zM386.95 542.42h0.8v0.8h-0.8zM387.04 536.1h0.8v0.8h-0.8zM390.81 570.84h0.8v0.8h-0.8zM388.51 546.42h0.8v0.8h-0.8zM389.65 578.16h0.8v0.8h-0.8zM389.19 533.88h0.8v0.8h-0.8zM388.31 533.32h0.8v0.8h-0.8zM385.98 565.11h0.8v0.8h-0.8zM386.08 564.23h0.8v0.8h-0.8zM386.26 537.49h0.8v0.8h-0.8zM385.89 566.11h0.8v0.8h-0.8zM389.74 563.36h0.8v0.8h-0.8zM389.07 534.41h0.8v0.8h-0.8zM384.72 532.01h0.8v0.8h-0.8zM387.87 570.58h0.8v0.8h-0.8zM388.18 557.98h0.8v0.8h-0.8zM387.82 562.28h0.8v0.8h-0.8zM389.19 583.38h0.8v0.8h-0.8zM387.3 530.55h0.8v0.8h-0.8zM386.5 547.35h0.8v0.8h-0.8zM388.4 560.23h0.8v0.8h-0.8zM391.53 580.65h0.8v0.8h-0.8zM386.14 570.68h0.8v0.8h-0.8zM386.78 545.97h0.8v0.8h-0.8zM385.21 540.51h0.8v0.8h-0.8zM386.5 571.83h0.8v0.8h-0.8zM390.15 578.24h0.8v0.8h-0.8zM387.11 545.32h0.8v0.8h-0.8zM389 537.85h0.8v0.8h-0.8zM391.69 574.9h0.8v0.8h-0.8zM388.92 564.47h0.8v0.8h-0.8zM389.2 534.41h0.8v0.8h-0.8zM386.66 574.49h0.8v0.8h-0.8zM386.63 537.83h0.8v0.8h-0.8zM391.99 579.23h0.8v0.8h-0.8zM387.25 558.3h0.8v0.8h-0.8zM387.19 558.62h0.8v0.8h-0.8zM386.71 578.92h0.8v0.8h-0.8zM386.74 578.66h0.8v0.8h-0.8zM386 535.87h0.8v0.8h-0.8zM389.51 566.83h0.8v0.8h-0.8zM391.84 574.8h0.8v0.8h-0.8zM389.1 543.63h0.8v0.8h-0.8zM389.26 555.2h0.8v0.8h-0.8zM385.8 536.4h0.8v0.8h-0.8zM386.96 549.1h0.8v0.8h-0.8zM385.85 532.76h0.8v0.8h-0.8zM386.11 547.3h0.8v0.8h-0.8zM386.37 544.45h0.8v0.8h-0.8zM387.72 568.79h0.8v0.8h-0.8zM391.32 563.71h0.8v0.8h-0.8zM388.78 563.82h0.8v0.8h-0.8zM389.08 565.71h0.8v0.8h-0.8zM390.19 552.85h0.8v0.8h-0.8zM388.31 578.93h0.8v0.8h-0.8zM388.69 544.52h0.8v0.8h-0.8zM391.33 569.95h0.8v0.8h-0.8zM388.64 571.86h0.8v0.8h-0.8zM388.68 544.86h0.8v0.8h-0.8zM388.52 530.53h0.8v0.8h-0.8zM386.22 557.93h0.8v0.8h-0.8zM386.53 556.74h0.8v0.8h-0.8zM385.48 547.51h0.8v0.8h-0.8zM390.03 581.03h0.8v0.8h-0.8zM387.92 584.28h0.8v0.8h-0.8zM387.24 563.86h0.8v0.8h-0.8zM388.91 550.92h0.8v0.8h-0.8zM386.09 529.24h0.8v0.8h-0.8zM387.44 529.55h0.8v0.8h-0.8zM389.27 555.73h0.8v0.8h-0.8zM386.9 535.67h0.8v0.8h-0.8zM389.19 544.92h0.8v0.8h-0.8zM391.67 571.47h0.8v0.8h-0.8zM389.61 577.53h0.8v0.8h-0.8zM389.25 540.97h0.8v0.8h-0.8zM388.13 555.76h0.8v0.8h-0.8zM387.84 570.03h0.8v0.8h-0.8zM388.41 572.81h0.8v0.8h-0.8zM389.66 543.24h0.8v0.8h-0.8zM388.79 577.84h0.8v0.8h-0.8zM389.75 540.55h0.8v0.8h-0.8zM385.93 544.25h0.8v0.8h-0.8zM386.82 556.28h0.8v0.8h-0.8zM388.28 566.13h0.8v0.8h-0.8zM386.53 530.67h0.8v0.8h-0.8zM391.49 583.85h0.8v0.8h-0.8zM386.94 553.55h0.8v0.8h-0.8zM385.42 531.47h0.8v0.8h-0.8zM384.97 537.87h0.8v0.8h-0.8zM385.95 543.29h0.8v0.8h-0.8zM388.04 540.56h0.8v0.8h-0.8zM386.42 580.27h0.8v0.8h-0.8zM389.51 561.66h0.8v0.8h-0.8zM388.04 555.42h0.8v0.8h-0.8zM390.87 579.31h0.8v0.8h-0.8zM387.96 548.92h0.8v0.8h-0.8zM389.97 583h0.8v0.8h-0.8zM389.75 553.25h0.8v0.8h-0.8zM388.53 551.41h0.8v0.8h-0.8zM388.58 548.45h0.8v0.8h-0.8zM388.81 542.18h0.8v0.8h-0.8zM389.24 556.72h0.8v0.8h-0.8zM388.15 575.13h0.8v0.8h-0.8zM391.22 579.59h0.8v0.8h-0.8zM389.06 570.46h0.8v0.8h-0.8zM389.25 567.02h0.8v0.8h-0.8zM389.75 582.81h0.8v0.8h-0.8zM391.76 576.47h0.8v0.8h-0.8zM388.95 579.15h0.8v0.8h-0.8zM388.7 568.08h0.8v0.8h-0.8zM387.11 555.84h0.8v0.8h-0.8zM387.36 564.53h0.8v0.8h-0.8zM391.76 571.95h0.8v0.8h-0.8zM390.75 565.36h0.8v0.8h-0.8zM388.61 557.93h0.8v0.8h-0.8zM386.48 580.94h0.8v0.8h-0.8zM388.62 553.55h0.8v0.8h-0.8zM389.26 568.75h0.8v0.8h-0.8zM388.69 544.39h0.8v0.8h-0.8zM387.82 563.47h0.8v0.8h-0.8zM388.15 544.87h0.8v0.8h-0.8zM386.99 537.88h0.8v0.8h-0.8zM389.77 578.91h0.8v0.8h-0.8zM388.05 575.98h0.8v0.8h-0.8zM392.32 580.9h0.8v0.8h-0.8zM389.66 556.48h0.8v0.8h-0.8zM391.43 570.04h0.8v0.8h-0.8zM385.18 545.25h0.8v0.8h-0.8zM389.18 583.42h0.8v0.8h-0.8zM389.55 566.83h0.8v0.8h-0.8zM387.05 538.24h0.8v0.8h-0.8zM389.71 578.35h0.8v0.8h-0.8zM391.11 577.56h0.8v0.8h-0.8zM386.92 574.67h0.8v0.8h-0.8zM389.13 550.24h0.8v0.8h-0.8zM386.39 551.95h0.8v0.8h-0.8zM388.81 573.94h0.8v0.8h-0.8zM389.65 537.74h0.8v0.8h-0.8zM390.46 557.3h0.8v0.8h-0.8zM386.86 547.22h0.8v0.8h-0.8zM389.51 567.4h0.8v0.8h-0.8zM386.77 540.8h0.8v0.8h-0.8zM388.79 552.4h0.8v0.8h-0.8zM386.95 542.7h0.8v0.8h-0.8zM387.4 564.27h0.8v0.8h-0.8zM389.21 533.91h0.8v0.8h-0.8zM387.22 543.64h0.8v0.8h-0.8zM390.72 564.37h0.8v0.8h-0.8zM386.06 558.9h0.8v0.8h-0.8zM390.52 583.63h0.8v0.8h-0.8zM390.27 559.27h0.8v0.8h-0.8zM387.4 555.21h0.8v0.8h-0.8zM386.46 532.97h0.8v0.8h-0.8zM385.87 542.84h0.8v0.8h-0.8zM384.99 533.82h0.8v0.8h-0.8zM388.12 581.79h0.8v0.8h-0.8zM388.16 559.34h0.8v0.8h-0.8zM388.29 533.35h0.8v0.8h-0.8zM391.54 584.2h0.8v0.8h-0.8zM385.85 536.59h0.8v0.8h-0.8zM387.79 552.15h0.8v0.8h-0.8zM387.47 533.39h0.8v0.8h-0.8zM390.66 571.52h0.8v0.8h-0.8zM387.72 562.26h0.8v0.8h-0.8zM388.14 539.45h0.8v0.8h-0.8zM389.22 556.86h0.8v0.8h-0.8zM387.34 536.99h0.8v0.8h-0.8zM386.04 540.52h0.8v0.8h-0.8zM384.89 528.86h0.8v0.8h-0.8zM388.87 544.55h0.8v0.8h-0.8zM389.21 559.02h0.8v0.8h-0.8zM391.08 577.04h0.8v0.8h-0.8zM386.83 534.58h0.8v0.8h-0.8zM388.37 563.39h0.8v0.8h-0.8zM388.84 571.27h0.8v0.8h-0.8zM385.14 534.85h0.8v0.8h-0.8zM388.19 571.12h0.8v0.8h-0.8zM389.13 583.16h0.8v0.8h-0.8zM389.61 538.28h0.8v0.8h-0.8zM388.87 547.09h0.8v0.8h-0.8zM387.08 581.61h0.8v0.8h-0.8zM388.09 556.72h0.8v0.8h-0.8zM387.02 549.38h0.8v0.8h-0.8zM385.99 551.16h0.8v0.8h-0.8zM388.64 550.67h0.8v0.8h-0.8zM391.02 564.52h0.8v0.8h-0.8zM388.08 546.56h0.8v0.8h-0.8zM388.33 536.28h0.8v0.8h-0.8zM389.15 536.09h0.8v0.8h-0.8zM388.59 557.98h0.8v0.8h-0.8zM388.76 563.5h0.8v0.8h-0.8zM386.14 559.77h0.8v0.8h-0.8zM386.12 530.59h0.8v0.8h-0.8zM390.76 566.52h0.8v0.8h-0.8zM389.27 566.94h0.8v0.8h-0.8zM388.39 576.76h0.8v0.8h-0.8zM395.88 543.3h0.8v0.8h-0.8zM393.38 560.24h0.8v0.8h-0.8zM397.12 579.6h0.8v0.8h-0.8zM394.63 531.2h0.8v0.8h-0.8z" fill="#e44c34"/>
<line x1="374.71" y1="506.3" x2="374.71" y2="620.6" stroke="#999" stroke-width="0.4"/>
<line x1="379.69" y1="506.3" x2="379.69" y2="620.6" stroke="#999" stroke-width="0.4"/>
<line x1="322.4" y1="584.44" x2="431.5" y2="584.44" stroke="#777" stroke-width="0.6" stroke-dasharray="3 1.5"/>
<rect x="322.4" y="506.3" width="109.1" height="114.3" fill="none" stroke="#333" stroke-width="0.9"/>
<line x1="320.9" y1="615.9" x2="322.4" y2="615.9" stroke="#000" stroke-width="0.6"/>
<text x="319.9" y="617.7" font-size="5" text-anchor="end">0</text>
<line x1="320.9" y1="591.7" x2="322.4" y2="591.7" stroke="#000" stroke-width="0.6"/>
<text x="319.9" y="593.5" font-size="5" text-anchor="end">1</text>
<line x1="320.9" y1="567.5" x2="322.4" y2="567.5" stroke="#000" stroke-width="0.6"/>
<text x="319.9" y="569.3" font-size="5" text-anchor="end">2</text>
<line x1="320.9" y1="543.3" x2="322.4" y2="543.3" stroke="#000" stroke-width="0.6"/>
<text x="319.9" y="545.1" font-size="5" text-anchor="end">3</text>
<line x1="320.9" y1="519.1" x2="322.4" y2="519.1" stroke="#000" stroke-width="0.6"/>
<text x="319.9" y="520.9" font-size="5" text-anchor="end">4</text>
<line x1="327.4" y1="620.6" x2="327.4" y2="622.1" stroke="#000" stroke-width="0.6"/>
<text x="327.4" y="627.6" font-size="5" text-anchor="middle">-20</text>
<line x1="352.3" y1="620.6" x2="352.3" y2="622.1" stroke="#000" stroke-width="0.6"/>
<text x="352.3" y="627.6" font-size="5" text-anchor="middle">-10</text>
<line x1="377.2" y1="620.6" x2="377.2" y2="622.1" stroke="#000" stroke-width="0.6"/>
<text x="377.2" y="627.6" font-size="5" text-anchor="middle">0</text>
<line x1="402.1" y1="620.6" x2="402.1" y2="622.1" stroke="#000" stroke-width="0.6"/>
<text x="402.1" y="627.6" font-size="5" text-anchor="middle">10</text>
<line x1="427" y1="620.6" x2="427" y2="622.1" stroke="#000" stroke-width="0.6"/>
<text x="427" y="627.6" font-size="5" text-anchor="middle">20</text>
<text x="376.3" y="637.3" font-size="6.6" text-anchor="middle">Log<tspan font-size="4.4" dy="1.6">2</tspan><tspan dy="-1.6"> (Fold Change)</tspan></text>
<text x="0" y="0" font-size="6.6" text-anchor="middle" transform="translate(309.6 563.7) rotate(-90)">-Log<tspan font-size="4.4" dy="1.6"> 10</tspan><tspan dy="-1.6"> (P value)</tspan></text>
<text x="433.6" y="425.6" font-size="17.5" font-weight="bold">l</text>
<rect x="441.4" y="417.6" width="121.5" height="123.4" fill="#f4f4f4"/>
<text x="501.6" y="421.7" font-size="4.4" font-weight="bold" text-anchor="middle">Enrichment plot:</text>
<text x="501.6" y="427" font-size="4.4" font-weight="bold" text-anchor="middle">GO_RESPONSE_TO_TYPE_I_INTERFERON</text>
<rect x="454.4" y="429.2" width="106" height="43.5" fill="#fff" stroke="#ccc" stroke-width="0.3"/>
<line x1="454.4" y1="470.88" x2="560.4" y2="470.88" stroke="#eee" stroke-width="0.3"/>
<text x="452.9" y="471.88" font-size="2.6" text-anchor="end" fill="#444">0.0</text>
<line x1="454.4" y1="464.38" x2="560.4" y2="464.38" stroke="#eee" stroke-width="0.3"/>
<text x="452.9" y="465.38" font-size="2.6" text-anchor="end" fill="#444">0.1</text>
<line x1="454.4" y1="457.88" x2="560.4" y2="457.88" stroke="#eee" stroke-width="0.3"/>
<text x="452.9" y="458.88" font-size="2.6" text-anchor="end" fill="#444">0.2</text>
<line x1="454.4" y1="451.38" x2="560.4" y2="451.38" stroke="#eee" stroke-width="0.3"/>
<text x="452.9" y="452.38" font-size="2.6" text-anchor="end" fill="#444">0.3</text>
<line x1="454.4" y1="444.88" x2="560.4" y2="444.88" stroke="#eee" stroke-width="0.3"/>
<text x="452.9" y="445.88" font-size="2.6" text-anchor="end" fill="#444">0.4</text>
<line x1="454.4" y1="438.38" x2="560.4" y2="438.38" stroke="#eee" stroke-width="0.3"/>
<text x="452.9" y="439.38" font-size="2.6" text-anchor="end" fill="#444">0.5</text>
<line x1="454.4" y1="431.88" x2="560.4" y2="431.88" stroke="#eee" stroke-width="0.3"/>
<text x="452.9" y="432.88" font-size="2.6" text-anchor="end" fill="#444">0.6</text>
<line x1="477.06" y1="429.2" x2="477.06" y2="472.7" stroke="#f0f0f0" stroke-width="0.3"/>
<line x1="498.92" y1="429.2" x2="498.92" y2="472.7" stroke="#f0f0f0" stroke-width="0.3"/>
<line x1="520.78" y1="429.2" x2="520.78" y2="472.7" stroke="#f0f0f0" stroke-width="0.3"/>
<line x1="542.64" y1="429.2" x2="542.64" y2="472.7" stroke="#f0f0f0" stroke-width="0.3"/>
<polyline points="455.2,468.07 456.13,454.99 457.07,439.1 458.19,437.23 460.43,436.3 463.23,433.5 465.1,431.63 467.91,432.93 470.71,434.06 472.58,433.12 475.38,431.63 478.19,432.19 485.66,438.17 494.07,442.84 512.77,452.19 531.46,463.4 538.93,467.14 542.67,468.07 548.28,472.19 552.02,468.07 555.76,470.88 559.5,471.44" fill="none" stroke="#22ee22" stroke-width="0.9"/>
<rect x="454.4" y="474.6" width="106" height="15" fill="#fff"/>
<line x1="455.2" y1="474.6" x2="455.2" y2="489.6" stroke="#222" stroke-width="0.35"/>
<line x1="455.76" y1="474.6" x2="455.76" y2="489.6" stroke="#222" stroke-width="0.35"/>
<line x1="456.32" y1="474.6" x2="456.32" y2="489.6" stroke="#222" stroke-width="0.35"/>
<line x1="456.69" y1="474.6" x2="456.69" y2="489.6" stroke="#222" stroke-width="0.35"/>
<line x1="457.25" y1="474.6" x2="457.25" y2="489.6" stroke="#222" stroke-width="0.35"/>
<line x1="457.81" y1="474.6" x2="457.81" y2="489.6" stroke="#222" stroke-width="0.35"/>
<line x1="458.56" y1="474.6" x2="458.56" y2="489.6" stroke="#222" stroke-width="0.35"/>
<line x1="459.12" y1="474.6" x2="459.12" y2="489.6" stroke="#222" stroke-width="0.35"/>
<line x1="459.87" y1="474.6" x2="459.87" y2="489.6" stroke="#222" stroke-width="0.35"/>
<line x1="460.43" y1="474.6" x2="460.43" y2="489.6" stroke="#222" stroke-width="0.35"/>
<line x1="461.18" y1="474.6" x2="461.18" y2="489.6" stroke="#222" stroke-width="0.35"/>
<line x1="461.93" y1="474.6" x2="461.93" y2="489.6" stroke="#222" stroke-width="0.35"/>
<line x1="462.67" y1="474.6" x2="462.67" y2="489.6" stroke="#222" stroke-width="0.35"/>
<line x1="463.42" y1="474.6" x2="463.42" y2="489.6" stroke="#222" stroke-width="0.35"/>
<line x1="464.17" y1="474.6" x2="464.17" y2="489.6" stroke="#222" stroke-width="0.35"/>
<line x1="466.04" y1="474.6" x2="466.04" y2="489.6" stroke="#222" stroke-width="0.35"/>
<line x1="466.97" y1="474.6" x2="466.97" y2="489.6" stroke="#222" stroke-width="0.35"/>
<line x1="467.91" y1="474.6" x2="467.91" y2="489.6" stroke="#222" stroke-width="0.35"/>
<line x1="468.84" y1="474.6" x2="468.84" y2="489.6" stroke="#222" stroke-width="0.35"/>
<line x1="470.71" y1="474.6" x2="470.71" y2="489.6" stroke="#222" stroke-width="0.35"/>
<line x1="471.64" y1="474.6" x2="471.64" y2="489.6" stroke="#222" stroke-width="0.35"/>
<line x1="472.58" y1="474.6" x2="472.58" y2="489.6" stroke="#222" stroke-width="0.35"/>
<line x1="474.45" y1="474.6" x2="474.45" y2="489.6" stroke="#222" stroke-width="0.35"/>
<line x1="475.38" y1="474.6" x2="475.38" y2="489.6" stroke="#222" stroke-width="0.35"/>
<line x1="476.32" y1="474.6" x2="476.32" y2="489.6" stroke="#222" stroke-width="0.35"/>
<line x1="477.25" y1="474.6" x2="477.25" y2="489.6" stroke="#222" stroke-width="0.35"/>
<line x1="480.62" y1="474.6" x2="480.62" y2="489.6" stroke="#222" stroke-width="0.35"/>
<line x1="484.73" y1="474.6" x2="484.73" y2="489.6" stroke="#222" stroke-width="0.35"/>
<line x1="485.85" y1="474.6" x2="485.85" y2="489.6" stroke="#222" stroke-width="0.35"/>
<line x1="486.97" y1="474.6" x2="486.97" y2="489.6" stroke="#222" stroke-width="0.35"/>
<line x1="488.47" y1="474.6" x2="488.47" y2="489.6" stroke="#222" stroke-width="0.35"/>
<line x1="489.96" y1="474.6" x2="489.96" y2="489.6" stroke="#222" stroke-width="0.35"/>
<line x1="495.94" y1="474.6" x2="495.94" y2="489.6" stroke="#222" stroke-width="0.35"/>
<line x1="496.88" y1="474.6" x2="496.88" y2="489.6" stroke="#222" stroke-width="0.35"/>
<line x1="497.81" y1="474.6" x2="497.81" y2="489.6" stroke="#222" stroke-width="0.35"/>
<line x1="499.68" y1="474.6" x2="499.68" y2="489.6" stroke="#222" stroke-width="0.35"/>
<line x1="501.55" y1="474.6" x2="501.55" y2="489.6" stroke="#222" stroke-width="0.35"/>
<line x1="503.42" y1="474.6" x2="503.42" y2="489.6" stroke="#222" stroke-width="0.35"/>
<line x1="505.29" y1="474.6" x2="505.29" y2="489.6" stroke="#222" stroke-width="0.35"/>
<line x1="507.16" y1="474.6" x2="507.16" y2="489.6" stroke="#222" stroke-width="0.35"/>
<line x1="509.03" y1="474.6" x2="509.03" y2="489.6" stroke="#222" stroke-width="0.35"/>
<line x1="511.83" y1="474.6" x2="511.83" y2="489.6" stroke="#222" stroke-width="0.35"/>
<line x1="513.7" y1="474.6" x2="513.7" y2="489.6" stroke="#222" stroke-width="0.35"/>
<line x1="514.64" y1="474.6" x2="514.64" y2="489.6" stroke="#222" stroke-width="0.35"/>
<line x1="515.57" y1="474.6" x2="515.57" y2="489.6" stroke="#222" stroke-width="0.35"/>
<line x1="516.5" y1="474.6" x2="516.5" y2="489.6" stroke="#222" stroke-width="0.35"/>
<line x1="529.21" y1="474.6" x2="529.21" y2="489.6" stroke="#222" stroke-width="0.35"/>
<line x1="530.52" y1="474.6" x2="530.52" y2="489.6" stroke="#222" stroke-width="0.35"/>
<line x1="532.39" y1="474.6" x2="532.39" y2="489.6" stroke="#222" stroke-width="0.35"/>
<line x1="538.93" y1="474.6" x2="538.93" y2="489.6" stroke="#222" stroke-width="0.35"/>
<line x1="540.43" y1="474.6" x2="540.43" y2="489.6" stroke="#222" stroke-width="0.35"/>
<line x1="548.28" y1="474.6" x2="548.28" y2="489.6" stroke="#222" stroke-width="0.35"/>
<line x1="549.78" y1="474.6" x2="549.78" y2="489.6" stroke="#222" stroke-width="0.35"/>
<line x1="551.08" y1="474.6" x2="551.08" y2="489.6" stroke="#222" stroke-width="0.35"/>
<line x1="552.02" y1="474.6" x2="552.02" y2="489.6" stroke="#222" stroke-width="0.35"/>
<rect x="455.2" y="490.1" width="10.94" height="3.6" fill="#e81010"/>
<rect x="466.04" y="490.1" width="6.64" height="3.6" fill="#ee3040"/>
<rect x="472.58" y="490.1" width="5.71" height="3.6" fill="#f06070"/>
<rect x="478.19" y="490.1" width="9.45" height="3.6" fill="#f6a0c0"/>
<rect x="487.53" y="490.1" width="19.73" height="3.6" fill="#f4d0ec"/>
<rect x="507.16" y="490.1" width="16.92" height="3.6" fill="#e8e4f6"/>
<rect x="523.98" y="490.1" width="9.45" height="3.6" fill="#d0d0f4"/>
<rect x="533.33" y="490.1" width="8.51" height="3.6" fill="#8888ee"/>
<rect x="541.74" y="490.1" width="6.64" height="3.6" fill="#3030e0"/>
<rect x="548.28" y="490.1" width="7.58" height="3.6" fill="#0000c0"/>
<text x="456.2" y="496.5" font-size="2.3" fill="#e00">na_pos (positively correlated)</text>
<rect x="454.4" y="495.2" width="106" height="29" fill="#fff"/>
<path d="M455.2 508.82 L455.2 496.49 C 458.2 504.82, 470.2 506.32, 505.48 508.82 L505.48 508.82 C 535.48 511.82, 550.76 514.82, 555.76 522.28 L555.76 508.82 Z" fill="#d6d6d6" stroke="none" stroke-width="1"/>
<text x="505.48" y="509.62" font-size="2.4" text-anchor="middle" fill="#222">Zero cross at 8766</text>
<text x="525.76" y="521.32" font-size="2.3" fill="#22e">na_neg (negatively correlated)</text>
<text x="455.2" y="526.4" font-size="2.5" text-anchor="middle" fill="#333">0</text>
<text x="477.06" y="526.4" font-size="2.5" text-anchor="middle" fill="#333">2,500</text>
<text x="498.92" y="526.4" font-size="2.5" text-anchor="middle" fill="#333">5,000</text>
<text x="520.78" y="526.4" font-size="2.5" text-anchor="middle" fill="#333">7,500</text>
<text x="542.64" y="526.4" font-size="2.5" text-anchor="middle" fill="#333">10,000</text>
<text x="501.4" y="530.3" font-size="3" text-anchor="middle" fill="#333">Rank in Ordered Dataset</text>
<text x="0" y="0" font-size="2.7" text-anchor="middle" fill="#444" transform="translate(446.4 451) rotate(-90)">Enrichment score (ES)</text>
<text x="0" y="0" font-size="2.7" text-anchor="middle" fill="#444" transform="translate(446.4 505) rotate(-90)">Ranked list metric (PreRanked)</text>
<text x="452.9" y="501.82" font-size="2.4" text-anchor="end" fill="#444">0.5</text>
<text x="452.9" y="509.82" font-size="2.4" text-anchor="end" fill="#444">0.0</text>
<text x="452.9" y="517.82" font-size="2.4" text-anchor="end" fill="#444">-0.5</text>
<rect x="456.4" y="533.5" width="91" height="5.2" fill="#fff" stroke="#888" stroke-width="0.4"/>
<line x1="458.4" y1="536.1" x2="462.4" y2="536.1" stroke="#2e2" stroke-width="0.8"/>
<text x="463.4" y="537.2" font-size="2.8" fill="#333">Enrichment profile — Hits     Ranking metric scores</text>
<rect x="563.9" y="417.6" width="121.5" height="123.4" fill="#f4f4f4"/>
<text x="624.1" y="421.7" font-size="4.4" font-weight="bold" text-anchor="middle">Enrichment plot:</text>
<text x="624.1" y="427" font-size="4.4" font-weight="bold" text-anchor="middle">GO_INTERFERON_GAMMA_PRODUCTION</text>
<rect x="576.9" y="429.2" width="106" height="43.5" fill="#fff" stroke="#ccc" stroke-width="0.3"/>
<line x1="576.9" y1="472.22" x2="682.9" y2="472.22" stroke="#eee" stroke-width="0.3"/>
<text x="575.4" y="473.22" font-size="2.6" text-anchor="end" fill="#444">0.0</text>
<line x1="576.9" y1="465.72" x2="682.9" y2="465.72" stroke="#eee" stroke-width="0.3"/>
<text x="575.4" y="466.72" font-size="2.6" text-anchor="end" fill="#444">0.1</text>
<line x1="576.9" y1="459.22" x2="682.9" y2="459.22" stroke="#eee" stroke-width="0.3"/>
<text x="575.4" y="460.22" font-size="2.6" text-anchor="end" fill="#444">0.2</text>
<line x1="576.9" y1="452.72" x2="682.9" y2="452.72" stroke="#eee" stroke-width="0.3"/>
<text x="575.4" y="453.72" font-size="2.6" text-anchor="end" fill="#444">0.3</text>
<line x1="576.9" y1="446.22" x2="682.9" y2="446.22" stroke="#eee" stroke-width="0.3"/>
<text x="575.4" y="447.22" font-size="2.6" text-anchor="end" fill="#444">0.4</text>
<line x1="576.9" y1="439.72" x2="682.9" y2="439.72" stroke="#eee" stroke-width="0.3"/>
<text x="575.4" y="440.72" font-size="2.6" text-anchor="end" fill="#444">0.5</text>
<line x1="576.9" y1="433.22" x2="682.9" y2="433.22" stroke="#eee" stroke-width="0.3"/>
<text x="575.4" y="434.22" font-size="2.6" text-anchor="end" fill="#444">0.6</text>
<line x1="599.35" y1="429.2" x2="599.35" y2="472.7" stroke="#f0f0f0" stroke-width="0.3"/>
<line x1="621.37" y1="429.2" x2="621.37" y2="472.7" stroke="#f0f0f0" stroke-width="0.3"/>
<line x1="643.39" y1="429.2" x2="643.39" y2="472.7" stroke="#f0f0f0" stroke-width="0.3"/>
<line x1="665.4" y1="429.2" x2="665.4" y2="472.7" stroke="#f0f0f0" stroke-width="0.3"/>
<polyline points="577.34,472.22 578.25,464.92 579.16,455.8 580.44,446.67 581.9,440.28 583.72,438.46 585.55,433.53 587.37,432.99 589.2,433.9 591.93,434.26 596.5,435.72 605.62,439.37 614.74,444.85 623.87,450.32 632.99,455.8 642.12,461.27 651.24,466.74 656.72,468.57 660.36,470.03 664.01,470.39 669.49,471.85 673.14,472.22 674.96,469.48 678.61,471.85" fill="none" stroke="#22ee22" stroke-width="0.9"/>
<rect x="576.9" y="474.6" width="106" height="15" fill="#fff"/>
<line x1="577.7" y1="474.6" x2="577.7" y2="489.6" stroke="#222" stroke-width="0.35"/>
<line x1="578.25" y1="474.6" x2="578.25" y2="489.6" stroke="#222" stroke-width="0.35"/>
<line x1="578.8" y1="474.6" x2="578.8" y2="489.6" stroke="#222" stroke-width="0.35"/>
<line x1="579.53" y1="474.6" x2="579.53" y2="489.6" stroke="#222" stroke-width="0.35"/>
<line x1="580.26" y1="474.6" x2="580.26" y2="489.6" stroke="#222" stroke-width="0.35"/>
<line x1="580.99" y1="474.6" x2="580.99" y2="489.6" stroke="#222" stroke-width="0.35"/>
<line x1="581.72" y1="474.6" x2="581.72" y2="489.6" stroke="#222" stroke-width="0.35"/>
<line x1="582.81" y1="474.6" x2="582.81" y2="489.6" stroke="#222" stroke-width="0.35"/>
<line x1="583.72" y1="474.6" x2="583.72" y2="489.6" stroke="#222" stroke-width="0.35"/>
<line x1="585.55" y1="474.6" x2="585.55" y2="489.6" stroke="#222" stroke-width="0.35"/>
<line x1="587.74" y1="474.6" x2="587.74" y2="489.6" stroke="#222" stroke-width="0.35"/>
<line x1="589.2" y1="474.6" x2="589.2" y2="489.6" stroke="#222" stroke-width="0.35"/>
<line x1="591.93" y1="474.6" x2="591.93" y2="489.6" stroke="#222" stroke-width="0.35"/>
<line x1="593.76" y1="474.6" x2="593.76" y2="489.6" stroke="#222" stroke-width="0.35"/>
<line x1="596.5" y1="474.6" x2="596.5" y2="489.6" stroke="#222" stroke-width="0.35"/>
<line x1="598.69" y1="474.6" x2="598.69" y2="489.6" stroke="#222" stroke-width="0.35"/>
<line x1="606.53" y1="474.6" x2="606.53" y2="489.6" stroke="#222" stroke-width="0.35"/>
<line x1="607.81" y1="474.6" x2="607.81" y2="489.6" stroke="#222" stroke-width="0.35"/>
<line x1="608.91" y1="474.6" x2="608.91" y2="489.6" stroke="#222" stroke-width="0.35"/>
<line x1="614.74" y1="474.6" x2="614.74" y2="489.6" stroke="#222" stroke-width="0.35"/>
<line x1="616.57" y1="474.6" x2="616.57" y2="489.6" stroke="#222" stroke-width="0.35"/>
<line x1="618.39" y1="474.6" x2="618.39" y2="489.6" stroke="#222" stroke-width="0.35"/>
<line x1="622.96" y1="474.6" x2="622.96" y2="489.6" stroke="#222" stroke-width="0.35"/>
<line x1="632.63" y1="474.6" x2="632.63" y2="489.6" stroke="#222" stroke-width="0.35"/>
<line x1="633.36" y1="474.6" x2="633.36" y2="489.6" stroke="#222" stroke-width="0.35"/>
<line x1="634.45" y1="474.6" x2="634.45" y2="489.6" stroke="#222" stroke-width="0.35"/>
<line x1="635.18" y1="474.6" x2="635.18" y2="489.6" stroke="#222" stroke-width="0.35"/>
<line x1="635.91" y1="474.6" x2="635.91" y2="489.6" stroke="#222" stroke-width="0.35"/>
<line x1="636.64" y1="474.6" x2="636.64" y2="489.6" stroke="#222" stroke-width="0.35"/>
<line x1="637.55" y1="474.6" x2="637.55" y2="489.6" stroke="#222" stroke-width="0.35"/>
<line x1="638.83" y1="474.6" x2="638.83" y2="489.6" stroke="#222" stroke-width="0.35"/>
<line x1="640.29" y1="474.6" x2="640.29" y2="489.6" stroke="#222" stroke-width="0.35"/>
<line x1="641.75" y1="474.6" x2="641.75" y2="489.6" stroke="#222" stroke-width="0.35"/>
<line x1="643.94" y1="474.6" x2="643.94" y2="489.6" stroke="#222" stroke-width="0.35"/>
<line x1="649.42" y1="474.6" x2="649.42" y2="489.6" stroke="#222" stroke-width="0.35"/>
<line x1="651.24" y1="474.6" x2="651.24" y2="489.6" stroke="#222" stroke-width="0.35"/>
<line x1="654.89" y1="474.6" x2="654.89" y2="489.6" stroke="#222" stroke-width="0.35"/>
<line x1="662.19" y1="474.6" x2="662.19" y2="489.6" stroke="#222" stroke-width="0.35"/>
<line x1="663.28" y1="474.6" x2="663.28" y2="489.6" stroke="#222" stroke-width="0.35"/>
<line x1="664.38" y1="474.6" x2="664.38" y2="489.6" stroke="#222" stroke-width="0.35"/>
<line x1="665.84" y1="474.6" x2="665.84" y2="489.6" stroke="#222" stroke-width="0.35"/>
<line x1="667.66" y1="474.6" x2="667.66" y2="489.6" stroke="#222" stroke-width="0.35"/>
<line x1="669.49" y1="474.6" x2="669.49" y2="489.6" stroke="#222" stroke-width="0.35"/>
<line x1="671.31" y1="474.6" x2="671.31" y2="489.6" stroke="#222" stroke-width="0.35"/>
<line x1="674.05" y1="474.6" x2="674.05" y2="489.6" stroke="#222" stroke-width="0.35"/>
<rect x="577.34" y="490.1" width="6.49" height="3.6" fill="#e81010"/>
<rect x="583.72" y="490.1" width="10.14" height="3.6" fill="#ee3030"/>
<rect x="593.76" y="490.1" width="7.4" height="3.6" fill="#f06080"/>
<rect x="601.06" y="490.1" width="10.14" height="3.6" fill="#f6a0b0"/>
<rect x="611.09" y="490.1" width="20.17" height="3.6" fill="#f4d0ec"/>
<rect x="631.17" y="490.1" width="12.87" height="3.6" fill="#e6e4f6"/>
<rect x="643.94" y="490.1" width="11.96" height="3.6" fill="#dcdcf6"/>
<rect x="655.8" y="490.1" width="6.49" height="3.6" fill="#9a9aee"/>
<rect x="662.19" y="490.1" width="8.31" height="3.6" fill="#4848e8"/>
<rect x="670.4" y="490.1" width="8.31" height="3.6" fill="#1010c8"/>
<text x="578.34" y="496.5" font-size="2.3" fill="#e00">na_pos (positively correlated)</text>
<rect x="576.9" y="495.2" width="106" height="29" fill="#fff"/>
<path d="M577.34 509.99 L577.34 495.94 C 580.34 505.99, 592.34 507.49, 627.97 509.99 L627.97 509.99 C 657.97 512.99, 673.61 515.99, 678.61 523.31 L678.61 509.99 Z" fill="#d6d6d6" stroke="none" stroke-width="1"/>
<text x="627.97" y="510.79" font-size="2.4" text-anchor="middle" fill="#222">Zero cross at 8766</text>
<text x="648.61" y="522.49" font-size="2.3" fill="#22e">na_neg (negatively correlated)</text>
<text x="577.34" y="526.4" font-size="2.5" text-anchor="middle" fill="#333">0</text>
<text x="599.35" y="526.4" font-size="2.5" text-anchor="middle" fill="#333">2,500</text>
<text x="621.37" y="526.4" font-size="2.5" text-anchor="middle" fill="#333">5,000</text>
<text x="643.39" y="526.4" font-size="2.5" text-anchor="middle" fill="#333">7,500</text>
<text x="665.4" y="526.4" font-size="2.5" text-anchor="middle" fill="#333">10,000</text>
<text x="623.9" y="530.3" font-size="3" text-anchor="middle" fill="#333">Rank in Ordered Dataset</text>
<text x="0" y="0" font-size="2.7" text-anchor="middle" fill="#444" transform="translate(568.9 451) rotate(-90)">Enrichment score (ES)</text>
<text x="0" y="0" font-size="2.7" text-anchor="middle" fill="#444" transform="translate(568.9 505) rotate(-90)">Ranked list metric (PreRanked)</text>
<text x="575.4" y="502.99" font-size="2.4" text-anchor="end" fill="#444">0.5</text>
<text x="575.4" y="510.99" font-size="2.4" text-anchor="end" fill="#444">0.0</text>
<text x="575.4" y="518.99" font-size="2.4" text-anchor="end" fill="#444">-0.5</text>
<rect x="578.9" y="533.5" width="91" height="5.2" fill="#fff" stroke="#888" stroke-width="0.4"/>
<line x1="580.9" y1="536.1" x2="584.9" y2="536.1" stroke="#2e2" stroke-width="0.8"/>
<text x="585.9" y="537.2" font-size="2.8" fill="#333">Enrichment profile — Hits     Ranking metric scores</text>
<text x="-1" y="519.3" font-size="17.5" font-weight="bold">m</text>
<rect x="25.6" y="533.6" width="22.05" height="9.4" fill="#f0f0fa"/>
<rect x="47.6" y="533.6" width="22.05" height="9.4" fill="#ffffff"/>
<rect x="69.6" y="533.6" width="22.05" height="9.4" fill="#fffaf8"/>
<rect x="91.6" y="533.6" width="22.05" height="9.4" fill="#e0e0f4"/>
<rect x="113.6" y="533.6" width="22.05" height="9.4" fill="#fff8f8"/>
<rect x="135.6" y="533.6" width="22.05" height="9.4" fill="#ffffff"/>
<text x="23.4" y="540.17" font-size="5.3" font-weight="bold" font-style="italic" text-anchor="end">Ifnar1</text>
<line x1="24.5" y1="538.27" x2="26.3" y2="538.27" stroke="#000" stroke-width="0.3"/>
<rect x="25.6" y="542.95" width="22.05" height="9.4" fill="#fff4f4"/>
<rect x="47.6" y="542.95" width="22.05" height="9.4" fill="#e4e4f4"/>
<rect x="69.6" y="542.95" width="22.05" height="9.4" fill="#f4f4fa"/>
<rect x="91.6" y="542.95" width="22.05" height="9.4" fill="#e8e8f4"/>
<rect x="113.6" y="542.95" width="22.05" height="9.4" fill="#fff4f4"/>
<rect x="135.6" y="542.95" width="22.05" height="9.4" fill="#fcdcdc"/>
<text x="23.4" y="549.52" font-size="5.3" font-weight="bold" font-style="italic" text-anchor="end">Ifnar2</text>
<line x1="24.5" y1="547.62" x2="26.3" y2="547.62" stroke="#000" stroke-width="0.3"/>
<rect x="25.6" y="552.3" width="22.05" height="9.4" fill="#ffffff"/>
<rect x="47.6" y="552.3" width="22.05" height="9.4" fill="#ffffff"/>
<rect x="69.6" y="552.3" width="22.05" height="9.4" fill="#ffffff"/>
<rect x="91.6" y="552.3" width="22.05" height="9.4" fill="#ffffff"/>
<rect x="113.6" y="552.3" width="22.05" height="9.4" fill="#ffffff"/>
<rect x="135.6" y="552.3" width="22.05" height="9.4" fill="#fcd0d0"/>
<text x="23.4" y="558.88" font-size="5.3" font-weight="bold" font-style="italic" text-anchor="end">Ifit2</text>
<line x1="24.5" y1="556.98" x2="26.3" y2="556.98" stroke="#000" stroke-width="0.3"/>
<rect x="25.6" y="561.65" width="22.05" height="9.4" fill="#ffffff"/>
<rect x="47.6" y="561.65" width="22.05" height="9.4" fill="#ffffff"/>
<rect x="69.6" y="561.65" width="22.05" height="9.4" fill="#ffffff"/>
<rect x="91.6" y="561.65" width="22.05" height="9.4" fill="#fde8e8"/>
<rect x="113.6" y="561.65" width="22.05" height="9.4" fill="#fcdcdc"/>
<rect x="135.6" y="561.65" width="22.05" height="9.4" fill="#ffffff"/>
<text x="23.4" y="568.22" font-size="5.3" font-weight="bold" font-style="italic" text-anchor="end">Ifit3</text>
<line x1="24.5" y1="566.32" x2="26.3" y2="566.32" stroke="#000" stroke-width="0.3"/>
<rect x="25.6" y="571" width="22.05" height="9.4" fill="#fff4f4"/>
<rect x="47.6" y="571" width="22.05" height="9.4" fill="#e0e0f4"/>
<rect x="69.6" y="571" width="22.05" height="9.4" fill="#f0f0fa"/>
<rect x="91.6" y="571" width="22.05" height="9.4" fill="#e4e4f4"/>
<rect x="113.6" y="571" width="22.05" height="9.4" fill="#fff4f4"/>
<rect x="135.6" y="571" width="22.05" height="9.4" fill="#fde0e0"/>
<text x="23.4" y="577.57" font-size="5.3" font-weight="bold" font-style="italic" text-anchor="end">Ifnar2</text>
<line x1="24.5" y1="575.67" x2="26.3" y2="575.67" stroke="#000" stroke-width="0.3"/>
<rect x="25.6" y="580.35" width="22.05" height="9.4" fill="#ffffff"/>
<rect x="47.6" y="580.35" width="22.05" height="9.4" fill="#ffffff"/>
<rect x="69.6" y="580.35" width="22.05" height="9.4" fill="#e8e8f8"/>
<rect x="91.6" y="580.35" width="22.05" height="9.4" fill="#ffffff"/>
<rect x="113.6" y="580.35" width="22.05" height="9.4" fill="#ffffff"/>
<rect x="135.6" y="580.35" width="22.05" height="9.4" fill="#e0e0f4"/>
<text x="23.4" y="586.92" font-size="5.3" font-weight="bold" font-style="italic" text-anchor="end">Ifngr1</text>
<line x1="24.5" y1="585.02" x2="26.3" y2="585.02" stroke="#000" stroke-width="0.3"/>
<rect x="25.6" y="589.7" width="22.05" height="9.4" fill="#ffffff"/>
<rect x="47.6" y="589.7" width="22.05" height="9.4" fill="#ffffff"/>
<rect x="69.6" y="589.7" width="22.05" height="9.4" fill="#c0c0e8"/>
<rect x="91.6" y="589.7" width="22.05" height="9.4" fill="#fce8e8"/>
<rect x="113.6" y="589.7" width="22.05" height="9.4" fill="#fce8e8"/>
<rect x="135.6" y="589.7" width="22.05" height="9.4" fill="#fff0f0"/>
<text x="23.4" y="596.27" font-size="5.3" font-weight="bold" font-style="italic" text-anchor="end">Irf7</text>
<line x1="24.5" y1="594.38" x2="26.3" y2="594.38" stroke="#000" stroke-width="0.3"/>
<rect x="25.6" y="599.05" width="22.05" height="9.4" fill="#ffffff"/>
<rect x="47.6" y="599.05" width="22.05" height="9.4" fill="#ffffff"/>
<rect x="69.6" y="599.05" width="22.05" height="9.4" fill="#d4d4f0"/>
<rect x="91.6" y="599.05" width="22.05" height="9.4" fill="#fff0f0"/>
<rect x="113.6" y="599.05" width="22.05" height="9.4" fill="#fff0f0"/>
<rect x="135.6" y="599.05" width="22.05" height="9.4" fill="#fff4f4"/>
<text x="23.4" y="605.62" font-size="5.3" font-weight="bold" font-style="italic" text-anchor="end">Irf9</text>
<line x1="24.5" y1="603.73" x2="26.3" y2="603.73" stroke="#000" stroke-width="0.3"/>
<rect x="25.6" y="608.4" width="22.05" height="9.4" fill="#ffffff"/>
<rect x="47.6" y="608.4" width="22.05" height="9.4" fill="#ffffff"/>
<rect x="69.6" y="608.4" width="22.05" height="9.4" fill="#d4d4f0"/>
<rect x="91.6" y="608.4" width="22.05" height="9.4" fill="#ffffff"/>
<rect x="113.6" y="608.4" width="22.05" height="9.4" fill="#ffffff"/>
<rect x="135.6" y="608.4" width="22.05" height="9.4" fill="#f4f4fa"/>
<text x="23.4" y="614.97" font-size="5.3" font-weight="bold" font-style="italic" text-anchor="end">Ifi35</text>
<line x1="24.5" y1="613.07" x2="26.3" y2="613.07" stroke="#000" stroke-width="0.3"/>
<rect x="25.6" y="617.75" width="22.05" height="9.4" fill="#ffffff"/>
<rect x="47.6" y="617.75" width="22.05" height="9.4" fill="#fff4f4"/>
<rect x="69.6" y="617.75" width="22.05" height="9.4" fill="#5050c8"/>
<rect x="91.6" y="617.75" width="22.05" height="9.4" fill="#fcc8c8"/>
<rect x="113.6" y="617.75" width="22.05" height="9.4" fill="#fcc8c8"/>
<rect x="135.6" y="617.75" width="22.05" height="9.4" fill="#fcd0d0"/>
<text x="23.4" y="624.32" font-size="5.3" font-weight="bold" font-style="italic" text-anchor="end">Ifi44</text>
<line x1="24.5" y1="622.42" x2="26.3" y2="622.42" stroke="#000" stroke-width="0.3"/>
<rect x="25.6" y="627.1" width="22.05" height="9.4" fill="#ffffff"/>
<rect x="47.6" y="627.1" width="22.05" height="9.4" fill="#fff4f4"/>
<rect x="69.6" y="627.1" width="22.05" height="9.4" fill="#7070d0"/>
<rect x="91.6" y="627.1" width="22.05" height="9.4" fill="#fcc8c8"/>
<rect x="113.6" y="627.1" width="22.05" height="9.4" fill="#fcc8c8"/>
<rect x="135.6" y="627.1" width="22.05" height="9.4" fill="#fcd0d0"/>
<text x="23.4" y="633.67" font-size="5.3" font-weight="bold" font-style="italic" text-anchor="end">Ifit2</text>
<line x1="24.5" y1="631.77" x2="26.3" y2="631.77" stroke="#000" stroke-width="0.3"/>
<rect x="25.6" y="636.45" width="22.05" height="9.4" fill="#ffffff"/>
<rect x="47.6" y="636.45" width="22.05" height="9.4" fill="#fff0f0"/>
<rect x="69.6" y="636.45" width="22.05" height="9.4" fill="#5050c8"/>
<rect x="91.6" y="636.45" width="22.05" height="9.4" fill="#fcc8c8"/>
<rect x="113.6" y="636.45" width="22.05" height="9.4" fill="#fcc8c8"/>
<rect x="135.6" y="636.45" width="22.05" height="9.4" fill="#fcd0d0"/>
<text x="23.4" y="643.02" font-size="5.3" font-weight="bold" font-style="italic" text-anchor="end">Ifit2</text>
<line x1="24.5" y1="641.12" x2="26.3" y2="641.12" stroke="#000" stroke-width="0.3"/>
<rect x="25.6" y="645.8" width="22.05" height="9.4" fill="#fff0f0"/>
<rect x="47.6" y="645.8" width="22.05" height="9.4" fill="#ffffff"/>
<rect x="69.6" y="645.8" width="22.05" height="9.4" fill="#fcdcdc"/>
<rect x="91.6" y="645.8" width="22.05" height="9.4" fill="#f08888"/>
<rect x="113.6" y="645.8" width="22.05" height="9.4" fill="#f08888"/>
<rect x="135.6" y="645.8" width="22.05" height="9.4" fill="#f07070"/>
<text x="23.4" y="652.37" font-size="5.3" font-weight="bold" font-style="italic" text-anchor="end">Cxcl1</text>
<line x1="24.5" y1="650.47" x2="26.3" y2="650.47" stroke="#000" stroke-width="0.3"/>
<rect x="25.6" y="655.15" width="22.05" height="9.4" fill="#ffffff"/>
<rect x="47.6" y="655.15" width="22.05" height="9.4" fill="#fff4f4"/>
<rect x="69.6" y="655.15" width="22.05" height="9.4" fill="#2020b0"/>
<rect x="91.6" y="655.15" width="22.05" height="9.4" fill="#fcb8b8"/>
<rect x="113.6" y="655.15" width="22.05" height="9.4" fill="#fcb8b8"/>
<rect x="135.6" y="655.15" width="22.05" height="9.4" fill="#f8a0a0"/>
<text x="23.4" y="661.72" font-size="5.3" font-weight="bold" font-style="italic" text-anchor="end">Cxcl10</text>
<line x1="24.5" y1="659.82" x2="26.3" y2="659.82" stroke="#000" stroke-width="0.3"/>
<rect x="25.6" y="664.5" width="22.05" height="9.4" fill="#9a9ad8"/>
<rect x="47.6" y="664.5" width="22.05" height="9.4" fill="#fff4f4"/>
<rect x="69.6" y="664.5" width="22.05" height="9.4" fill="#fffafa"/>
<rect x="91.6" y="664.5" width="22.05" height="9.4" fill="#fcc0c0"/>
<rect x="113.6" y="664.5" width="22.05" height="9.4" fill="#fcc8c8"/>
<rect x="135.6" y="664.5" width="22.05" height="9.4" fill="#f8a8a8"/>
<text x="23.4" y="671.07" font-size="5.3" font-weight="bold" font-style="italic" text-anchor="end">Cxcl11</text>
<line x1="24.5" y1="669.17" x2="26.3" y2="669.17" stroke="#000" stroke-width="0.3"/>
<rect x="25.6" y="673.85" width="22.05" height="9.4" fill="#ffffff"/>
<rect x="47.6" y="673.85" width="22.05" height="9.4" fill="#fff4f4"/>
<rect x="69.6" y="673.85" width="22.05" height="9.4" fill="#e4e4f4"/>
<rect x="91.6" y="673.85" width="22.05" height="9.4" fill="#fce0e0"/>
<rect x="113.6" y="673.85" width="22.05" height="9.4" fill="#fce0e0"/>
<rect x="135.6" y="673.85" width="22.05" height="9.4" fill="#fcd8d8"/>
<text x="23.4" y="680.42" font-size="5.3" font-weight="bold" font-style="italic" text-anchor="end">Ddx58</text>
<line x1="24.5" y1="678.52" x2="26.3" y2="678.52" stroke="#000" stroke-width="0.3"/>
<rect x="25.6" y="683.2" width="22.05" height="9.4" fill="#ffffff"/>
<rect x="47.6" y="683.2" width="22.05" height="9.4" fill="#fff4f4"/>
<rect x="69.6" y="683.2" width="22.05" height="9.4" fill="#d8d8f0"/>
<rect x="91.6" y="683.2" width="22.05" height="9.4" fill="#fce0e0"/>
<rect x="113.6" y="683.2" width="22.05" height="9.4" fill="#fce0e0"/>
<rect x="135.6" y="683.2" width="22.05" height="9.4" fill="#fcd8d8"/>
<text x="23.4" y="689.77" font-size="5.3" font-weight="bold" font-style="italic" text-anchor="end">Eif2ak2</text>
<line x1="24.5" y1="687.88" x2="26.3" y2="687.88" stroke="#000" stroke-width="0.3"/>
<rect x="25.6" y="692.55" width="22.05" height="9.4" fill="#ffffff"/>
<rect x="47.6" y="692.55" width="22.05" height="9.4" fill="#fff4f4"/>
<rect x="69.6" y="692.55" width="22.05" height="9.4" fill="#b0b0e0"/>
<rect x="91.6" y="692.55" width="22.05" height="9.4" fill="#fcd0d0"/>
<rect x="113.6" y="692.55" width="22.05" height="9.4" fill="#fcd8d8"/>
<rect x="135.6" y="692.55" width="22.05" height="9.4" fill="#fcc8c8"/>
<text x="23.4" y="699.12" font-size="5.3" font-weight="bold" font-style="italic" text-anchor="end">Isg15</text>
<line x1="24.5" y1="697.22" x2="26.3" y2="697.22" stroke="#000" stroke-width="0.3"/>
<rect x="25.6" y="701.9" width="22.05" height="9.4" fill="#ffffff"/>
<rect x="47.6" y="701.9" width="22.05" height="9.4" fill="#ffffff"/>
<rect x="69.6" y="701.9" width="22.05" height="9.4" fill="#e0e0f4"/>
<rect x="91.6" y="701.9" width="22.05" height="9.4" fill="#fce4e4"/>
<rect x="113.6" y="701.9" width="22.05" height="9.4" fill="#fce4e4"/>
<rect x="135.6" y="701.9" width="22.05" height="9.4" fill="#fcdcdc"/>
<text x="23.4" y="708.47" font-size="5.3" font-weight="bold" font-style="italic" text-anchor="end">Mda5</text>
<line x1="24.5" y1="706.57" x2="26.3" y2="706.57" stroke="#000" stroke-width="0.3"/>
<rect x="25.6" y="711.25" width="22.05" height="9.4" fill="#ffffff"/>
<rect x="47.6" y="711.25" width="22.05" height="9.4" fill="#fff0f0"/>
<rect x="69.6" y="711.25" width="22.05" height="9.4" fill="#b4b4e4"/>
<rect x="91.6" y="711.25" width="22.05" height="9.4" fill="#fcd0d0"/>
<rect x="113.6" y="711.25" width="22.05" height="9.4" fill="#fcd0d0"/>
<rect x="135.6" y="711.25" width="22.05" height="9.4" fill="#fcc0c0"/>
<text x="23.4" y="717.82" font-size="5.3" font-weight="bold" font-style="italic" text-anchor="end">Mx1</text>
<line x1="24.5" y1="715.92" x2="26.3" y2="715.92" stroke="#000" stroke-width="0.3"/>
<rect x="25.6" y="720.6" width="22.05" height="9.4" fill="#ffffff"/>
<rect x="47.6" y="720.6" width="22.05" height="9.4" fill="#ffffff"/>
<rect x="69.6" y="720.6" width="22.05" height="9.4" fill="#f0f0fa"/>
<rect x="91.6" y="720.6" width="22.05" height="9.4" fill="#fcf0f0"/>
<rect x="113.6" y="720.6" width="22.05" height="9.4" fill="#fff4f4"/>
<rect x="135.6" y="720.6" width="22.05" height="9.4" fill="#fcecec"/>
<text x="23.4" y="727.17" font-size="5.3" font-weight="bold" font-style="italic" text-anchor="end">Stat1</text>
<line x1="24.5" y1="725.27" x2="26.3" y2="725.27" stroke="#000" stroke-width="0.3"/>
<rect x="25.6" y="729.95" width="22.05" height="9.4" fill="#f0f0fa"/>
<rect x="47.6" y="729.95" width="22.05" height="9.4" fill="#fff4f4"/>
<rect x="69.6" y="729.95" width="22.05" height="9.4" fill="#dcdcf0"/>
<rect x="91.6" y="729.95" width="22.05" height="9.4" fill="#fce8e8"/>
<rect x="113.6" y="729.95" width="22.05" height="9.4" fill="#fce8e8"/>
<rect x="135.6" y="729.95" width="22.05" height="9.4" fill="#fcdcdc"/>
<text x="23.4" y="736.52" font-size="5.3" font-weight="bold" font-style="italic" text-anchor="end">Stat2</text>
<line x1="24.5" y1="734.62" x2="26.3" y2="734.62" stroke="#000" stroke-width="0.3"/>
<rect x="25.6" y="739.3" width="22.05" height="9.4" fill="#fff0f0"/>
<rect x="47.6" y="739.3" width="22.05" height="9.4" fill="#ffffff"/>
<rect x="69.6" y="739.3" width="22.05" height="9.4" fill="#a8a8e0"/>
<rect x="91.6" y="739.3" width="22.05" height="9.4" fill="#b8b8e4"/>
<rect x="113.6" y="739.3" width="22.05" height="9.4" fill="#fcd0d0"/>
<rect x="135.6" y="739.3" width="22.05" height="9.4" fill="#f8a8a8"/>
<text x="23.4" y="745.87" font-size="5.3" font-weight="bold" font-style="italic" text-anchor="end">Cd68</text>
<line x1="24.5" y1="743.97" x2="26.3" y2="743.97" stroke="#000" stroke-width="0.3"/>
<rect x="25.6" y="748.65" width="22.05" height="9.4" fill="#ffffff"/>
<rect x="47.6" y="748.65" width="22.05" height="9.4" fill="#ffffff"/>
<rect x="69.6" y="748.65" width="22.05" height="9.4" fill="#fcc0c0"/>
<rect x="91.6" y="748.65" width="22.05" height="9.4" fill="#f07070"/>
<rect x="113.6" y="748.65" width="22.05" height="9.4" fill="#f02020"/>
<rect x="135.6" y="748.65" width="22.05" height="9.4" fill="#ffffff"/>
<text x="23.4" y="755.22" font-size="5.3" font-weight="bold" font-style="italic" text-anchor="end">Il1b</text>
<line x1="24.5" y1="753.32" x2="26.3" y2="753.32" stroke="#000" stroke-width="0.3"/>
<rect x="25.6" y="758" width="22.05" height="9.4" fill="#ffffff"/>
<rect x="47.6" y="758" width="22.05" height="9.4" fill="#fcc8c8"/>
<rect x="69.6" y="758" width="22.05" height="9.4" fill="#2020b0"/>
<rect x="91.6" y="758" width="22.05" height="9.4" fill="#ffffff"/>
<rect x="113.6" y="758" width="22.05" height="9.4" fill="#f07070"/>
<rect x="135.6" y="758" width="22.05" height="9.4" fill="#f03030"/>
<text x="23.4" y="764.57" font-size="5.3" font-weight="bold" font-style="italic" text-anchor="end">Il6</text>
<line x1="24.5" y1="762.67" x2="26.3" y2="762.67" stroke="#000" stroke-width="0.3"/>
<rect x="25.6" y="767.35" width="22.05" height="9.4" fill="#fce0e0"/>
<rect x="47.6" y="767.35" width="22.05" height="9.4" fill="#ffffff"/>
<rect x="69.6" y="767.35" width="22.05" height="9.4" fill="#fff4f4"/>
<rect x="91.6" y="767.35" width="22.05" height="9.4" fill="#ffffff"/>
<rect x="113.6" y="767.35" width="22.05" height="9.4" fill="#fcd0d0"/>
<rect x="135.6" y="767.35" width="22.05" height="9.4" fill="#f08080"/>
<text x="23.4" y="773.92" font-size="5.3" font-weight="bold" font-style="italic" text-anchor="end">Il10</text>
<line x1="24.5" y1="772.02" x2="26.3" y2="772.02" stroke="#000" stroke-width="0.3"/>
<rect x="25.6" y="776.7" width="22.05" height="9.4" fill="#e0e0f4"/>
<rect x="47.6" y="776.7" width="22.05" height="9.4" fill="#5858c8"/>
<rect x="69.6" y="776.7" width="22.05" height="9.4" fill="#fcdcdc"/>
<rect x="91.6" y="776.7" width="22.05" height="9.4" fill="#f8a0a0"/>
<rect x="113.6" y="776.7" width="22.05" height="9.4" fill="#f8a0a0"/>
<rect x="135.6" y="776.7" width="22.05" height="9.4" fill="#f8a0a0"/>
<text x="23.4" y="783.27" font-size="5.3" font-weight="bold" font-style="italic" text-anchor="end">Tnf</text>
<line x1="24.5" y1="781.38" x2="26.3" y2="781.38" stroke="#000" stroke-width="0.3"/>
<line x1="25.6" y1="542.95" x2="157.6" y2="542.95" stroke="#f4f4f4" stroke-width="0.3"/>
<line x1="25.6" y1="552.3" x2="157.6" y2="552.3" stroke="#f4f4f4" stroke-width="0.3"/>
<line x1="25.6" y1="561.65" x2="157.6" y2="561.65" stroke="#f4f4f4" stroke-width="0.3"/>
<line x1="25.6" y1="571" x2="157.6" y2="571" stroke="#f4f4f4" stroke-width="0.3"/>
<line x1="25.6" y1="580.35" x2="157.6" y2="580.35" stroke="#f4f4f4" stroke-width="0.3"/>
<line x1="25.6" y1="589.7" x2="157.6" y2="589.7" stroke="#f4f4f4" stroke-width="0.3"/>
<line x1="25.6" y1="599.05" x2="157.6" y2="599.05" stroke="#f4f4f4" stroke-width="0.3"/>
<line x1="25.6" y1="608.4" x2="157.6" y2="608.4" stroke="#f4f4f4" stroke-width="0.3"/>
<line x1="25.6" y1="617.75" x2="157.6" y2="617.75" stroke="#f4f4f4" stroke-width="0.3"/>
<line x1="25.6" y1="627.1" x2="157.6" y2="627.1" stroke="#f4f4f4" stroke-width="0.3"/>
<line x1="25.6" y1="636.45" x2="157.6" y2="636.45" stroke="#f4f4f4" stroke-width="0.3"/>
<line x1="25.6" y1="645.8" x2="157.6" y2="645.8" stroke="#f4f4f4" stroke-width="0.3"/>
<line x1="25.6" y1="655.15" x2="157.6" y2="655.15" stroke="#f4f4f4" stroke-width="0.3"/>
<line x1="25.6" y1="664.5" x2="157.6" y2="664.5" stroke="#f4f4f4" stroke-width="0.3"/>
<line x1="25.6" y1="673.85" x2="157.6" y2="673.85" stroke="#f4f4f4" stroke-width="0.3"/>
<line x1="25.6" y1="683.2" x2="157.6" y2="683.2" stroke="#f4f4f4" stroke-width="0.3"/>
<line x1="25.6" y1="692.55" x2="157.6" y2="692.55" stroke="#f4f4f4" stroke-width="0.3"/>
<line x1="25.6" y1="701.9" x2="157.6" y2="701.9" stroke="#f4f4f4" stroke-width="0.3"/>
<line x1="25.6" y1="711.25" x2="157.6" y2="711.25" stroke="#f4f4f4" stroke-width="0.3"/>
<line x1="25.6" y1="720.6" x2="157.6" y2="720.6" stroke="#f4f4f4" stroke-width="0.3"/>
<line x1="25.6" y1="729.95" x2="157.6" y2="729.95" stroke="#f4f4f4" stroke-width="0.3"/>
<line x1="25.6" y1="739.3" x2="157.6" y2="739.3" stroke="#f4f4f4" stroke-width="0.3"/>
<line x1="25.6" y1="748.65" x2="157.6" y2="748.65" stroke="#f4f4f4" stroke-width="0.3"/>
<line x1="25.6" y1="758" x2="157.6" y2="758" stroke="#f4f4f4" stroke-width="0.3"/>
<line x1="25.6" y1="767.35" x2="157.6" y2="767.35" stroke="#f4f4f4" stroke-width="0.3"/>
<line x1="25.6" y1="776.7" x2="157.6" y2="776.7" stroke="#f4f4f4" stroke-width="0.3"/>
<rect x="25.6" y="533.6" width="132" height="252.45" fill="none" stroke="#ddd" stroke-width="0.4"/>
<rect x="29" y="527" width="95.4" height="4" fill="url(#gm)" stroke="#222" stroke-width="0.4"/>
<rect x="29.2" y="527.2" width="1.2" height="3.6" fill="#e00"/>
<text x="29.5" y="524.8" font-size="4.8" text-anchor="middle">-1.5</text>
<text x="45.5" y="524.8" font-size="4.8" text-anchor="middle">0</text>
<text x="61" y="524.8" font-size="4.8" text-anchor="middle">1.5</text>
<text x="79" y="524.8" font-size="4.8" text-anchor="middle">3.0</text>
<text x="97" y="524.8" font-size="4.8" text-anchor="middle">4.5</text>
<text x="113" y="524.8" font-size="4.8" text-anchor="middle">6.0</text>
<text x="127.5" y="530.8" font-size="4.6">Log2 ratio</text>
<line x1="36.6" y1="786" x2="36.6" y2="787.5" stroke="#888" stroke-width="0.4"/>
<line x1="58.6" y1="786" x2="58.6" y2="787.5" stroke="#888" stroke-width="0.4"/>
<line x1="80.6" y1="786" x2="80.6" y2="787.5" stroke="#888" stroke-width="0.4"/>
<line x1="102.6" y1="786" x2="102.6" y2="787.5" stroke="#888" stroke-width="0.4"/>
<line x1="124.6" y1="786" x2="124.6" y2="787.5" stroke="#888" stroke-width="0.4"/>
<line x1="146.6" y1="786" x2="146.6" y2="787.5" stroke="#888" stroke-width="0.4"/>
<line x1="32.3" y1="793.6" x2="85" y2="793.6" stroke="#777" stroke-width="1.1"/>
<line x1="98.7" y1="793.2" x2="151.2" y2="793.2" stroke="#ff6600" stroke-width="0.8"/>
<text x="47" y="805.4" font-size="6.5" font-weight="bold" fill="#000"><tspan font-style="italic">Adar</tspan><tspan font-size="4.09" dy="-2.73">fl/fl</tspan></text>
<text x="112" y="805.4" font-size="6.4" font-weight="bold" fill="#ff6600"><tspan font-style="italic">Adar</tspan><tspan font-size="4.03" dy="-2.69">iΔgut</tspan></text>
<text x="176" y="543.9" font-size="17.5" font-weight="bold">j</text>
<circle cx="201.4" cy="546.2" r="3.7" fill="url(#sph_g)"/>
<text x="209.6" y="547.7" font-size="7.3" font-weight="bold" fill="#000"><tspan font-style="italic">Adar</tspan><tspan font-size="4.38" dy="-3.07">fl/fl</tspan></text>
<circle cx="248.8" cy="546.2" r="3.7" fill="url(#sph_o)"/>
<text x="256" y="547.7" font-size="7.3" font-weight="bold" fill="#000"><tspan font-style="italic">Adar</tspan><tspan font-size="4.38" dy="-3.07">iΔgut</tspan></text>
<line x1="213" y1="558.5" x2="213" y2="618" stroke="#dadada" stroke-width="0.35"/>
<line x1="221.3" y1="558.2" x2="221.3" y2="617.4" stroke="#dadada" stroke-width="0.35"/>
<line x1="229.6" y1="557.9" x2="229.6" y2="616.8" stroke="#dadada" stroke-width="0.35"/>
<line x1="237.9" y1="557.6" x2="237.9" y2="616.2" stroke="#dadada" stroke-width="0.35"/>
<line x1="246.2" y1="557.3" x2="246.2" y2="615.6" stroke="#dadada" stroke-width="0.35"/>
<line x1="254.5" y1="557" x2="254.5" y2="615" stroke="#dadada" stroke-width="0.35"/>
<line x1="262.8" y1="556.7" x2="262.8" y2="614.4" stroke="#dadada" stroke-width="0.35"/>
<line x1="271.1" y1="556.4" x2="271.1" y2="613.8" stroke="#dadada" stroke-width="0.35"/>
<line x1="213" y1="559.5" x2="271" y2="558" stroke="#dadada" stroke-width="0.35"/>
<line x1="213" y1="568.3" x2="271" y2="566.8" stroke="#dadada" stroke-width="0.35"/>
<line x1="213" y1="577.2" x2="271" y2="575.7" stroke="#dadada" stroke-width="0.35"/>
<line x1="213" y1="586" x2="271" y2="584.5" stroke="#dadada" stroke-width="0.35"/>
<line x1="213" y1="594.9" x2="271" y2="593.4" stroke="#dadada" stroke-width="0.35"/>
<line x1="213" y1="603.8" x2="271" y2="602.3" stroke="#dadada" stroke-width="0.35"/>
<line x1="213" y1="612.7" x2="271" y2="611.2" stroke="#dadada" stroke-width="0.35"/>
<line x1="190" y1="561" x2="213" y2="559.5" stroke="#dadada" stroke-width="0.35"/>
<line x1="190" y1="569.8" x2="213" y2="568.3" stroke="#dadada" stroke-width="0.35"/>
<line x1="190" y1="578.7" x2="213" y2="577.2" stroke="#dadada" stroke-width="0.35"/>
<line x1="190" y1="587.5" x2="213" y2="586" stroke="#dadada" stroke-width="0.35"/>
<line x1="190" y1="596.4" x2="213" y2="594.9" stroke="#dadada" stroke-width="0.35"/>
<line x1="190" y1="605.3" x2="213" y2="603.8" stroke="#dadada" stroke-width="0.35"/>
<line x1="190" y1="614.2" x2="213" y2="612.7" stroke="#dadada" stroke-width="0.35"/>
<line x1="190" y1="561" x2="190" y2="621" stroke="#dadada" stroke-width="0.35"/>
<line x1="197.6" y1="560.5" x2="197.6" y2="620.7" stroke="#dadada" stroke-width="0.35"/>
<line x1="205.2" y1="560" x2="205.2" y2="620.4" stroke="#dadada" stroke-width="0.35"/>
<line x1="212.8" y1="559.5" x2="212.8" y2="620.1" stroke="#dadada" stroke-width="0.35"/>
<line x1="190" y1="621" x2="255" y2="616" stroke="#dadada" stroke-width="0.35"/>
<line x1="195" y1="625.3" x2="260" y2="620.3" stroke="#dadada" stroke-width="0.35"/>
<line x1="200" y1="629.6" x2="265" y2="624.6" stroke="#dadada" stroke-width="0.35"/>
<line x1="205" y1="633.9" x2="270" y2="628.9" stroke="#dadada" stroke-width="0.35"/>
<line x1="210" y1="638.2" x2="275" y2="633.2" stroke="#dadada" stroke-width="0.35"/>
<line x1="215" y1="642.5" x2="280" y2="637.5" stroke="#dadada" stroke-width="0.35"/>
<line x1="190" y1="621" x2="227" y2="645" stroke="#dadada" stroke-width="0.35"/>
<line x1="203" y1="620.2" x2="240" y2="644" stroke="#dadada" stroke-width="0.35"/>
<line x1="216" y1="619.4" x2="253" y2="643" stroke="#dadada" stroke-width="0.35"/>
<line x1="229" y1="618.6" x2="266" y2="642" stroke="#dadada" stroke-width="0.35"/>
<line x1="242" y1="617.8" x2="279" y2="641" stroke="#dadada" stroke-width="0.35"/>
<line x1="255" y1="617" x2="292" y2="640" stroke="#dadada" stroke-width="0.35"/>
<line x1="186" y1="620" x2="233" y2="646" stroke="#999" stroke-width="0.5"/>
<line x1="233" y1="646" x2="290" y2="626" stroke="#999" stroke-width="0.5"/>
<line x1="213" y1="586" x2="271" y2="584.5" stroke="#999" stroke-width="0.5"/>
<line x1="240" y1="588" x2="240" y2="616" stroke="#aaa" stroke-width="0.4"/>
<text x="196" y="560.7" font-size="3.4" text-anchor="end" fill="#555">0.6</text>
<text x="196" y="569.5" font-size="3.4" text-anchor="end" fill="#555">0.4</text>
<text x="196" y="578.4" font-size="3.4" text-anchor="end" fill="#555">0.2</text>
<text x="196" y="587.2" font-size="3.4" text-anchor="end" fill="#555">0</text>
<text x="196" y="596.1" font-size="3.4" text-anchor="end" fill="#555">-0.2</text>
<text x="196" y="605" font-size="3.4" text-anchor="end" fill="#555">-0.4</text>
<text x="196" y="613.9" font-size="3.4" text-anchor="end" fill="#555">-0.6</text>
<text x="196" y="622.8" font-size="3.4" text-anchor="end" fill="#555">-0.8</text>
<text x="0" y="0" font-size="3.3" text-anchor="middle" fill="#555" transform="translate(184.2 590) rotate(90)">PC3(14.7% var. explained)</text>
<text x="0" y="0" font-size="3.3" text-anchor="middle" fill="#555" transform="translate(201 633) rotate(30)">PC1(42.8% var. explained)</text>
<text x="0" y="0" font-size="3.3" text-anchor="middle" fill="#555" transform="translate(271 638) rotate(-24)">PC2(15.6% var. explained)</text>
<text x="195" y="624" font-size="3" fill="#555">-0.3</text>
<text x="201.5" y="627.3" font-size="3" fill="#555">-0.1</text>
<text x="208" y="630.6" font-size="3" fill="#555">0</text>
<text x="214.5" y="633.9" font-size="3" fill="#555">-0.2</text>
<text x="221" y="637.2" font-size="3" fill="#555">-0.4</text>
<text x="227.5" y="640.5" font-size="3" fill="#555">-0.6</text>
<text x="234" y="643.8" font-size="3" fill="#555">-0.8</text>
<text x="282" y="630" font-size="3" fill="#555">0.3</text>
<text x="255" y="637" font-size="3" fill="#555">0</text>
<circle cx="205.4" cy="586.1" r="6.6" fill="none" stroke="#333" stroke-width="0.6" stroke-dasharray="1.5 1"/>
<circle cx="205.4" cy="583.1" r="3" fill="url(#sph_g)"/>
<circle cx="202.8" cy="584.5" r="3" fill="url(#sph_g)"/>
<circle cx="208" cy="584.5" r="3" fill="url(#sph_g)"/>
<circle cx="202.8" cy="587.9" r="3" fill="url(#sph_g)"/>
<circle cx="208" cy="587.9" r="3" fill="url(#sph_g)"/>
<circle cx="205.4" cy="588.7" r="3" fill="url(#sph_g)"/>
<ellipse cx="241.6" cy="588.6" rx="9.2" ry="34.2" fill="none" stroke="#e03010" stroke-width="0.8" stroke-dasharray="2.5 1.5"/>
<circle cx="243.3" cy="560.5" r="3.7" fill="url(#sph_o)"/>
<circle cx="238" cy="587.1" r="3.7" fill="url(#sph_o)"/>
<circle cx="239" cy="616.7" r="3.7" fill="url(#sph_o)"/>
<text x="177" y="674.3" font-size="17.5" font-weight="bold">n</text>
<text x="0" y="0" font-size="8.8" font-weight="bold" text-anchor="middle" transform="translate(191.8 735.9) rotate(-90)">Relative mRNA expression</text>
<line x1="210.5" y1="788.5" x2="210.5" y2="752" stroke="#000" stroke-width="0.9"/>
<line x1="210.5" y1="746" x2="210.5" y2="705" stroke="#000" stroke-width="0.9"/>
<line x1="210.5" y1="700" x2="210.5" y2="682" stroke="#000" stroke-width="0.9"/>
<path d="M208.1 749.5 L212.9 754.6" fill="none" stroke="#000" stroke-width="0.8"/>
<path d="M208.1 742 L212.9 747" fill="none" stroke="#000" stroke-width="0.8"/>
<path d="M208.1 703 L212.9 708" fill="none" stroke="#000" stroke-width="0.8"/>
<path d="M208.1 697 L212.9 702" fill="none" stroke="#000" stroke-width="0.8"/>
<line x1="210.5" y1="788.5" x2="470" y2="788.5" stroke="#000" stroke-width="0.9"/>
<line x1="208.5" y1="788.5" x2="210.5" y2="788.5" stroke="#000" stroke-width="0.7"/>
<text x="207.3" y="791.4" font-size="8" font-weight="bold" text-anchor="end">0</text>
<line x1="208.5" y1="774" x2="210.5" y2="774" stroke="#000" stroke-width="0.7"/>
<text x="207.3" y="776.9" font-size="8" font-weight="bold" text-anchor="end">1</text>
<line x1="208.5" y1="759.5" x2="210.5" y2="759.5" stroke="#000" stroke-width="0.7"/>
<text x="207.3" y="762.4" font-size="8" font-weight="bold" text-anchor="end">2</text>
<line x1="208.5" y1="740" x2="210.5" y2="740" stroke="#000" stroke-width="0.7"/>
<text x="207.3" y="742.9" font-size="8" font-weight="bold" text-anchor="end">5</text>
<line x1="208.5" y1="729.5" x2="210.5" y2="729.5" stroke="#000" stroke-width="0.7"/>
<text x="207.3" y="732.4" font-size="8" font-weight="bold" text-anchor="end">10</text>
<line x1="208.5" y1="719" x2="210.5" y2="719" stroke="#000" stroke-width="0.7"/>
<text x="207.3" y="721.9" font-size="8" font-weight="bold" text-anchor="end">15</text>
<line x1="208.5" y1="708.5" x2="210.5" y2="708.5" stroke="#000" stroke-width="0.7"/>
<text x="207.3" y="711.4" font-size="8" font-weight="bold" text-anchor="end">20</text>
<line x1="208.5" y1="696.2" x2="210.5" y2="696.2" stroke="#000" stroke-width="0.7"/>
<text x="207.3" y="699.1" font-size="8" font-weight="bold" text-anchor="end">40</text>
<line x1="208.5" y1="687" x2="210.5" y2="687" stroke="#000" stroke-width="0.7"/>
<text x="207.3" y="689.9" font-size="8" font-weight="bold" text-anchor="end">80</text>
<rect x="217.3" y="774" width="5.6" height="14.5" fill="#d4d4d4" stroke="#222" stroke-width="0.6"/>
<rect x="226" y="781.98" width="6.5" height="6.52" fill="#ff6600"/>
<line x1="220.1" y1="772.55" x2="220.1" y2="775.45" stroke="#000" stroke-width="0.6"/>
<line x1="218.6" y1="772.55" x2="221.6" y2="772.55" stroke="#000" stroke-width="0.6"/>
<line x1="229.25" y1="779.8" x2="229.25" y2="784.15" stroke="#000" stroke-width="0.6"/>
<line x1="227.75" y1="779.8" x2="230.75" y2="779.8" stroke="#000" stroke-width="0.6"/>
<circle cx="220.1" cy="775.45" r="1.8" fill="#000"/>
<circle cx="218.9" cy="773.27" r="1.8" fill="#000"/>
<circle cx="221.3" cy="774" r="1.8" fill="#000"/>
<circle cx="218.9" cy="774.73" r="1.8" fill="#000"/>
<rect x="227.55" y="776.65" width="3.4" height="3.4" fill="#000"/>
<rect x="226.55" y="779.55" width="3.4" height="3.4" fill="#000"/>
<rect x="228.55" y="782.45" width="3.4" height="3.4" fill="#000"/>
<rect x="226.55" y="781" width="3.4" height="3.4" fill="#000"/>
<text x="0" y="0" font-size="8.2" font-weight="bold" font-style="italic" text-anchor="end" transform="translate(228.5 795) rotate(-45)">Adar</text>
<line x1="224.6" y1="788.5" x2="224.6" y2="791" stroke="#000" stroke-width="0.6"/>
<line x1="219.1" y1="770.38" x2="230.25" y2="770.38" stroke="#000" stroke-width="0.6"/>
<line x1="219.1" y1="770.38" x2="219.1" y2="772.38" stroke="#000" stroke-width="0.6"/>
<text x="0" y="0" font-size="7.5" transform="translate(225.6 768.88) rotate(-90)"><tspan font-style="italic">p</tspan>=0.012</text>
<rect x="238.65" y="774" width="5.6" height="14.5" fill="#d4d4d4" stroke="#222" stroke-width="0.6"/>
<rect x="247.35" y="752" width="6.5" height="36.5" fill="#ff6600"/>
<rect x="247.35" y="741.05" width="6.5" height="3.95" fill="#ff6600"/>
<line x1="241.45" y1="771.83" x2="241.45" y2="776.17" stroke="#000" stroke-width="0.6"/>
<line x1="239.95" y1="771.83" x2="242.95" y2="771.83" stroke="#000" stroke-width="0.6"/>
<line x1="250.6" y1="740.21" x2="250.6" y2="741.89" stroke="#000" stroke-width="0.6"/>
<line x1="249.1" y1="740.21" x2="252.1" y2="740.21" stroke="#000" stroke-width="0.6"/>
<circle cx="241.45" cy="771.1" r="1.8" fill="#000"/>
<circle cx="240.25" cy="775.45" r="1.8" fill="#000"/>
<circle cx="242.65" cy="776.9" r="1.8" fill="#000"/>
<circle cx="240.25" cy="772.55" r="1.8" fill="#000"/>
<rect x="248.9" y="739.98" width="3.4" height="3.4" fill="#000"/>
<rect x="247.9" y="738.3" width="3.4" height="3.4" fill="#000"/>
<rect x="249.9" y="739.14" width="3.4" height="3.4" fill="#000"/>
<rect x="247.9" y="738.72" width="3.4" height="3.4" fill="#000"/>
<text x="0" y="0" font-size="8.2" font-weight="bold" font-style="italic" text-anchor="end" transform="translate(249.85 795) rotate(-45)">Mda5</text>
<line x1="245.95" y1="788.5" x2="245.95" y2="791" stroke="#000" stroke-width="0.6"/>
<line x1="240.45" y1="733.28" x2="251.6" y2="733.28" stroke="#000" stroke-width="0.6"/>
<line x1="240.45" y1="733.28" x2="240.45" y2="735.28" stroke="#000" stroke-width="0.6"/>
<text x="0" y="0" font-size="7.5" transform="translate(246.95 731.78) rotate(-90)"><tspan font-style="italic">p</tspan>=0.0006</text>
<rect x="260" y="774" width="5.6" height="14.5" fill="#d4d4d4" stroke="#222" stroke-width="0.6"/>
<rect x="268.7" y="752" width="6.5" height="36.5" fill="#ff6600"/>
<rect x="268.7" y="705" width="6.5" height="40" fill="#ff6600"/>
<rect x="268.7" y="696.2" width="6.5" height="3.8" fill="#ff6600"/>
<line x1="262.8" y1="765.3" x2="262.8" y2="782.7" stroke="#000" stroke-width="0.6"/>
<line x1="261.3" y1="765.3" x2="264.3" y2="765.3" stroke="#000" stroke-width="0.6"/>
<line x1="271.95" y1="695.51" x2="271.95" y2="696.89" stroke="#000" stroke-width="0.6"/>
<line x1="270.45" y1="695.51" x2="273.45" y2="695.51" stroke="#000" stroke-width="0.6"/>
<circle cx="262.8" cy="758.05" r="1.8" fill="#000"/>
<circle cx="261.6" cy="781.25" r="1.8" fill="#000"/>
<circle cx="264" cy="787.05" r="1.8" fill="#000"/>
<circle cx="261.6" cy="785.6" r="1.8" fill="#000"/>
<rect x="270.25" y="694.96" width="3.4" height="3.4" fill="#000"/>
<rect x="269.25" y="694.04" width="3.4" height="3.4" fill="#000"/>
<rect x="271.25" y="695.42" width="3.4" height="3.4" fill="#000"/>
<rect x="269.25" y="693.35" width="3.4" height="3.4" fill="#000"/>
<text x="0" y="0" font-size="8.2" font-weight="bold" font-style="italic" text-anchor="end" transform="translate(271.2 795) rotate(-45)">Ifit3</text>
<line x1="267.3" y1="788.5" x2="267.3" y2="791" stroke="#000" stroke-width="0.6"/>
<line x1="261.8" y1="691.14" x2="272.95" y2="691.14" stroke="#000" stroke-width="0.6"/>
<line x1="261.8" y1="691.14" x2="261.8" y2="693.14" stroke="#000" stroke-width="0.6"/>
<text x="0" y="0" font-size="7.5" transform="translate(268.3 689.64) rotate(-90)"><tspan font-style="italic">p</tspan>=0.0003</text>
<rect x="281.35" y="774" width="5.6" height="14.5" fill="#d4d4d4" stroke="#222" stroke-width="0.6"/>
<rect x="290.05" y="752" width="6.5" height="36.5" fill="#ff6600"/>
<line x1="284.15" y1="772.55" x2="284.15" y2="775.45" stroke="#000" stroke-width="0.6"/>
<line x1="282.65" y1="772.55" x2="285.65" y2="772.55" stroke="#000" stroke-width="0.6"/>
<line x1="293.3" y1="743.36" x2="293.3" y2="762.4" stroke="#000" stroke-width="0.6"/>
<line x1="291.8" y1="743.36" x2="294.8" y2="743.36" stroke="#000" stroke-width="0.6"/>
<circle cx="284.15" cy="772.55" r="1.8" fill="#000"/>
<circle cx="282.95" cy="774" r="1.8" fill="#000"/>
<circle cx="285.35" cy="774.73" r="1.8" fill="#000"/>
<circle cx="282.95" cy="775.45" r="1.8" fill="#000"/>
<rect x="291.6" y="762.15" width="3.4" height="3.4" fill="#000"/>
<rect x="290.6" y="757.8" width="3.4" height="3.4" fill="#000"/>
<rect x="292.6" y="742.08" width="3.4" height="3.4" fill="#000"/>
<rect x="290.6" y="736.2" width="3.4" height="3.4" fill="#000"/>
<text x="0" y="0" font-size="8.2" font-weight="bold" font-style="italic" text-anchor="end" transform="translate(292.55 795) rotate(-45)">Irf9</text>
<line x1="288.65" y1="788.5" x2="288.65" y2="791" stroke="#000" stroke-width="0.6"/>
<rect x="302.7" y="774" width="5.6" height="14.5" fill="#d4d4d4" stroke="#222" stroke-width="0.6"/>
<rect x="311.4" y="752" width="6.5" height="36.5" fill="#ff6600"/>
<rect x="311.4" y="705" width="6.5" height="40" fill="#ff6600"/>
<rect x="311.4" y="696.2" width="6.5" height="3.8" fill="#ff6600"/>
<line x1="305.5" y1="765.3" x2="305.5" y2="782.7" stroke="#000" stroke-width="0.6"/>
<line x1="304" y1="765.3" x2="307" y2="765.3" stroke="#000" stroke-width="0.6"/>
<line x1="314.65" y1="695.05" x2="314.65" y2="697.35" stroke="#000" stroke-width="0.6"/>
<line x1="313.15" y1="695.05" x2="316.15" y2="695.05" stroke="#000" stroke-width="0.6"/>
<circle cx="305.5" cy="758.05" r="1.8" fill="#000"/>
<circle cx="304.3" cy="781.25" r="1.8" fill="#000"/>
<circle cx="306.7" cy="787.05" r="1.8" fill="#000"/>
<circle cx="304.3" cy="784.15" r="1.8" fill="#000"/>
<rect x="312.95" y="695.42" width="3.4" height="3.4" fill="#000"/>
<rect x="311.95" y="694.04" width="3.4" height="3.4" fill="#000"/>
<rect x="313.95" y="692.2" width="3.4" height="3.4" fill="#000"/>
<rect x="311.95" y="693.58" width="3.4" height="3.4" fill="#000"/>
<text x="0" y="0" font-size="8.2" font-weight="bold" font-style="italic" text-anchor="end" transform="translate(313.9 795) rotate(-45)">Isg15</text>
<line x1="310" y1="788.5" x2="310" y2="791" stroke="#000" stroke-width="0.6"/>
<line x1="304.5" y1="690.22" x2="315.65" y2="690.22" stroke="#000" stroke-width="0.6"/>
<line x1="304.5" y1="690.22" x2="304.5" y2="692.22" stroke="#000" stroke-width="0.6"/>
<text x="0" y="0" font-size="7.5" transform="translate(311 688.72) rotate(-90)"><tspan font-style="italic">p</tspan>=0.005</text>
<rect x="324.05" y="774" width="5.6" height="14.5" fill="#d4d4d4" stroke="#222" stroke-width="0.6"/>
<rect x="332.75" y="752" width="6.5" height="36.5" fill="#ff6600"/>
<rect x="332.75" y="705" width="6.5" height="40" fill="#ff6600"/>
<rect x="332.75" y="691.6" width="6.5" height="8.4" fill="#ff6600"/>
<line x1="326.85" y1="769.65" x2="326.85" y2="778.35" stroke="#000" stroke-width="0.6"/>
<line x1="325.35" y1="769.65" x2="328.35" y2="769.65" stroke="#000" stroke-width="0.6"/>
<line x1="336" y1="689.3" x2="336" y2="693.9" stroke="#000" stroke-width="0.6"/>
<line x1="334.5" y1="689.3" x2="337.5" y2="689.3" stroke="#000" stroke-width="0.6"/>
<circle cx="326.85" cy="768.2" r="1.8" fill="#000"/>
<circle cx="325.65" cy="774" r="1.8" fill="#000"/>
<circle cx="328.05" cy="778.35" r="1.8" fill="#000"/>
<circle cx="325.65" cy="779.8" r="1.8" fill="#000"/>
<rect x="334.3" y="691.05" width="3.4" height="3.4" fill="#000"/>
<rect x="333.3" y="687.6" width="3.4" height="3.4" fill="#000"/>
<rect x="335.3" y="689.9" width="3.4" height="3.4" fill="#000"/>
<rect x="333.3" y="688.75" width="3.4" height="3.4" fill="#000"/>
<text x="0" y="0" font-size="8.2" font-weight="bold" font-style="italic" text-anchor="end" transform="translate(335.25 795) rotate(-45)">Mx1</text>
<line x1="331.35" y1="788.5" x2="331.35" y2="791" stroke="#000" stroke-width="0.6"/>
<line x1="325.85" y1="683.55" x2="337" y2="683.55" stroke="#000" stroke-width="0.6"/>
<line x1="325.85" y1="683.55" x2="325.85" y2="685.55" stroke="#000" stroke-width="0.6"/>
<text x="0" y="0" font-size="7.5" transform="translate(332.35 682.05) rotate(-90)"><tspan font-style="italic">p</tspan>=0.0005</text>
<rect x="345.4" y="774" width="5.6" height="14.5" fill="#d4d4d4" stroke="#222" stroke-width="0.6"/>
<rect x="354.1" y="752" width="6.5" height="36.5" fill="#ff6600"/>
<rect x="354.1" y="741.05" width="6.5" height="3.95" fill="#ff6600"/>
<line x1="348.2" y1="768.92" x2="348.2" y2="779.08" stroke="#000" stroke-width="0.6"/>
<line x1="346.7" y1="768.92" x2="349.7" y2="768.92" stroke="#000" stroke-width="0.6"/>
<line x1="357.35" y1="740" x2="357.35" y2="742.1" stroke="#000" stroke-width="0.6"/>
<line x1="355.85" y1="740" x2="358.85" y2="740" stroke="#000" stroke-width="0.6"/>
<circle cx="348.2" cy="768.2" r="1.8" fill="#000"/>
<circle cx="347" cy="775.45" r="1.8" fill="#000"/>
<circle cx="349.4" cy="779.8" r="1.8" fill="#000"/>
<circle cx="347" cy="781.25" r="1.8" fill="#000"/>
<rect x="355.65" y="740.4" width="3.4" height="3.4" fill="#000"/>
<rect x="354.65" y="739.14" width="3.4" height="3.4" fill="#000"/>
<rect x="356.65" y="738.3" width="3.4" height="3.4" fill="#000"/>
<rect x="354.65" y="739.77" width="3.4" height="3.4" fill="#000"/>
<text x="0" y="0" font-size="8.2" font-weight="bold" font-style="italic" text-anchor="end" transform="translate(356.6 795) rotate(-45)">Stat1</text>
<line x1="352.7" y1="788.5" x2="352.7" y2="791" stroke="#000" stroke-width="0.6"/>
<line x1="347.2" y1="732.65" x2="358.35" y2="732.65" stroke="#000" stroke-width="0.6"/>
<line x1="347.2" y1="732.65" x2="347.2" y2="734.65" stroke="#000" stroke-width="0.6"/>
<text x="0" y="0" font-size="7.5" transform="translate(353.7 731.15) rotate(-90)"><tspan font-style="italic">p</tspan>=0.009</text>
<rect x="366.75" y="774" width="5.6" height="14.5" fill="#d4d4d4" stroke="#222" stroke-width="0.6"/>
<rect x="375.45" y="769.65" width="6.5" height="18.85" fill="#ff6600"/>
<line x1="369.55" y1="772.55" x2="369.55" y2="775.45" stroke="#000" stroke-width="0.6"/>
<line x1="368.05" y1="772.55" x2="371.05" y2="772.55" stroke="#000" stroke-width="0.6"/>
<line x1="378.7" y1="766.75" x2="378.7" y2="772.55" stroke="#000" stroke-width="0.6"/>
<line x1="377.2" y1="766.75" x2="380.2" y2="766.75" stroke="#000" stroke-width="0.6"/>
<circle cx="369.55" cy="772.55" r="1.8" fill="#000"/>
<circle cx="368.35" cy="774.73" r="1.8" fill="#000"/>
<circle cx="370.75" cy="774" r="1.8" fill="#000"/>
<circle cx="368.35" cy="775.45" r="1.8" fill="#000"/>
<rect x="377" y="765.05" width="3.4" height="3.4" fill="#000"/>
<rect x="376" y="769.4" width="3.4" height="3.4" fill="#000"/>
<rect x="378" y="772.3" width="3.4" height="3.4" fill="#000"/>
<rect x="376" y="763.6" width="3.4" height="3.4" fill="#000"/>
<text x="0" y="0" font-size="8.2" font-weight="bold" font-style="italic" text-anchor="end" transform="translate(377.95 795) rotate(-45)">Cd68</text>
<line x1="374.05" y1="788.5" x2="374.05" y2="791" stroke="#000" stroke-width="0.6"/>
<rect x="388.1" y="774" width="5.6" height="14.5" fill="#d4d4d4" stroke="#222" stroke-width="0.6"/>
<rect x="396.8" y="752" width="6.5" height="36.5" fill="#ff6600"/>
<rect x="396.8" y="729.5" width="6.5" height="15.5" fill="#ff6600"/>
<line x1="390.9" y1="771.83" x2="390.9" y2="776.17" stroke="#000" stroke-width="0.6"/>
<line x1="389.4" y1="771.83" x2="392.4" y2="771.83" stroke="#000" stroke-width="0.6"/>
<line x1="400.05" y1="724.25" x2="400.05" y2="734.75" stroke="#000" stroke-width="0.6"/>
<line x1="398.55" y1="724.25" x2="401.55" y2="724.25" stroke="#000" stroke-width="0.6"/>
<circle cx="390.9" cy="771.1" r="1.8" fill="#000"/>
<circle cx="389.7" cy="775.45" r="1.8" fill="#000"/>
<circle cx="392.1" cy="776.9" r="1.8" fill="#000"/>
<circle cx="389.7" cy="774" r="1.8" fill="#000"/>
<rect x="398.35" y="732" width="3.4" height="3.4" fill="#000"/>
<rect x="397.35" y="723.6" width="3.4" height="3.4" fill="#000"/>
<rect x="399.35" y="727.8" width="3.4" height="3.4" fill="#000"/>
<rect x="397.35" y="735.15" width="3.4" height="3.4" fill="#000"/>
<text x="0" y="0" font-size="8.2" font-weight="bold" font-style="italic" text-anchor="end" transform="translate(399.3 795) rotate(-45)">Mcp1</text>
<line x1="395.4" y1="788.5" x2="395.4" y2="791" stroke="#000" stroke-width="0.6"/>
<line x1="389.9" y1="719" x2="401.05" y2="719" stroke="#000" stroke-width="0.6"/>
<line x1="389.9" y1="719" x2="389.9" y2="721" stroke="#000" stroke-width="0.6"/>
<text x="0" y="0" font-size="7.5" transform="translate(396.4 717.5) rotate(-90)"><tspan font-style="italic">p</tspan>=0.02</text>
<rect x="409.45" y="774" width="5.6" height="14.5" fill="#d4d4d4" stroke="#222" stroke-width="0.6"/>
<rect x="418.15" y="752" width="6.5" height="36.5" fill="#ff6600"/>
<rect x="418.15" y="736.85" width="6.5" height="8.15" fill="#ff6600"/>
<line x1="412.25" y1="768.92" x2="412.25" y2="779.08" stroke="#000" stroke-width="0.6"/>
<line x1="410.75" y1="768.92" x2="413.75" y2="768.92" stroke="#000" stroke-width="0.6"/>
<line x1="421.4" y1="733.7" x2="421.4" y2="740" stroke="#000" stroke-width="0.6"/>
<line x1="419.9" y1="733.7" x2="422.9" y2="733.7" stroke="#000" stroke-width="0.6"/>
<circle cx="412.25" cy="766.75" r="1.8" fill="#000"/>
<circle cx="411.05" cy="775.45" r="1.8" fill="#000"/>
<circle cx="413.45" cy="779.8" r="1.8" fill="#000"/>
<circle cx="411.05" cy="776.9" r="1.8" fill="#000"/>
<rect x="419.7" y="737.88" width="3.4" height="3.4" fill="#000"/>
<rect x="418.7" y="734.1" width="3.4" height="3.4" fill="#000"/>
<rect x="420.7" y="736.2" width="3.4" height="3.4" fill="#000"/>
<rect x="418.7" y="732" width="3.4" height="3.4" fill="#000"/>
<text x="0" y="0" font-size="8.2" font-weight="bold" font-style="italic" text-anchor="end" transform="translate(420.65 795) rotate(-45)">Il6</text>
<line x1="416.75" y1="788.5" x2="416.75" y2="791" stroke="#000" stroke-width="0.6"/>
<line x1="411.25" y1="729.92" x2="422.4" y2="729.92" stroke="#000" stroke-width="0.6"/>
<line x1="411.25" y1="729.92" x2="411.25" y2="731.92" stroke="#000" stroke-width="0.6"/>
<text x="0" y="0" font-size="7.5" transform="translate(417.75 728.42) rotate(-90)"><tspan font-style="italic">p</tspan>=0.006</text>
<rect x="430.8" y="774" width="5.6" height="14.5" fill="#d4d4d4" stroke="#222" stroke-width="0.6"/>
<rect x="439.5" y="752" width="6.5" height="36.5" fill="#ff6600"/>
<rect x="439.5" y="727.4" width="6.5" height="17.6" fill="#ff6600"/>
<line x1="433.6" y1="768.2" x2="433.6" y2="779.8" stroke="#000" stroke-width="0.6"/>
<line x1="432.1" y1="768.2" x2="435.1" y2="768.2" stroke="#000" stroke-width="0.6"/>
<line x1="442.75" y1="711.65" x2="442.75" y2="743.15" stroke="#000" stroke-width="0.6"/>
<line x1="441.25" y1="711.65" x2="444.25" y2="711.65" stroke="#000" stroke-width="0.6"/>
<circle cx="433.6" cy="765.3" r="1.8" fill="#000"/>
<circle cx="432.4" cy="778.35" r="1.8" fill="#000"/>
<circle cx="434.8" cy="785.6" r="1.8" fill="#000"/>
<circle cx="432.4" cy="779.8" r="1.8" fill="#000"/>
<rect x="441.05" y="695.65" width="3.4" height="3.4" fill="#000"/>
<rect x="440.05" y="725.7" width="3.4" height="3.4" fill="#000"/>
<rect x="442.05" y="765.05" width="3.4" height="3.4" fill="#000"/>
<rect x="440.05" y="754.9" width="3.4" height="3.4" fill="#000"/>
<text x="0" y="0" font-size="8.2" font-weight="bold" font-style="italic" text-anchor="end" transform="translate(442 795) rotate(-45)">Il1β</text>
<line x1="438.1" y1="788.5" x2="438.1" y2="791" stroke="#000" stroke-width="0.6"/>
<rect x="452.15" y="774" width="5.6" height="14.5" fill="#d4d4d4" stroke="#222" stroke-width="0.6"/>
<rect x="460.85" y="752" width="6.5" height="36.5" fill="#ff6600"/>
<rect x="460.85" y="729.5" width="6.5" height="15.5" fill="#ff6600"/>
<line x1="454.95" y1="769.65" x2="454.95" y2="778.35" stroke="#000" stroke-width="0.6"/>
<line x1="453.45" y1="769.65" x2="456.45" y2="769.65" stroke="#000" stroke-width="0.6"/>
<line x1="464.1" y1="721.1" x2="464.1" y2="737.9" stroke="#000" stroke-width="0.6"/>
<line x1="462.6" y1="721.1" x2="465.6" y2="721.1" stroke="#000" stroke-width="0.6"/>
<circle cx="454.95" cy="768.2" r="1.8" fill="#000"/>
<circle cx="453.75" cy="775.45" r="1.8" fill="#000"/>
<circle cx="456.15" cy="778.35" r="1.8" fill="#000"/>
<circle cx="453.75" cy="771.1" r="1.8" fill="#000"/>
<rect x="462.4" y="697.26" width="3.4" height="3.4" fill="#000"/>
<rect x="461.4" y="729.9" width="3.4" height="3.4" fill="#000"/>
<rect x="463.4" y="736.2" width="3.4" height="3.4" fill="#000"/>
<rect x="461.4" y="723.6" width="3.4" height="3.4" fill="#000"/>
<text x="0" y="0" font-size="8.2" font-weight="bold" font-style="italic" text-anchor="end" transform="translate(463.35 795) rotate(-45)">Tnf</text>
<line x1="459.45" y1="788.5" x2="459.45" y2="791" stroke="#000" stroke-width="0.6"/>
<circle cx="360.4" cy="658.5" r="2.1" fill="#000"/>
<text x="372.8" y="663.7" font-size="9" font-weight="bold" fill="#000"><tspan font-style="italic">Adar</tspan><tspan font-size="5.94" dy="-4.5"> fl/fl</tspan></text>
<rect x="410.7" y="656.6" width="4.6" height="4.4" fill="#000"/>
<text x="425.5" y="663.7" font-size="9" font-weight="bold" fill="#000"><tspan font-style="italic">Adar</tspan><tspan font-size="5.94" dy="-4.5"> iΔgut</tspan></text>
<text x="469.3" y="577.3" font-size="17.5" font-weight="bold">o</text>
<text x="526.5" y="575.1" font-size="7.6" font-weight="bold" text-anchor="middle">Vehicle</text>
<text x="613.1" y="575.1" font-size="7.5" font-weight="bold" text-anchor="middle">4-OHT</text>
<text x="0" y="0" font-size="8.2" font-weight="bold" text-anchor="middle" transform="translate(482.3 622) rotate(-90)">Villin-CreERT2 <tspan font-style="italic">Adar</tspan><tspan font-size="5.2" dy="-3.2">fl/fl</tspan></text>
<g clip-path="url(#c20)">
<rect x="484.7" y="576.7" width="83.3" height="62.3" fill="url(#obg)"/>
<g filter="url(#soft2)"><ellipse cx="508.7" cy="620.7" rx="20" ry="13" fill="#c06a66" opacity="0.75" transform="rotate(-25 508.7 620.7)"/></g>
<g mask="url(#mk3)">
<rect x="482.7" y="599.7" width="52" height="40" filter="url(#nz16)"/>
</g>
<g mask="url(#mk4)">
<rect x="488.7" y="600.7" width="44" height="36" filter="url(#nz17)"/>
</g>
<ellipse cx="528.7" cy="587.7" rx="5" ry="7" fill="#c4c4c0" stroke="#4a4a4a" stroke-width="1.6" transform="rotate(-20 528.7 587.7)"/>
<path d="M530.7 594.7 C 538.7 600.7, 534.7 612.7, 530.7 618.7" fill="none" stroke="#505050" stroke-width="2.6"/>
<g filter="url(#soft1)"><ellipse cx="522.7" cy="610.7" rx="8" ry="6.5" fill="#c07a30"/></g>
<g filter="url(#soft1)"><ellipse cx="529.7" cy="606.7" rx="6" ry="5.5" fill="#38c030"/></g>
<ellipse cx="533.7" cy="625.7" rx="7" ry="6" fill="#6a8a50" stroke="#4a4a4a" stroke-width="1.6"/>
<g filter="url(#soft1)"><circle cx="533.7" cy="625.7" r="3.5" fill="#30e030"/></g>
<g filter="url(#soft1)"><circle cx="542.7" cy="598.2" r="2.2" fill="#30d030"/></g>
</g>
<line x1="554" y1="635.5" x2="564.5" y2="635.5" stroke="#111" stroke-width="1.2"/>
<g clip-path="url(#c21)">
<rect x="570.6" y="576.7" width="83.3" height="62.3" fill="url(#obg)"/>
<g filter="url(#soft2)"><ellipse cx="600.6" cy="586.7" rx="8" ry="5" fill="#40c040" opacity="0.8"/></g>
<g filter="url(#soft1)"><ellipse cx="611.6" cy="611.7" rx="16.5" ry="19.5" fill="#ec8a52"/></g>
<g mask="url(#mk5)">
<rect x="589.6" y="586.7" width="44" height="50" filter="url(#nz18)"/>
</g>
<g filter="url(#soft2)"><ellipse cx="616.6" cy="610.7" rx="10" ry="10.5" fill="#f2d41a"/></g>
</g>
<line x1="639.9" y1="635.5" x2="650.4" y2="635.5" stroke="#111" stroke-width="1.2"/>
<g clip-path="url(#c22)">
<rect x="484.7" y="640.8" width="40" height="28.4" fill="#010201"/>
<g filter="url(#soft1)"><ellipse cx="506.3" cy="656.1" rx="4.5" ry="3.5" fill="#20b020"/><circle cx="508.4" cy="665" r="2" fill="#20c020"/><circle cx="513.6" cy="650.8" r="1.3" fill="#20a020"/></g>
</g>
<line x1="517.7" y1="666.7" x2="522.2" y2="666.7" stroke="#fff" stroke-width="1.1"/>
<g clip-path="url(#c23)">
<rect x="526.8" y="640.8" width="41.2" height="28.4" fill="#010201"/>
<g mask="url(#mk6)">
<rect x="527.7" y="650" width="28" height="20" filter="url(#nz19)"/>
</g>
</g>
<line x1="561" y1="666.7" x2="565.5" y2="666.7" stroke="#fff" stroke-width="1.1"/>
<g clip-path="url(#c24)">
<rect x="570.6" y="640.8" width="40.8" height="28.4" fill="#010201"/>
<g filter="url(#soft1)"><ellipse cx="593" cy="657.4" rx="7.5" ry="7" fill="#18a820"/><circle cx="594" cy="658" r="4" fill="#38e038"/><ellipse cx="585.1" cy="645.6" rx="3" ry="2" fill="#20a020"/></g>
</g>
<line x1="604.4" y1="666.7" x2="608.9" y2="666.7" stroke="#fff" stroke-width="1.1"/>
<g clip-path="url(#c25)">
<rect x="612.7" y="640.8" width="42" height="28.4" fill="#010201"/>
<g filter="url(#soft1)"><ellipse cx="632.4" cy="656.1" rx="8.5" ry="9.5" fill="#ee1010"/></g>
<g mask="url(#mk7)">
<rect x="618.4" y="642.1" width="28" height="28" filter="url(#nz20)"/>
</g>
</g>
<line x1="647.7" y1="666.7" x2="652.2" y2="666.7" stroke="#fff" stroke-width="1.1"/>
<text x="483.2" y="679" font-size="6.5" font-weight="bold"><tspan fill="#22b573">Caspase 3/7 activity</tspan><tspan fill="#e8202a"> PI</tspan></text>
<text x="644.2" y="684" font-size="7.5" font-weight="bold">6 d</text>
<line x1="513" y1="696.5" x2="513" y2="788.5" stroke="#000" stroke-width="0.9"/>
<line x1="513" y1="788.5" x2="560" y2="788.5" stroke="#000" stroke-width="0.9"/>
<line x1="511" y1="788.5" x2="513" y2="788.5" stroke="#000" stroke-width="0.7"/>
<text x="510" y="790.44" font-size="5.4" text-anchor="end">0.0</text>
<line x1="511" y1="770.1" x2="513" y2="770.1" stroke="#000" stroke-width="0.7"/>
<text x="510" y="772.04" font-size="5.4" text-anchor="end">0.2</text>
<line x1="511" y1="751.7" x2="513" y2="751.7" stroke="#000" stroke-width="0.7"/>
<text x="510" y="753.64" font-size="5.4" text-anchor="end">0.4</text>
<line x1="511" y1="733.3" x2="513" y2="733.3" stroke="#000" stroke-width="0.7"/>
<text x="510" y="735.24" font-size="5.4" text-anchor="end">0.6</text>
<line x1="511" y1="714.9" x2="513" y2="714.9" stroke="#000" stroke-width="0.7"/>
<text x="510" y="716.84" font-size="5.4" text-anchor="end">0.8</text>
<line x1="511" y1="696.5" x2="513" y2="696.5" stroke="#000" stroke-width="0.7"/>
<text x="510" y="698.44" font-size="5.4" text-anchor="end">1.0</text>
<rect x="522.4" y="755.84" width="13.5" height="32.66" fill="#d4d4d4" stroke="#111" stroke-width="0.8"/>
<line x1="529.15" y1="749.4" x2="529.15" y2="762.28" stroke="#000" stroke-width="0.7"/>
<line x1="526.15" y1="749.4" x2="532.15" y2="749.4" stroke="#000" stroke-width="0.7"/>
<line x1="526.15" y1="762.28" x2="532.15" y2="762.28" stroke="#000" stroke-width="0.7"/>
<circle cx="526.15" cy="749.86" r="1.25" fill="#000"/>
<circle cx="531.15" cy="748.94" r="1.25" fill="#000"/>
<circle cx="529.15" cy="755.38" r="1.25" fill="#000"/>
<circle cx="526.15" cy="760.9" r="1.25" fill="#000"/>
<circle cx="531.15" cy="761.82" r="1.25" fill="#000"/>
<line x1="529.15" y1="788.5" x2="529.15" y2="790" stroke="#000" stroke-width="0.6"/>
<rect x="542.8" y="714.9" width="14.2" height="73.6" fill="#ff6600" stroke="#111" stroke-width="0.8"/>
<line x1="549.9" y1="701.1" x2="549.9" y2="728.7" stroke="#000" stroke-width="0.7"/>
<line x1="546.9" y1="701.1" x2="552.9" y2="701.1" stroke="#000" stroke-width="0.7"/>
<line x1="546.9" y1="728.7" x2="552.9" y2="728.7" stroke="#000" stroke-width="0.7"/>
<rect x="548.7" y="700.82" width="2.4" height="2.4" fill="#000"/>
<rect x="548.7" y="712.78" width="2.4" height="2.4" fill="#000"/>
<rect x="546.7" y="717.38" width="2.4" height="2.4" fill="#000"/>
<rect x="549.7" y="726.58" width="2.4" height="2.4" fill="#000"/>
<rect x="548.7" y="736.7" width="2.4" height="2.4" fill="#000"/>
<line x1="549.9" y1="788.5" x2="549.9" y2="790" stroke="#000" stroke-width="0.6"/>
<line x1="528" y1="697.2" x2="554.1" y2="697.2" stroke="#555" stroke-width="0.6"/>
<text x="541" y="695" font-size="6.3" text-anchor="middle"><tspan font-style="italic">p</tspan>=0.0003</text>
<text x="0" y="0" font-size="6.3" font-weight="bold" text-anchor="middle" transform="translate(500.4 743.6) rotate(-90)">Relative PI area / organoid</text>
<text x="518.6" y="796" font-size="6.1" font-weight="bold">Vehicle</text>
<text x="540.6" y="796" font-size="6" font-weight="bold">4-OHT</text>
<line x1="591.8" y1="695" x2="591.8" y2="786.6" stroke="#000" stroke-width="0.9"/>
<line x1="591.8" y1="786.6" x2="636" y2="786.6" stroke="#000" stroke-width="0.9"/>
<line x1="589.8" y1="786.6" x2="591.8" y2="786.6" stroke="#000" stroke-width="0.7"/>
<text x="588.8" y="788.54" font-size="5.4" text-anchor="end">0.0</text>
<line x1="589.8" y1="756.07" x2="591.8" y2="756.07" stroke="#000" stroke-width="0.7"/>
<text x="588.8" y="758.01" font-size="5.4" text-anchor="end">0.4</text>
<line x1="589.8" y1="725.53" x2="591.8" y2="725.53" stroke="#000" stroke-width="0.7"/>
<text x="588.8" y="727.48" font-size="5.4" text-anchor="end">0.8</text>
<line x1="589.8" y1="695" x2="591.8" y2="695" stroke="#000" stroke-width="0.7"/>
<text x="588.8" y="696.94" font-size="5.4" text-anchor="end">1.2</text>
<rect x="597.1" y="765.99" width="14.1" height="20.61" fill="#d4d4d4" stroke="#111" stroke-width="0.8"/>
<line x1="604.15" y1="761.41" x2="604.15" y2="770.57" stroke="#000" stroke-width="0.7"/>
<line x1="601.15" y1="761.41" x2="607.15" y2="761.41" stroke="#000" stroke-width="0.7"/>
<line x1="601.15" y1="770.57" x2="607.15" y2="770.57" stroke="#000" stroke-width="0.7"/>
<circle cx="603.15" cy="760.65" r="1.25" fill="#000"/>
<circle cx="606.15" cy="764.46" r="1.25" fill="#000"/>
<circle cx="601.15" cy="765.99" r="1.25" fill="#000"/>
<circle cx="607.15" cy="769.81" r="1.25" fill="#000"/>
<circle cx="604.15" cy="772.86" r="1.25" fill="#000"/>
<line x1="604.15" y1="786.6" x2="604.15" y2="788.1" stroke="#000" stroke-width="0.6"/>
<rect x="618.5" y="721.72" width="13.8" height="64.88" fill="#ff6600" stroke="#111" stroke-width="0.8"/>
<line x1="625.4" y1="715.61" x2="625.4" y2="727.82" stroke="#000" stroke-width="0.7"/>
<line x1="622.4" y1="715.61" x2="628.4" y2="715.61" stroke="#000" stroke-width="0.7"/>
<line x1="622.4" y1="727.82" x2="628.4" y2="727.82" stroke="#000" stroke-width="0.7"/>
<rect x="622.2" y="715.17" width="2.4" height="2.4" fill="#000"/>
<rect x="625.2" y="718.99" width="2.4" height="2.4" fill="#000"/>
<rect x="627.2" y="724.33" width="2.4" height="2.4" fill="#000"/>
<rect x="622.2" y="725.86" width="2.4" height="2.4" fill="#000"/>
<rect x="624.2" y="721.28" width="2.4" height="2.4" fill="#000"/>
<line x1="625.4" y1="786.6" x2="625.4" y2="788.1" stroke="#000" stroke-width="0.6"/>
<line x1="603.4" y1="705" x2="627" y2="705" stroke="#555" stroke-width="0.6"/>
<text x="614.8" y="701.9" font-size="6.3" text-anchor="middle">p&lt;0.0001</text>
<text x="0" y="0" font-size="6.3" font-weight="bold" text-anchor="middle" transform="translate(574.2 738.5) rotate(-90)">Relative cas3/7<tspan font-size="4.2" dy="-2.4">+</tspan><tspan dy="2.4"> / organoid</tspan></text>
<text x="593" y="796" font-size="6.1" font-weight="bold">Vehicle</text>
<text x="615.8" y="796" font-size="6" font-weight="bold">4-OHT</text>
<line x1="26.3" y1="293.3" x2="26.3" y2="371.1" stroke="#000" stroke-width="0.9"/>
<line x1="26.3" y1="371.1" x2="80" y2="371.1" stroke="#000" stroke-width="0.9"/>
<line x1="24.5" y1="371.1" x2="26.3" y2="371.1" stroke="#000" stroke-width="0.7"/>
<text x="23.5" y="373.04" font-size="5.4" text-anchor="end">0</text>
<line x1="24.5" y1="345.17" x2="26.3" y2="345.17" stroke="#000" stroke-width="0.7"/>
<text x="23.5" y="347.11" font-size="5.4" text-anchor="end">5</text>
<line x1="24.5" y1="319.23" x2="26.3" y2="319.23" stroke="#000" stroke-width="0.7"/>
<text x="23.5" y="321.18" font-size="5.4" text-anchor="end">10</text>
<line x1="24.5" y1="293.3" x2="26.3" y2="293.3" stroke="#000" stroke-width="0.7"/>
<text x="23.5" y="295.24" font-size="5.4" text-anchor="end">15</text>
<rect x="33" y="369.8" width="14" height="1.3" fill="#d4d4d4" stroke="#111" stroke-width="0.8"/>
<line x1="40" y1="367.73" x2="40" y2="371.88" stroke="#000" stroke-width="0.7"/>
<line x1="37" y1="367.73" x2="43" y2="367.73" stroke="#000" stroke-width="0.7"/>
<line x1="37" y1="371.88" x2="43" y2="371.88" stroke="#000" stroke-width="0.7"/>
<circle cx="38" cy="370.58" r="1.25" fill="#000"/>
<circle cx="41" cy="370.84" r="1.25" fill="#000"/>
<circle cx="44" cy="370.58" r="1.25" fill="#000"/>
<circle cx="40" cy="366.43" r="1.25" fill="#000"/>
<circle cx="36" cy="370.58" r="1.25" fill="#000"/>
<line x1="40" y1="371.1" x2="40" y2="372.6" stroke="#000" stroke-width="0.6"/>
<rect x="54.3" y="324.42" width="14.7" height="46.68" fill="#ff6600" stroke="#111" stroke-width="0.8"/>
<line x1="61.65" y1="319.23" x2="61.65" y2="329.61" stroke="#000" stroke-width="0.7"/>
<line x1="58.65" y1="319.23" x2="64.65" y2="319.23" stroke="#000" stroke-width="0.7"/>
<line x1="58.65" y1="329.61" x2="64.65" y2="329.61" stroke="#000" stroke-width="0.7"/>
<rect x="60.45" y="318.03" width="2.4" height="2.4" fill="#000"/>
<rect x="59.45" y="322.7" width="2.4" height="2.4" fill="#000"/>
<rect x="60.45" y="328.41" width="2.4" height="2.4" fill="#000"/>
<line x1="61.65" y1="371.1" x2="61.65" y2="372.6" stroke="#000" stroke-width="0.6"/>
<line x1="41.4" y1="316.5" x2="63.1" y2="316.5" stroke="#555" stroke-width="0.6"/>
<text x="51.5" y="314.6" font-size="5.5" text-anchor="middle" fill="#333">p&lt;0.0001</text>
<text x="0" y="0" font-size="6.2" text-anchor="middle" transform="translate(16.4 331.6) rotate(-90)">Histopathological scores</text>
<text x="30.2" y="378.6" font-size="5.2" font-weight="bold" fill="#000"><tspan font-style="italic">Adar</tspan><tspan font-size="3.22" dy="-2.18"> fl/fl</tspan></text>
<text x="50.3" y="378.6" font-size="5.2" font-weight="bold" fill="#000"><tspan font-style="italic">Adar</tspan><tspan font-size="3.22" dy="-2.18"> iΔgut</tspan></text>
<line x1="106.9" y1="293.3" x2="106.9" y2="371.1" stroke="#000" stroke-width="0.9"/>
<line x1="106.9" y1="371.1" x2="155" y2="371.1" stroke="#000" stroke-width="0.9"/>
<line x1="105.1" y1="371.1" x2="106.9" y2="371.1" stroke="#000" stroke-width="0.7"/>
<text x="104.1" y="373.04" font-size="5.4" text-anchor="end">0.0</text>
<line x1="105.1" y1="351.65" x2="106.9" y2="351.65" stroke="#000" stroke-width="0.7"/>
<text x="104.1" y="353.59" font-size="5.4" text-anchor="end">0.5</text>
<line x1="105.1" y1="332.2" x2="106.9" y2="332.2" stroke="#000" stroke-width="0.7"/>
<text x="104.1" y="334.14" font-size="5.4" text-anchor="end">1.0</text>
<line x1="105.1" y1="312.75" x2="106.9" y2="312.75" stroke="#000" stroke-width="0.7"/>
<text x="104.1" y="314.69" font-size="5.4" text-anchor="end">1.5</text>
<line x1="105.1" y1="293.3" x2="106.9" y2="293.3" stroke="#000" stroke-width="0.7"/>
<text x="104.1" y="295.24" font-size="5.4" text-anchor="end">2.0</text>
<rect x="112.8" y="332.2" width="15.1" height="38.9" fill="#d4d4d4" stroke="#111" stroke-width="0.8"/>
<line x1="120.35" y1="329.09" x2="120.35" y2="335.31" stroke="#000" stroke-width="0.7"/>
<line x1="117.35" y1="329.09" x2="123.35" y2="329.09" stroke="#000" stroke-width="0.7"/>
<line x1="117.35" y1="335.31" x2="123.35" y2="335.31" stroke="#000" stroke-width="0.7"/>
<circle cx="116.35" cy="330.25" r="1.25" fill="#000"/>
<circle cx="120.35" cy="329.48" r="1.25" fill="#000"/>
<circle cx="124.35" cy="331.03" r="1.25" fill="#000"/>
<circle cx="117.35" cy="334.92" r="1.25" fill="#000"/>
<circle cx="123.35" cy="334.15" r="1.25" fill="#000"/>
<circle cx="120.35" cy="338.04" r="1.25" fill="#000"/>
<line x1="120.35" y1="371.1" x2="120.35" y2="372.6" stroke="#000" stroke-width="0.6"/>
<rect x="134.9" y="304.19" width="14" height="66.91" fill="#ff6600" stroke="#111" stroke-width="0.8"/>
<line x1="141.9" y1="299.52" x2="141.9" y2="308.86" stroke="#000" stroke-width="0.7"/>
<line x1="138.9" y1="299.52" x2="144.9" y2="299.52" stroke="#000" stroke-width="0.7"/>
<line x1="138.9" y1="308.86" x2="144.9" y2="308.86" stroke="#000" stroke-width="0.7"/>
<rect x="140.7" y="299.1" width="2.4" height="2.4" fill="#000"/>
<rect x="137.7" y="306.88" width="2.4" height="2.4" fill="#000"/>
<rect x="143.7" y="305.33" width="2.4" height="2.4" fill="#000"/>
<line x1="141.9" y1="371.1" x2="141.9" y2="372.6" stroke="#000" stroke-width="0.6"/>
<line x1="120" y1="295.5" x2="142" y2="295.5" stroke="#555" stroke-width="0.6"/>
<text x="131" y="293.8" font-size="5.5" text-anchor="middle" fill="#333">p&lt;0.0001</text>
<text x="0" y="0" font-size="6.2" text-anchor="middle" transform="translate(93.6 331.6) rotate(-90)">Rescaled ileal crypt length</text>
<text x="110.5" y="378.6" font-size="5.2" font-weight="bold" fill="#000"><tspan font-style="italic">Adar</tspan><tspan font-size="3.22" dy="-2.18"> fl/fl</tspan></text>
<text x="131.5" y="378.6" font-size="5.2" font-weight="bold" fill="#000"><tspan font-style="italic">Adar</tspan><tspan font-size="3.22" dy="-2.18"> iΔgut</tspan></text>
<line x1="185.7" y1="293.3" x2="185.7" y2="371.1" stroke="#000" stroke-width="0.9"/>
<line x1="185.7" y1="371.1" x2="232" y2="371.1" stroke="#000" stroke-width="0.9"/>
<line x1="183.9" y1="371.1" x2="185.7" y2="371.1" stroke="#000" stroke-width="0.7"/>
<text x="182.9" y="373.04" font-size="5.4" text-anchor="end">0.0</text>
<line x1="183.9" y1="345.17" x2="185.7" y2="345.17" stroke="#000" stroke-width="0.7"/>
<text x="182.9" y="347.11" font-size="5.4" text-anchor="end">0.5</text>
<line x1="183.9" y1="319.23" x2="185.7" y2="319.23" stroke="#000" stroke-width="0.7"/>
<text x="182.9" y="321.18" font-size="5.4" text-anchor="end">1.0</text>
<line x1="183.9" y1="293.3" x2="185.7" y2="293.3" stroke="#000" stroke-width="0.7"/>
<text x="182.9" y="295.24" font-size="5.4" text-anchor="end">1.5</text>
<rect x="191" y="319.23" width="14" height="51.87" fill="#d4d4d4" stroke="#111" stroke-width="0.8"/>
<line x1="198" y1="316.64" x2="198" y2="321.83" stroke="#000" stroke-width="0.7"/>
<line x1="195" y1="316.64" x2="201" y2="316.64" stroke="#000" stroke-width="0.7"/>
<line x1="195" y1="321.83" x2="201" y2="321.83" stroke="#000" stroke-width="0.7"/>
<circle cx="193" cy="317.16" r="1.25" fill="#000"/>
<circle cx="196" cy="316.12" r="1.25" fill="#000"/>
<circle cx="200" cy="316.64" r="1.25" fill="#000"/>
<circle cx="203" cy="317.68" r="1.25" fill="#000"/>
<circle cx="198" cy="320.79" r="1.25" fill="#000"/>
<circle cx="194" cy="321.31" r="1.25" fill="#000"/>
<line x1="198" y1="371.1" x2="198" y2="372.6" stroke="#000" stroke-width="0.6"/>
<rect x="212" y="336.35" width="14.7" height="34.75" fill="#ff6600" stroke="#111" stroke-width="0.8"/>
<line x1="219.35" y1="332.72" x2="219.35" y2="339.98" stroke="#000" stroke-width="0.7"/>
<line x1="216.35" y1="332.72" x2="222.35" y2="332.72" stroke="#000" stroke-width="0.7"/>
<line x1="216.35" y1="339.98" x2="222.35" y2="339.98" stroke="#000" stroke-width="0.7"/>
<rect x="218.15" y="332.04" width="2.4" height="2.4" fill="#000"/>
<rect x="216.15" y="336.71" width="2.4" height="2.4" fill="#000"/>
<rect x="220.15" y="337.74" width="2.4" height="2.4" fill="#000"/>
<line x1="219.35" y1="371.1" x2="219.35" y2="372.6" stroke="#000" stroke-width="0.6"/>
<line x1="197" y1="311.5" x2="220" y2="311.5" stroke="#555" stroke-width="0.6"/>
<text x="208.5" y="309.8" font-size="5.5" text-anchor="middle" fill="#333">p=0.0032</text>
<text x="0" y="0" font-size="6.2" text-anchor="middle" transform="translate(172.4 331.6) rotate(-90)">Rescaled ileal villi length</text>
<text x="189" y="378.6" font-size="5.2" font-weight="bold" fill="#000"><tspan font-style="italic">Adar</tspan><tspan font-size="3.22" dy="-2.18"> fl/fl</tspan></text>
<text x="210" y="378.6" font-size="5.2" font-weight="bold" fill="#000"><tspan font-style="italic">Adar</tspan><tspan font-size="3.22" dy="-2.18"> iΔgut</tspan></text>
</svg></body></html>
